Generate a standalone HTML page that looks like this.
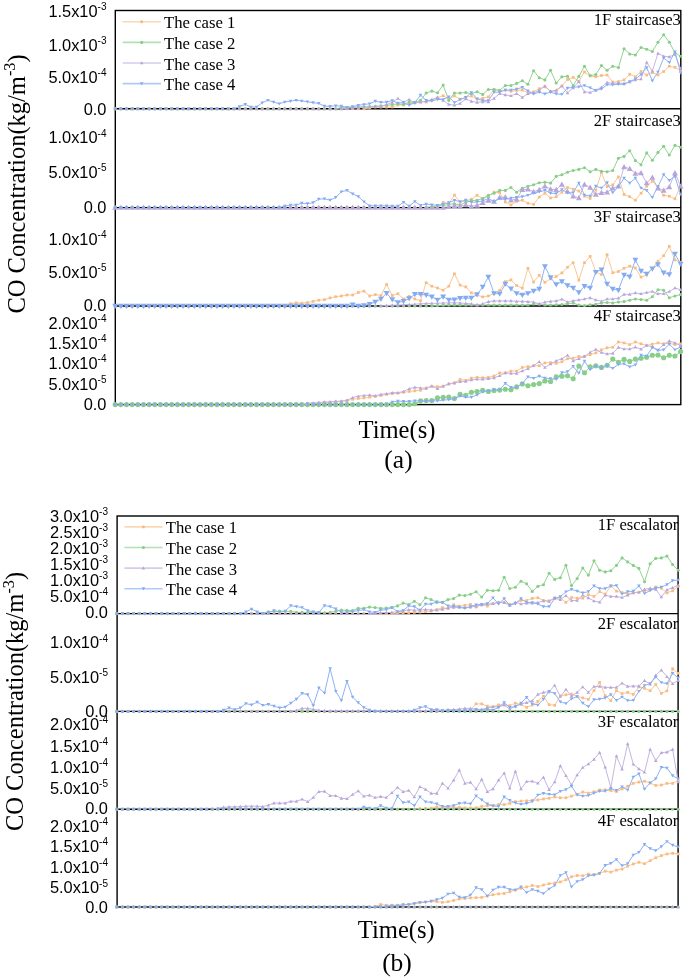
<!DOCTYPE html><html><head><meta charset="utf-8"><style>html,body{margin:0;padding:0;background:#fff;overflow:hidden}svg{display:block;filter:blur(0.3px)}</style></head><body>
<svg width="685" height="977" viewBox="0 0 685 977">
<rect width="100%" height="100%" fill="#fff"/>
<defs>
<clipPath id="clipA"><rect x="111.3" y="10.5" width="573.5" height="398.1"/></clipPath>
<clipPath id="clipB"><rect x="113.1" y="516.0" width="569.0" height="395.0"/></clipPath>
</defs>
<rect x="115.3" y="10.5" width="565.50" height="394.10" fill="none" stroke="#000" stroke-width="1.4"/>
<line x1="115.3" y1="108.8" x2="680.8" y2="108.8" stroke="#000" stroke-width="1.4"/>
<line x1="115.3" y1="207.6" x2="680.8" y2="207.6" stroke="#000" stroke-width="1.4"/>
<line x1="115.3" y1="306.0" x2="680.8" y2="306.0" stroke="#000" stroke-width="1.4"/>
<g clip-path="url(#clipA)">
<path d="M115.20,108.80M120.85,108.80M126.51,108.80M132.16,108.80M137.82,108.80M143.47,108.80M149.12,108.80M154.78,108.80M160.43,108.80M166.09,108.80M171.74,108.80M177.39,108.80M183.05,108.80M188.70,108.80M194.36,108.80M200.01,108.80M205.66,108.80M211.32,108.80M216.97,108.80M222.63,108.80M228.28,108.80M233.93,108.80M239.59,108.80M245.24,108.80M250.90,108.80M256.55,108.80M262.20,108.80M267.86,108.80M273.51,108.80M279.17,108.80M284.82,108.80M290.47,108.80M296.13,108.80M301.78,108.80M307.44,108.80M313.09,108.80M318.74,108.80M324.40,108.80M330.05,108.80M335.71,108.80M341.36,108.80M347.01,108.80M352.67,108.80M358.32,108.80M363.98,108.80L369.63,108.00L375.28,107.10L380.94,107.10L386.59,107.10L392.25,107.00L397.90,105.10L403.55,104.80L409.21,103.80L414.86,102.60L420.52,101.80L426.17,102.10L431.82,100.40L437.48,97.80L443.13,95.70L448.79,99.20L454.44,95.90L460.09,99.20L465.75,97.40L471.40,96.00L477.06,99.20L482.71,98.30L488.36,96.90L494.02,89.50L499.67,90.80L505.33,90.10L510.98,91.30L516.63,90.40L522.29,90.10L527.94,92.50L533.60,91.80L539.25,88.70L544.90,86.90L550.56,91.30L556.21,91.30L561.87,86.00L567.52,79.50L573.17,77.30L578.83,81.30L584.48,72.00L590.14,76.00L595.79,76.80L601.44,75.50L607.10,75.00L612.75,82.00L618.41,81.60L624.06,79.90L629.71,74.30L635.37,76.80L641.02,71.50L646.68,75.00L652.33,72.50L657.98,75.00L663.64,71.50L669.29,66.20L674.95,67.30L680.60,71.10" fill="none" stroke="#F9C796" stroke-width="1.0" stroke-linejoin="round"/>
<rect x="113.85" y="107.45" width="2.70" height="2.70" fill="#F8BC82"/><rect x="119.50" y="107.45" width="2.70" height="2.70" fill="#F8BC82"/><rect x="125.16" y="107.45" width="2.70" height="2.70" fill="#F8BC82"/><rect x="130.81" y="107.45" width="2.70" height="2.70" fill="#F8BC82"/><rect x="136.47" y="107.45" width="2.70" height="2.70" fill="#F8BC82"/><rect x="142.12" y="107.45" width="2.70" height="2.70" fill="#F8BC82"/><rect x="147.77" y="107.45" width="2.70" height="2.70" fill="#F8BC82"/><rect x="153.43" y="107.45" width="2.70" height="2.70" fill="#F8BC82"/><rect x="159.08" y="107.45" width="2.70" height="2.70" fill="#F8BC82"/><rect x="164.74" y="107.45" width="2.70" height="2.70" fill="#F8BC82"/><rect x="170.39" y="107.45" width="2.70" height="2.70" fill="#F8BC82"/><rect x="176.04" y="107.45" width="2.70" height="2.70" fill="#F8BC82"/><rect x="181.70" y="107.45" width="2.70" height="2.70" fill="#F8BC82"/><rect x="187.35" y="107.45" width="2.70" height="2.70" fill="#F8BC82"/><rect x="193.01" y="107.45" width="2.70" height="2.70" fill="#F8BC82"/><rect x="198.66" y="107.45" width="2.70" height="2.70" fill="#F8BC82"/><rect x="204.31" y="107.45" width="2.70" height="2.70" fill="#F8BC82"/><rect x="209.97" y="107.45" width="2.70" height="2.70" fill="#F8BC82"/><rect x="215.62" y="107.45" width="2.70" height="2.70" fill="#F8BC82"/><rect x="221.28" y="107.45" width="2.70" height="2.70" fill="#F8BC82"/><rect x="226.93" y="107.45" width="2.70" height="2.70" fill="#F8BC82"/><rect x="232.58" y="107.45" width="2.70" height="2.70" fill="#F8BC82"/><rect x="238.24" y="107.45" width="2.70" height="2.70" fill="#F8BC82"/><rect x="243.89" y="107.45" width="2.70" height="2.70" fill="#F8BC82"/><rect x="249.55" y="107.45" width="2.70" height="2.70" fill="#F8BC82"/><rect x="255.20" y="107.45" width="2.70" height="2.70" fill="#F8BC82"/><rect x="260.85" y="107.45" width="2.70" height="2.70" fill="#F8BC82"/><rect x="266.51" y="107.45" width="2.70" height="2.70" fill="#F8BC82"/><rect x="272.16" y="107.45" width="2.70" height="2.70" fill="#F8BC82"/><rect x="277.82" y="107.45" width="2.70" height="2.70" fill="#F8BC82"/><rect x="283.47" y="107.45" width="2.70" height="2.70" fill="#F8BC82"/><rect x="289.12" y="107.45" width="2.70" height="2.70" fill="#F8BC82"/><rect x="294.78" y="107.45" width="2.70" height="2.70" fill="#F8BC82"/><rect x="300.43" y="107.45" width="2.70" height="2.70" fill="#F8BC82"/><rect x="306.09" y="107.45" width="2.70" height="2.70" fill="#F8BC82"/><rect x="311.74" y="107.45" width="2.70" height="2.70" fill="#F8BC82"/><rect x="317.39" y="107.45" width="2.70" height="2.70" fill="#F8BC82"/><rect x="323.05" y="107.45" width="2.70" height="2.70" fill="#F8BC82"/><rect x="328.70" y="107.45" width="2.70" height="2.70" fill="#F8BC82"/><rect x="334.36" y="107.45" width="2.70" height="2.70" fill="#F8BC82"/><rect x="340.01" y="107.45" width="2.70" height="2.70" fill="#F8BC82"/><rect x="345.66" y="107.45" width="2.70" height="2.70" fill="#F8BC82"/><rect x="351.32" y="107.45" width="2.70" height="2.70" fill="#F8BC82"/><rect x="356.97" y="107.45" width="2.70" height="2.70" fill="#F8BC82"/><rect x="362.63" y="107.45" width="2.70" height="2.70" fill="#F8BC82"/><rect x="368.28" y="106.65" width="2.70" height="2.70" fill="#F8BC82"/><rect x="373.93" y="105.75" width="2.70" height="2.70" fill="#F8BC82"/><rect x="379.59" y="105.75" width="2.70" height="2.70" fill="#F8BC82"/><rect x="385.24" y="105.75" width="2.70" height="2.70" fill="#F8BC82"/><rect x="390.90" y="105.65" width="2.70" height="2.70" fill="#F8BC82"/><rect x="396.55" y="103.75" width="2.70" height="2.70" fill="#F8BC82"/><rect x="402.20" y="103.45" width="2.70" height="2.70" fill="#F8BC82"/><rect x="407.86" y="102.45" width="2.70" height="2.70" fill="#F8BC82"/><rect x="413.51" y="101.25" width="2.70" height="2.70" fill="#F8BC82"/><rect x="419.17" y="100.45" width="2.70" height="2.70" fill="#F8BC82"/><rect x="424.82" y="100.75" width="2.70" height="2.70" fill="#F8BC82"/><rect x="430.47" y="99.05" width="2.70" height="2.70" fill="#F8BC82"/><rect x="436.13" y="96.45" width="2.70" height="2.70" fill="#F8BC82"/><rect x="441.78" y="94.35" width="2.70" height="2.70" fill="#F8BC82"/><rect x="447.44" y="97.85" width="2.70" height="2.70" fill="#F8BC82"/><rect x="453.09" y="94.55" width="2.70" height="2.70" fill="#F8BC82"/><rect x="458.74" y="97.85" width="2.70" height="2.70" fill="#F8BC82"/><rect x="464.40" y="96.05" width="2.70" height="2.70" fill="#F8BC82"/><rect x="470.05" y="94.65" width="2.70" height="2.70" fill="#F8BC82"/><rect x="475.71" y="97.85" width="2.70" height="2.70" fill="#F8BC82"/><rect x="481.36" y="96.95" width="2.70" height="2.70" fill="#F8BC82"/><rect x="487.01" y="95.55" width="2.70" height="2.70" fill="#F8BC82"/><rect x="492.67" y="88.15" width="2.70" height="2.70" fill="#F8BC82"/><rect x="498.32" y="89.45" width="2.70" height="2.70" fill="#F8BC82"/><rect x="503.98" y="88.75" width="2.70" height="2.70" fill="#F8BC82"/><rect x="509.63" y="89.95" width="2.70" height="2.70" fill="#F8BC82"/><rect x="515.28" y="89.05" width="2.70" height="2.70" fill="#F8BC82"/><rect x="520.94" y="88.75" width="2.70" height="2.70" fill="#F8BC82"/><rect x="526.59" y="91.15" width="2.70" height="2.70" fill="#F8BC82"/><rect x="532.25" y="90.45" width="2.70" height="2.70" fill="#F8BC82"/><rect x="537.90" y="87.35" width="2.70" height="2.70" fill="#F8BC82"/><rect x="543.55" y="85.55" width="2.70" height="2.70" fill="#F8BC82"/><rect x="549.21" y="89.95" width="2.70" height="2.70" fill="#F8BC82"/><rect x="554.86" y="89.95" width="2.70" height="2.70" fill="#F8BC82"/><rect x="560.52" y="84.65" width="2.70" height="2.70" fill="#F8BC82"/><rect x="566.17" y="78.15" width="2.70" height="2.70" fill="#F8BC82"/><rect x="571.82" y="75.95" width="2.70" height="2.70" fill="#F8BC82"/><rect x="577.48" y="79.95" width="2.70" height="2.70" fill="#F8BC82"/><rect x="583.13" y="70.65" width="2.70" height="2.70" fill="#F8BC82"/><rect x="588.79" y="74.65" width="2.70" height="2.70" fill="#F8BC82"/><rect x="594.44" y="75.45" width="2.70" height="2.70" fill="#F8BC82"/><rect x="600.09" y="74.15" width="2.70" height="2.70" fill="#F8BC82"/><rect x="605.75" y="73.65" width="2.70" height="2.70" fill="#F8BC82"/><rect x="611.40" y="80.65" width="2.70" height="2.70" fill="#F8BC82"/><rect x="617.06" y="80.25" width="2.70" height="2.70" fill="#F8BC82"/><rect x="622.71" y="78.55" width="2.70" height="2.70" fill="#F8BC82"/><rect x="628.36" y="72.95" width="2.70" height="2.70" fill="#F8BC82"/><rect x="634.02" y="75.45" width="2.70" height="2.70" fill="#F8BC82"/><rect x="639.67" y="70.15" width="2.70" height="2.70" fill="#F8BC82"/><rect x="645.33" y="73.65" width="2.70" height="2.70" fill="#F8BC82"/><rect x="650.98" y="71.15" width="2.70" height="2.70" fill="#F8BC82"/><rect x="656.63" y="73.65" width="2.70" height="2.70" fill="#F8BC82"/><rect x="662.29" y="70.15" width="2.70" height="2.70" fill="#F8BC82"/><rect x="667.94" y="64.85" width="2.70" height="2.70" fill="#F8BC82"/><rect x="673.60" y="65.95" width="2.70" height="2.70" fill="#F8BC82"/><rect x="679.25" y="69.75" width="2.70" height="2.70" fill="#F8BC82"/>
<path d="M115.20,108.80M120.85,108.80M126.51,108.80M132.16,108.80M137.82,108.80M143.47,108.80M149.12,108.80M154.78,108.80M160.43,108.80M166.09,108.80M171.74,108.80M177.39,108.80M183.05,108.80M188.70,108.80M194.36,108.80M200.01,108.80M205.66,108.80M211.32,108.80M216.97,108.80M222.63,108.80M228.28,108.80M233.93,108.80M239.59,108.80M245.24,108.80M250.90,108.80M256.55,108.80M262.20,108.80M267.86,108.80M273.51,108.80M279.17,108.80M284.82,108.80M290.47,108.80M296.13,108.80M301.78,108.80M307.44,108.80M313.09,108.80M318.74,108.80M324.40,108.80M330.05,108.80M335.71,108.80L341.36,107.80L347.01,107.60L352.67,107.30L358.32,107.00L363.98,106.80L369.63,106.50L375.28,106.30L380.94,105.90L386.59,105.30L392.25,104.60L397.90,103.80L403.55,104.60L409.21,102.00L414.86,102.40L420.52,100.40L426.17,93.00L431.82,91.10L437.48,92.80L443.13,85.10L448.79,100.40L454.44,93.00L460.09,93.00L465.75,92.50L471.40,93.60L477.06,91.80L482.71,94.40L488.36,89.50L494.02,89.50L499.67,90.40L505.33,85.50L510.98,85.50L516.63,83.40L522.29,80.80L527.94,84.30L533.60,70.80L539.25,77.80L544.90,79.90L550.56,70.30L556.21,83.00L561.87,76.80L567.52,76.20L573.17,85.50L578.83,76.40L584.48,66.20L590.14,75.50L595.79,74.60L601.44,65.50L607.10,70.30L612.75,66.20L618.41,67.60L624.06,48.70L629.71,54.00L635.37,55.00L641.02,47.50L646.68,49.20L652.33,51.50L657.98,42.20L663.64,34.70L669.29,42.20L674.95,52.70L680.60,56.20" fill="none" stroke="#92D392" stroke-width="1.0" stroke-linejoin="round"/>
<circle cx="115.20" cy="108.80" r="1.55" fill="#88CE89"/><circle cx="120.85" cy="108.80" r="1.55" fill="#88CE89"/><circle cx="126.51" cy="108.80" r="1.55" fill="#88CE89"/><circle cx="132.16" cy="108.80" r="1.55" fill="#88CE89"/><circle cx="137.82" cy="108.80" r="1.55" fill="#88CE89"/><circle cx="143.47" cy="108.80" r="1.55" fill="#88CE89"/><circle cx="149.12" cy="108.80" r="1.55" fill="#88CE89"/><circle cx="154.78" cy="108.80" r="1.55" fill="#88CE89"/><circle cx="160.43" cy="108.80" r="1.55" fill="#88CE89"/><circle cx="166.09" cy="108.80" r="1.55" fill="#88CE89"/><circle cx="171.74" cy="108.80" r="1.55" fill="#88CE89"/><circle cx="177.39" cy="108.80" r="1.55" fill="#88CE89"/><circle cx="183.05" cy="108.80" r="1.55" fill="#88CE89"/><circle cx="188.70" cy="108.80" r="1.55" fill="#88CE89"/><circle cx="194.36" cy="108.80" r="1.55" fill="#88CE89"/><circle cx="200.01" cy="108.80" r="1.55" fill="#88CE89"/><circle cx="205.66" cy="108.80" r="1.55" fill="#88CE89"/><circle cx="211.32" cy="108.80" r="1.55" fill="#88CE89"/><circle cx="216.97" cy="108.80" r="1.55" fill="#88CE89"/><circle cx="222.63" cy="108.80" r="1.55" fill="#88CE89"/><circle cx="228.28" cy="108.80" r="1.55" fill="#88CE89"/><circle cx="233.93" cy="108.80" r="1.55" fill="#88CE89"/><circle cx="239.59" cy="108.80" r="1.55" fill="#88CE89"/><circle cx="245.24" cy="108.80" r="1.55" fill="#88CE89"/><circle cx="250.90" cy="108.80" r="1.55" fill="#88CE89"/><circle cx="256.55" cy="108.80" r="1.55" fill="#88CE89"/><circle cx="262.20" cy="108.80" r="1.55" fill="#88CE89"/><circle cx="267.86" cy="108.80" r="1.55" fill="#88CE89"/><circle cx="273.51" cy="108.80" r="1.55" fill="#88CE89"/><circle cx="279.17" cy="108.80" r="1.55" fill="#88CE89"/><circle cx="284.82" cy="108.80" r="1.55" fill="#88CE89"/><circle cx="290.47" cy="108.80" r="1.55" fill="#88CE89"/><circle cx="296.13" cy="108.80" r="1.55" fill="#88CE89"/><circle cx="301.78" cy="108.80" r="1.55" fill="#88CE89"/><circle cx="307.44" cy="108.80" r="1.55" fill="#88CE89"/><circle cx="313.09" cy="108.80" r="1.55" fill="#88CE89"/><circle cx="318.74" cy="108.80" r="1.55" fill="#88CE89"/><circle cx="324.40" cy="108.80" r="1.55" fill="#88CE89"/><circle cx="330.05" cy="108.80" r="1.55" fill="#88CE89"/><circle cx="335.71" cy="108.80" r="1.55" fill="#88CE89"/><circle cx="341.36" cy="107.80" r="1.55" fill="#88CE89"/><circle cx="347.01" cy="107.60" r="1.55" fill="#88CE89"/><circle cx="352.67" cy="107.30" r="1.55" fill="#88CE89"/><circle cx="358.32" cy="107.00" r="1.55" fill="#88CE89"/><circle cx="363.98" cy="106.80" r="1.55" fill="#88CE89"/><circle cx="369.63" cy="106.50" r="1.55" fill="#88CE89"/><circle cx="375.28" cy="106.30" r="1.55" fill="#88CE89"/><circle cx="380.94" cy="105.90" r="1.55" fill="#88CE89"/><circle cx="386.59" cy="105.30" r="1.55" fill="#88CE89"/><circle cx="392.25" cy="104.60" r="1.55" fill="#88CE89"/><circle cx="397.90" cy="103.80" r="1.55" fill="#88CE89"/><circle cx="403.55" cy="104.60" r="1.55" fill="#88CE89"/><circle cx="409.21" cy="102.00" r="1.55" fill="#88CE89"/><circle cx="414.86" cy="102.40" r="1.55" fill="#88CE89"/><circle cx="420.52" cy="100.40" r="1.55" fill="#88CE89"/><circle cx="426.17" cy="93.00" r="1.55" fill="#88CE89"/><circle cx="431.82" cy="91.10" r="1.55" fill="#88CE89"/><circle cx="437.48" cy="92.80" r="1.55" fill="#88CE89"/><circle cx="443.13" cy="85.10" r="1.55" fill="#88CE89"/><circle cx="448.79" cy="100.40" r="1.55" fill="#88CE89"/><circle cx="454.44" cy="93.00" r="1.55" fill="#88CE89"/><circle cx="460.09" cy="93.00" r="1.55" fill="#88CE89"/><circle cx="465.75" cy="92.50" r="1.55" fill="#88CE89"/><circle cx="471.40" cy="93.60" r="1.55" fill="#88CE89"/><circle cx="477.06" cy="91.80" r="1.55" fill="#88CE89"/><circle cx="482.71" cy="94.40" r="1.55" fill="#88CE89"/><circle cx="488.36" cy="89.50" r="1.55" fill="#88CE89"/><circle cx="494.02" cy="89.50" r="1.55" fill="#88CE89"/><circle cx="499.67" cy="90.40" r="1.55" fill="#88CE89"/><circle cx="505.33" cy="85.50" r="1.55" fill="#88CE89"/><circle cx="510.98" cy="85.50" r="1.55" fill="#88CE89"/><circle cx="516.63" cy="83.40" r="1.55" fill="#88CE89"/><circle cx="522.29" cy="80.80" r="1.55" fill="#88CE89"/><circle cx="527.94" cy="84.30" r="1.55" fill="#88CE89"/><circle cx="533.60" cy="70.80" r="1.55" fill="#88CE89"/><circle cx="539.25" cy="77.80" r="1.55" fill="#88CE89"/><circle cx="544.90" cy="79.90" r="1.55" fill="#88CE89"/><circle cx="550.56" cy="70.30" r="1.55" fill="#88CE89"/><circle cx="556.21" cy="83.00" r="1.55" fill="#88CE89"/><circle cx="561.87" cy="76.80" r="1.55" fill="#88CE89"/><circle cx="567.52" cy="76.20" r="1.55" fill="#88CE89"/><circle cx="573.17" cy="85.50" r="1.55" fill="#88CE89"/><circle cx="578.83" cy="76.40" r="1.55" fill="#88CE89"/><circle cx="584.48" cy="66.20" r="1.55" fill="#88CE89"/><circle cx="590.14" cy="75.50" r="1.55" fill="#88CE89"/><circle cx="595.79" cy="74.60" r="1.55" fill="#88CE89"/><circle cx="601.44" cy="65.50" r="1.55" fill="#88CE89"/><circle cx="607.10" cy="70.30" r="1.55" fill="#88CE89"/><circle cx="612.75" cy="66.20" r="1.55" fill="#88CE89"/><circle cx="618.41" cy="67.60" r="1.55" fill="#88CE89"/><circle cx="624.06" cy="48.70" r="1.55" fill="#88CE89"/><circle cx="629.71" cy="54.00" r="1.55" fill="#88CE89"/><circle cx="635.37" cy="55.00" r="1.55" fill="#88CE89"/><circle cx="641.02" cy="47.50" r="1.55" fill="#88CE89"/><circle cx="646.68" cy="49.20" r="1.55" fill="#88CE89"/><circle cx="652.33" cy="51.50" r="1.55" fill="#88CE89"/><circle cx="657.98" cy="42.20" r="1.55" fill="#88CE89"/><circle cx="663.64" cy="34.70" r="1.55" fill="#88CE89"/><circle cx="669.29" cy="42.20" r="1.55" fill="#88CE89"/><circle cx="674.95" cy="52.70" r="1.55" fill="#88CE89"/><circle cx="680.60" cy="56.20" r="1.55" fill="#88CE89"/>
<path d="M115.20,108.80M120.85,108.80M126.51,108.80M132.16,108.80M137.82,108.80M143.47,108.80M149.12,108.80M154.78,108.80M160.43,108.80M166.09,108.80M171.74,108.80M177.39,108.80M183.05,108.80M188.70,108.80M194.36,108.80M200.01,108.80M205.66,108.80M211.32,108.80M216.97,108.80M222.63,108.80M228.28,108.80M233.93,108.80M239.59,108.80M245.24,108.80M250.90,108.80M256.55,108.80M262.20,108.80M267.86,108.80M273.51,108.80M279.17,108.80M284.82,108.80M290.47,108.80M296.13,108.80M301.78,108.80M307.44,108.80M313.09,108.80M318.74,108.80M324.40,108.80M330.05,108.80M335.71,108.80M341.36,108.80L347.01,108.30L352.67,108.00L358.32,107.80L363.98,107.50L369.63,107.20L375.28,106.30L380.94,106.40L386.59,104.50L392.25,102.30L397.90,98.50L403.55,102.10L409.21,99.50L414.86,102.90L420.52,102.10L426.17,101.20L431.82,99.50L437.48,97.40L443.13,100.40L448.79,104.40L454.44,105.20L460.09,103.50L465.75,98.80L471.40,101.30L477.06,102.30L482.71,101.80L488.36,101.80L494.02,98.30L499.67,93.60L505.33,94.80L510.98,95.70L516.63,93.60L522.29,97.40L527.94,93.60L533.60,93.00L539.25,90.40L544.90,86.00L550.56,91.30L556.21,90.10L561.87,86.00L567.52,92.80L573.17,87.80L578.83,81.60L584.48,91.80L590.14,92.50L595.79,90.10L601.44,87.30L607.10,82.50L612.75,83.40L618.41,83.00L624.06,83.40L629.71,82.00L635.37,79.90L641.02,79.00L646.68,62.40L652.33,71.10L657.98,53.30L663.64,56.20L669.29,56.80L674.95,54.50L680.60,68.50" fill="none" stroke="#C5B6E0" stroke-width="1.0" stroke-linejoin="round"/>
<path d="M115.20,107.00L117.00,110.15L113.40,110.15Z" fill="#B8A6DA"/><path d="M120.85,107.00L122.65,110.15L119.05,110.15Z" fill="#B8A6DA"/><path d="M126.51,107.00L128.31,110.15L124.71,110.15Z" fill="#B8A6DA"/><path d="M132.16,107.00L133.96,110.15L130.36,110.15Z" fill="#B8A6DA"/><path d="M137.82,107.00L139.62,110.15L136.02,110.15Z" fill="#B8A6DA"/><path d="M143.47,107.00L145.27,110.15L141.67,110.15Z" fill="#B8A6DA"/><path d="M149.12,107.00L150.92,110.15L147.32,110.15Z" fill="#B8A6DA"/><path d="M154.78,107.00L156.58,110.15L152.98,110.15Z" fill="#B8A6DA"/><path d="M160.43,107.00L162.23,110.15L158.63,110.15Z" fill="#B8A6DA"/><path d="M166.09,107.00L167.89,110.15L164.29,110.15Z" fill="#B8A6DA"/><path d="M171.74,107.00L173.54,110.15L169.94,110.15Z" fill="#B8A6DA"/><path d="M177.39,107.00L179.19,110.15L175.59,110.15Z" fill="#B8A6DA"/><path d="M183.05,107.00L184.85,110.15L181.25,110.15Z" fill="#B8A6DA"/><path d="M188.70,107.00L190.50,110.15L186.90,110.15Z" fill="#B8A6DA"/><path d="M194.36,107.00L196.16,110.15L192.56,110.15Z" fill="#B8A6DA"/><path d="M200.01,107.00L201.81,110.15L198.21,110.15Z" fill="#B8A6DA"/><path d="M205.66,107.00L207.46,110.15L203.86,110.15Z" fill="#B8A6DA"/><path d="M211.32,107.00L213.12,110.15L209.52,110.15Z" fill="#B8A6DA"/><path d="M216.97,107.00L218.77,110.15L215.17,110.15Z" fill="#B8A6DA"/><path d="M222.63,107.00L224.43,110.15L220.83,110.15Z" fill="#B8A6DA"/><path d="M228.28,107.00L230.08,110.15L226.48,110.15Z" fill="#B8A6DA"/><path d="M233.93,107.00L235.73,110.15L232.13,110.15Z" fill="#B8A6DA"/><path d="M239.59,107.00L241.39,110.15L237.79,110.15Z" fill="#B8A6DA"/><path d="M245.24,107.00L247.04,110.15L243.44,110.15Z" fill="#B8A6DA"/><path d="M250.90,107.00L252.70,110.15L249.10,110.15Z" fill="#B8A6DA"/><path d="M256.55,107.00L258.35,110.15L254.75,110.15Z" fill="#B8A6DA"/><path d="M262.20,107.00L264.00,110.15L260.40,110.15Z" fill="#B8A6DA"/><path d="M267.86,107.00L269.66,110.15L266.06,110.15Z" fill="#B8A6DA"/><path d="M273.51,107.00L275.31,110.15L271.71,110.15Z" fill="#B8A6DA"/><path d="M279.17,107.00L280.97,110.15L277.37,110.15Z" fill="#B8A6DA"/><path d="M284.82,107.00L286.62,110.15L283.02,110.15Z" fill="#B8A6DA"/><path d="M290.47,107.00L292.27,110.15L288.67,110.15Z" fill="#B8A6DA"/><path d="M296.13,107.00L297.93,110.15L294.33,110.15Z" fill="#B8A6DA"/><path d="M301.78,107.00L303.58,110.15L299.98,110.15Z" fill="#B8A6DA"/><path d="M307.44,107.00L309.24,110.15L305.64,110.15Z" fill="#B8A6DA"/><path d="M313.09,107.00L314.89,110.15L311.29,110.15Z" fill="#B8A6DA"/><path d="M318.74,107.00L320.54,110.15L316.94,110.15Z" fill="#B8A6DA"/><path d="M324.40,107.00L326.20,110.15L322.60,110.15Z" fill="#B8A6DA"/><path d="M330.05,107.00L331.85,110.15L328.25,110.15Z" fill="#B8A6DA"/><path d="M335.71,107.00L337.51,110.15L333.91,110.15Z" fill="#B8A6DA"/><path d="M341.36,107.00L343.16,110.15L339.56,110.15Z" fill="#B8A6DA"/><path d="M347.01,106.50L348.81,109.65L345.21,109.65Z" fill="#B8A6DA"/><path d="M352.67,106.20L354.47,109.35L350.87,109.35Z" fill="#B8A6DA"/><path d="M358.32,106.00L360.12,109.15L356.52,109.15Z" fill="#B8A6DA"/><path d="M363.98,105.70L365.78,108.85L362.18,108.85Z" fill="#B8A6DA"/><path d="M369.63,105.40L371.43,108.55L367.83,108.55Z" fill="#B8A6DA"/><path d="M375.28,104.50L377.08,107.65L373.48,107.65Z" fill="#B8A6DA"/><path d="M380.94,104.60L382.74,107.75L379.14,107.75Z" fill="#B8A6DA"/><path d="M386.59,102.70L388.39,105.85L384.79,105.85Z" fill="#B8A6DA"/><path d="M392.25,100.50L394.05,103.65L390.45,103.65Z" fill="#B8A6DA"/><path d="M397.90,96.70L399.70,99.85L396.10,99.85Z" fill="#B8A6DA"/><path d="M403.55,100.30L405.35,103.45L401.75,103.45Z" fill="#B8A6DA"/><path d="M409.21,97.70L411.01,100.85L407.41,100.85Z" fill="#B8A6DA"/><path d="M414.86,101.10L416.66,104.25L413.06,104.25Z" fill="#B8A6DA"/><path d="M420.52,100.30L422.32,103.45L418.72,103.45Z" fill="#B8A6DA"/><path d="M426.17,99.40L427.97,102.55L424.37,102.55Z" fill="#B8A6DA"/><path d="M431.82,97.70L433.62,100.85L430.02,100.85Z" fill="#B8A6DA"/><path d="M437.48,95.60L439.28,98.75L435.68,98.75Z" fill="#B8A6DA"/><path d="M443.13,98.60L444.93,101.75L441.33,101.75Z" fill="#B8A6DA"/><path d="M448.79,102.60L450.59,105.75L446.99,105.75Z" fill="#B8A6DA"/><path d="M454.44,103.40L456.24,106.55L452.64,106.55Z" fill="#B8A6DA"/><path d="M460.09,101.70L461.89,104.85L458.29,104.85Z" fill="#B8A6DA"/><path d="M465.75,97.00L467.55,100.15L463.95,100.15Z" fill="#B8A6DA"/><path d="M471.40,99.50L473.20,102.65L469.60,102.65Z" fill="#B8A6DA"/><path d="M477.06,100.50L478.86,103.65L475.26,103.65Z" fill="#B8A6DA"/><path d="M482.71,100.00L484.51,103.15L480.91,103.15Z" fill="#B8A6DA"/><path d="M488.36,100.00L490.16,103.15L486.56,103.15Z" fill="#B8A6DA"/><path d="M494.02,96.50L495.82,99.65L492.22,99.65Z" fill="#B8A6DA"/><path d="M499.67,91.80L501.47,94.95L497.87,94.95Z" fill="#B8A6DA"/><path d="M505.33,93.00L507.13,96.15L503.53,96.15Z" fill="#B8A6DA"/><path d="M510.98,93.90L512.78,97.05L509.18,97.05Z" fill="#B8A6DA"/><path d="M516.63,91.80L518.43,94.95L514.83,94.95Z" fill="#B8A6DA"/><path d="M522.29,95.60L524.09,98.75L520.49,98.75Z" fill="#B8A6DA"/><path d="M527.94,91.80L529.74,94.95L526.14,94.95Z" fill="#B8A6DA"/><path d="M533.60,91.20L535.40,94.35L531.80,94.35Z" fill="#B8A6DA"/><path d="M539.25,88.60L541.05,91.75L537.45,91.75Z" fill="#B8A6DA"/><path d="M544.90,84.20L546.70,87.35L543.10,87.35Z" fill="#B8A6DA"/><path d="M550.56,89.50L552.36,92.65L548.76,92.65Z" fill="#B8A6DA"/><path d="M556.21,88.30L558.01,91.45L554.41,91.45Z" fill="#B8A6DA"/><path d="M561.87,84.20L563.67,87.35L560.07,87.35Z" fill="#B8A6DA"/><path d="M567.52,91.00L569.32,94.15L565.72,94.15Z" fill="#B8A6DA"/><path d="M573.17,86.00L574.97,89.15L571.37,89.15Z" fill="#B8A6DA"/><path d="M578.83,79.80L580.63,82.95L577.03,82.95Z" fill="#B8A6DA"/><path d="M584.48,90.00L586.28,93.15L582.68,93.15Z" fill="#B8A6DA"/><path d="M590.14,90.70L591.94,93.85L588.34,93.85Z" fill="#B8A6DA"/><path d="M595.79,88.30L597.59,91.45L593.99,91.45Z" fill="#B8A6DA"/><path d="M601.44,85.50L603.24,88.65L599.64,88.65Z" fill="#B8A6DA"/><path d="M607.10,80.70L608.90,83.85L605.30,83.85Z" fill="#B8A6DA"/><path d="M612.75,81.60L614.55,84.75L610.95,84.75Z" fill="#B8A6DA"/><path d="M618.41,81.20L620.21,84.35L616.61,84.35Z" fill="#B8A6DA"/><path d="M624.06,81.60L625.86,84.75L622.26,84.75Z" fill="#B8A6DA"/><path d="M629.71,80.20L631.51,83.35L627.91,83.35Z" fill="#B8A6DA"/><path d="M635.37,78.10L637.17,81.25L633.57,81.25Z" fill="#B8A6DA"/><path d="M641.02,77.20L642.82,80.35L639.22,80.35Z" fill="#B8A6DA"/><path d="M646.68,60.60L648.48,63.75L644.88,63.75Z" fill="#B8A6DA"/><path d="M652.33,69.30L654.13,72.45L650.53,72.45Z" fill="#B8A6DA"/><path d="M657.98,51.50L659.78,54.65L656.18,54.65Z" fill="#B8A6DA"/><path d="M663.64,54.40L665.44,57.55L661.84,57.55Z" fill="#B8A6DA"/><path d="M669.29,55.00L671.09,58.15L667.49,58.15Z" fill="#B8A6DA"/><path d="M674.95,52.70L676.75,55.85L673.15,55.85Z" fill="#B8A6DA"/><path d="M680.60,66.70L682.40,69.85L678.80,69.85Z" fill="#B8A6DA"/>
<path d="M115.20,108.80M120.85,108.80M126.51,108.80M132.16,108.80M137.82,108.80M143.47,108.80M149.12,108.80M154.78,108.80M160.43,108.80M166.09,108.80M171.74,108.80M177.39,108.80M183.05,108.80M188.70,108.80M194.36,108.80M200.01,108.80M205.66,108.80M211.32,108.80M216.97,108.80M222.63,108.80M228.28,108.80M233.93,108.80L239.59,106.50L245.24,104.40L250.90,107.00L256.55,107.00L262.20,102.80L267.86,100.30L273.51,102.00L279.17,103.80L284.82,102.00L290.47,101.10L296.13,100.30L301.78,101.00L307.44,101.80L313.09,102.70L318.74,103.40L324.40,106.20L330.05,106.40L335.71,105.80L341.36,106.20L347.01,107.30L352.67,106.70L358.32,105.30L363.98,104.50L369.63,103.80L375.28,101.20L380.94,102.40L386.59,102.10L392.25,100.60L397.90,103.20L403.55,102.40L409.21,105.10L414.86,102.60L420.52,95.10L426.17,100.40L431.82,100.90L437.48,99.50L443.13,99.50L448.79,96.90L454.44,102.60L460.09,99.50L465.75,97.40L471.40,92.50L477.06,98.80L482.71,100.60L488.36,100.60L494.02,92.20L499.67,92.20L505.33,90.10L510.98,90.10L516.63,89.00L522.29,87.40L527.94,90.90L533.60,93.90L539.25,92.20L544.90,93.90L550.56,92.20L556.21,93.90L561.87,94.30L567.52,88.10L573.17,87.30L578.83,86.90L584.48,85.50L590.14,87.80L595.79,90.40L601.44,89.00L607.10,84.80L612.75,84.80L618.41,84.30L624.06,84.30L629.71,81.60L635.37,79.00L641.02,74.60L646.68,67.60L652.33,80.80L657.98,72.00L663.64,58.00L669.29,62.40L674.95,51.90L680.60,72.90" fill="none" stroke="#8FB3F3" stroke-width="1.0" stroke-linejoin="round"/>
<path d="M115.20,110.60L117.00,107.45L113.40,107.45Z" fill="#84ABF2"/><path d="M120.85,110.60L122.65,107.45L119.05,107.45Z" fill="#84ABF2"/><path d="M126.51,110.60L128.31,107.45L124.71,107.45Z" fill="#84ABF2"/><path d="M132.16,110.60L133.96,107.45L130.36,107.45Z" fill="#84ABF2"/><path d="M137.82,110.60L139.62,107.45L136.02,107.45Z" fill="#84ABF2"/><path d="M143.47,110.60L145.27,107.45L141.67,107.45Z" fill="#84ABF2"/><path d="M149.12,110.60L150.92,107.45L147.32,107.45Z" fill="#84ABF2"/><path d="M154.78,110.60L156.58,107.45L152.98,107.45Z" fill="#84ABF2"/><path d="M160.43,110.60L162.23,107.45L158.63,107.45Z" fill="#84ABF2"/><path d="M166.09,110.60L167.89,107.45L164.29,107.45Z" fill="#84ABF2"/><path d="M171.74,110.60L173.54,107.45L169.94,107.45Z" fill="#84ABF2"/><path d="M177.39,110.60L179.19,107.45L175.59,107.45Z" fill="#84ABF2"/><path d="M183.05,110.60L184.85,107.45L181.25,107.45Z" fill="#84ABF2"/><path d="M188.70,110.60L190.50,107.45L186.90,107.45Z" fill="#84ABF2"/><path d="M194.36,110.60L196.16,107.45L192.56,107.45Z" fill="#84ABF2"/><path d="M200.01,110.60L201.81,107.45L198.21,107.45Z" fill="#84ABF2"/><path d="M205.66,110.60L207.46,107.45L203.86,107.45Z" fill="#84ABF2"/><path d="M211.32,110.60L213.12,107.45L209.52,107.45Z" fill="#84ABF2"/><path d="M216.97,110.60L218.77,107.45L215.17,107.45Z" fill="#84ABF2"/><path d="M222.63,110.60L224.43,107.45L220.83,107.45Z" fill="#84ABF2"/><path d="M228.28,110.60L230.08,107.45L226.48,107.45Z" fill="#84ABF2"/><path d="M233.93,110.60L235.73,107.45L232.13,107.45Z" fill="#84ABF2"/><path d="M239.59,108.30L241.39,105.15L237.79,105.15Z" fill="#84ABF2"/><path d="M245.24,106.20L247.04,103.05L243.44,103.05Z" fill="#84ABF2"/><path d="M250.90,108.80L252.70,105.65L249.10,105.65Z" fill="#84ABF2"/><path d="M256.55,108.80L258.35,105.65L254.75,105.65Z" fill="#84ABF2"/><path d="M262.20,104.60L264.00,101.45L260.40,101.45Z" fill="#84ABF2"/><path d="M267.86,102.10L269.66,98.95L266.06,98.95Z" fill="#84ABF2"/><path d="M273.51,103.80L275.31,100.65L271.71,100.65Z" fill="#84ABF2"/><path d="M279.17,105.60L280.97,102.45L277.37,102.45Z" fill="#84ABF2"/><path d="M284.82,103.80L286.62,100.65L283.02,100.65Z" fill="#84ABF2"/><path d="M290.47,102.90L292.27,99.75L288.67,99.75Z" fill="#84ABF2"/><path d="M296.13,102.10L297.93,98.95L294.33,98.95Z" fill="#84ABF2"/><path d="M301.78,102.80L303.58,99.65L299.98,99.65Z" fill="#84ABF2"/><path d="M307.44,103.60L309.24,100.45L305.64,100.45Z" fill="#84ABF2"/><path d="M313.09,104.50L314.89,101.35L311.29,101.35Z" fill="#84ABF2"/><path d="M318.74,105.20L320.54,102.05L316.94,102.05Z" fill="#84ABF2"/><path d="M324.40,108.00L326.20,104.85L322.60,104.85Z" fill="#84ABF2"/><path d="M330.05,108.20L331.85,105.05L328.25,105.05Z" fill="#84ABF2"/><path d="M335.71,107.60L337.51,104.45L333.91,104.45Z" fill="#84ABF2"/><path d="M341.36,108.00L343.16,104.85L339.56,104.85Z" fill="#84ABF2"/><path d="M347.01,109.10L348.81,105.95L345.21,105.95Z" fill="#84ABF2"/><path d="M352.67,108.50L354.47,105.35L350.87,105.35Z" fill="#84ABF2"/><path d="M358.32,107.10L360.12,103.95L356.52,103.95Z" fill="#84ABF2"/><path d="M363.98,106.30L365.78,103.15L362.18,103.15Z" fill="#84ABF2"/><path d="M369.63,105.60L371.43,102.45L367.83,102.45Z" fill="#84ABF2"/><path d="M375.28,103.00L377.08,99.85L373.48,99.85Z" fill="#84ABF2"/><path d="M380.94,104.20L382.74,101.05L379.14,101.05Z" fill="#84ABF2"/><path d="M386.59,103.90L388.39,100.75L384.79,100.75Z" fill="#84ABF2"/><path d="M392.25,102.40L394.05,99.25L390.45,99.25Z" fill="#84ABF2"/><path d="M397.90,105.00L399.70,101.85L396.10,101.85Z" fill="#84ABF2"/><path d="M403.55,104.20L405.35,101.05L401.75,101.05Z" fill="#84ABF2"/><path d="M409.21,106.90L411.01,103.75L407.41,103.75Z" fill="#84ABF2"/><path d="M414.86,104.40L416.66,101.25L413.06,101.25Z" fill="#84ABF2"/><path d="M420.52,96.90L422.32,93.75L418.72,93.75Z" fill="#84ABF2"/><path d="M426.17,102.20L427.97,99.05L424.37,99.05Z" fill="#84ABF2"/><path d="M431.82,102.70L433.62,99.55L430.02,99.55Z" fill="#84ABF2"/><path d="M437.48,101.30L439.28,98.15L435.68,98.15Z" fill="#84ABF2"/><path d="M443.13,101.30L444.93,98.15L441.33,98.15Z" fill="#84ABF2"/><path d="M448.79,98.70L450.59,95.55L446.99,95.55Z" fill="#84ABF2"/><path d="M454.44,104.40L456.24,101.25L452.64,101.25Z" fill="#84ABF2"/><path d="M460.09,101.30L461.89,98.15L458.29,98.15Z" fill="#84ABF2"/><path d="M465.75,99.20L467.55,96.05L463.95,96.05Z" fill="#84ABF2"/><path d="M471.40,94.30L473.20,91.15L469.60,91.15Z" fill="#84ABF2"/><path d="M477.06,100.60L478.86,97.45L475.26,97.45Z" fill="#84ABF2"/><path d="M482.71,102.40L484.51,99.25L480.91,99.25Z" fill="#84ABF2"/><path d="M488.36,102.40L490.16,99.25L486.56,99.25Z" fill="#84ABF2"/><path d="M494.02,94.00L495.82,90.85L492.22,90.85Z" fill="#84ABF2"/><path d="M499.67,94.00L501.47,90.85L497.87,90.85Z" fill="#84ABF2"/><path d="M505.33,91.90L507.13,88.75L503.53,88.75Z" fill="#84ABF2"/><path d="M510.98,91.90L512.78,88.75L509.18,88.75Z" fill="#84ABF2"/><path d="M516.63,90.80L518.43,87.65L514.83,87.65Z" fill="#84ABF2"/><path d="M522.29,89.20L524.09,86.05L520.49,86.05Z" fill="#84ABF2"/><path d="M527.94,92.70L529.74,89.55L526.14,89.55Z" fill="#84ABF2"/><path d="M533.60,95.70L535.40,92.55L531.80,92.55Z" fill="#84ABF2"/><path d="M539.25,94.00L541.05,90.85L537.45,90.85Z" fill="#84ABF2"/><path d="M544.90,95.70L546.70,92.55L543.10,92.55Z" fill="#84ABF2"/><path d="M550.56,94.00L552.36,90.85L548.76,90.85Z" fill="#84ABF2"/><path d="M556.21,95.70L558.01,92.55L554.41,92.55Z" fill="#84ABF2"/><path d="M561.87,96.10L563.67,92.95L560.07,92.95Z" fill="#84ABF2"/><path d="M567.52,89.90L569.32,86.75L565.72,86.75Z" fill="#84ABF2"/><path d="M573.17,89.10L574.97,85.95L571.37,85.95Z" fill="#84ABF2"/><path d="M578.83,88.70L580.63,85.55L577.03,85.55Z" fill="#84ABF2"/><path d="M584.48,87.30L586.28,84.15L582.68,84.15Z" fill="#84ABF2"/><path d="M590.14,89.60L591.94,86.45L588.34,86.45Z" fill="#84ABF2"/><path d="M595.79,92.20L597.59,89.05L593.99,89.05Z" fill="#84ABF2"/><path d="M601.44,90.80L603.24,87.65L599.64,87.65Z" fill="#84ABF2"/><path d="M607.10,86.60L608.90,83.45L605.30,83.45Z" fill="#84ABF2"/><path d="M612.75,86.60L614.55,83.45L610.95,83.45Z" fill="#84ABF2"/><path d="M618.41,86.10L620.21,82.95L616.61,82.95Z" fill="#84ABF2"/><path d="M624.06,86.10L625.86,82.95L622.26,82.95Z" fill="#84ABF2"/><path d="M629.71,83.40L631.51,80.25L627.91,80.25Z" fill="#84ABF2"/><path d="M635.37,80.80L637.17,77.65L633.57,77.65Z" fill="#84ABF2"/><path d="M641.02,76.40L642.82,73.25L639.22,73.25Z" fill="#84ABF2"/><path d="M646.68,69.40L648.48,66.25L644.88,66.25Z" fill="#84ABF2"/><path d="M652.33,82.60L654.13,79.45L650.53,79.45Z" fill="#84ABF2"/><path d="M657.98,73.80L659.78,70.65L656.18,70.65Z" fill="#84ABF2"/><path d="M663.64,59.80L665.44,56.65L661.84,56.65Z" fill="#84ABF2"/><path d="M669.29,64.20L671.09,61.05L667.49,61.05Z" fill="#84ABF2"/><path d="M674.95,53.70L676.75,50.55L673.15,50.55Z" fill="#84ABF2"/><path d="M680.60,74.70L682.40,71.55L678.80,71.55Z" fill="#84ABF2"/>
<path d="M115.20,207.60M120.85,207.60M126.51,207.60M132.16,207.60M137.82,207.60M143.47,207.60M149.12,207.60M154.78,207.60M160.43,207.60M166.09,207.60M171.74,207.60M177.39,207.60M183.05,207.60M188.70,207.60M194.36,207.60M200.01,207.60M205.66,207.60M211.32,207.60M216.97,207.60M222.63,207.60M228.28,207.60M233.93,207.60M239.59,207.60M245.24,207.60M250.90,207.60M256.55,207.60M262.20,207.60M267.86,207.60M273.51,207.60M279.17,207.60M284.82,207.60M290.47,207.60M296.13,207.60M301.78,207.60M307.44,207.60M313.09,207.60M318.74,207.60M324.40,207.60M330.05,207.60M335.71,207.60M341.36,207.60M347.01,207.60M352.67,207.60M358.32,207.60M363.98,207.60M369.63,207.60M375.28,207.60M380.94,207.60M386.59,207.60M392.25,207.60M397.90,207.60M403.55,207.60M409.21,207.60M414.86,207.60M420.52,207.60M426.17,207.60M431.82,207.60L437.48,206.60L443.13,202.30L448.79,203.60L454.44,195.10L460.09,202.30L465.75,200.60L471.40,199.20L477.06,195.30L482.71,198.50L488.36,196.20L494.02,192.20L499.67,192.70L505.33,202.00L510.98,205.00L516.63,201.50L522.29,200.20L527.94,203.20L533.60,204.40L539.25,197.10L544.90,193.20L550.56,198.00L556.21,196.70L561.87,192.20L567.52,187.50L573.17,189.20L578.83,191.00L584.48,196.20L590.14,198.50L595.79,190.10L601.44,172.60L607.10,186.60L612.75,184.80L618.41,176.90L624.06,194.50L629.71,196.70L635.37,200.20L641.02,193.20L646.68,186.20L652.33,181.30L657.98,187.50L663.64,195.30L669.29,196.20L674.95,198.80L680.60,186.20" fill="none" stroke="#F9C796" stroke-width="1.0" stroke-linejoin="round"/>
<rect x="113.85" y="206.25" width="2.70" height="2.70" fill="#F8BC82"/><rect x="119.50" y="206.25" width="2.70" height="2.70" fill="#F8BC82"/><rect x="125.16" y="206.25" width="2.70" height="2.70" fill="#F8BC82"/><rect x="130.81" y="206.25" width="2.70" height="2.70" fill="#F8BC82"/><rect x="136.47" y="206.25" width="2.70" height="2.70" fill="#F8BC82"/><rect x="142.12" y="206.25" width="2.70" height="2.70" fill="#F8BC82"/><rect x="147.77" y="206.25" width="2.70" height="2.70" fill="#F8BC82"/><rect x="153.43" y="206.25" width="2.70" height="2.70" fill="#F8BC82"/><rect x="159.08" y="206.25" width="2.70" height="2.70" fill="#F8BC82"/><rect x="164.74" y="206.25" width="2.70" height="2.70" fill="#F8BC82"/><rect x="170.39" y="206.25" width="2.70" height="2.70" fill="#F8BC82"/><rect x="176.04" y="206.25" width="2.70" height="2.70" fill="#F8BC82"/><rect x="181.70" y="206.25" width="2.70" height="2.70" fill="#F8BC82"/><rect x="187.35" y="206.25" width="2.70" height="2.70" fill="#F8BC82"/><rect x="193.01" y="206.25" width="2.70" height="2.70" fill="#F8BC82"/><rect x="198.66" y="206.25" width="2.70" height="2.70" fill="#F8BC82"/><rect x="204.31" y="206.25" width="2.70" height="2.70" fill="#F8BC82"/><rect x="209.97" y="206.25" width="2.70" height="2.70" fill="#F8BC82"/><rect x="215.62" y="206.25" width="2.70" height="2.70" fill="#F8BC82"/><rect x="221.28" y="206.25" width="2.70" height="2.70" fill="#F8BC82"/><rect x="226.93" y="206.25" width="2.70" height="2.70" fill="#F8BC82"/><rect x="232.58" y="206.25" width="2.70" height="2.70" fill="#F8BC82"/><rect x="238.24" y="206.25" width="2.70" height="2.70" fill="#F8BC82"/><rect x="243.89" y="206.25" width="2.70" height="2.70" fill="#F8BC82"/><rect x="249.55" y="206.25" width="2.70" height="2.70" fill="#F8BC82"/><rect x="255.20" y="206.25" width="2.70" height="2.70" fill="#F8BC82"/><rect x="260.85" y="206.25" width="2.70" height="2.70" fill="#F8BC82"/><rect x="266.51" y="206.25" width="2.70" height="2.70" fill="#F8BC82"/><rect x="272.16" y="206.25" width="2.70" height="2.70" fill="#F8BC82"/><rect x="277.82" y="206.25" width="2.70" height="2.70" fill="#F8BC82"/><rect x="283.47" y="206.25" width="2.70" height="2.70" fill="#F8BC82"/><rect x="289.12" y="206.25" width="2.70" height="2.70" fill="#F8BC82"/><rect x="294.78" y="206.25" width="2.70" height="2.70" fill="#F8BC82"/><rect x="300.43" y="206.25" width="2.70" height="2.70" fill="#F8BC82"/><rect x="306.09" y="206.25" width="2.70" height="2.70" fill="#F8BC82"/><rect x="311.74" y="206.25" width="2.70" height="2.70" fill="#F8BC82"/><rect x="317.39" y="206.25" width="2.70" height="2.70" fill="#F8BC82"/><rect x="323.05" y="206.25" width="2.70" height="2.70" fill="#F8BC82"/><rect x="328.70" y="206.25" width="2.70" height="2.70" fill="#F8BC82"/><rect x="334.36" y="206.25" width="2.70" height="2.70" fill="#F8BC82"/><rect x="340.01" y="206.25" width="2.70" height="2.70" fill="#F8BC82"/><rect x="345.66" y="206.25" width="2.70" height="2.70" fill="#F8BC82"/><rect x="351.32" y="206.25" width="2.70" height="2.70" fill="#F8BC82"/><rect x="356.97" y="206.25" width="2.70" height="2.70" fill="#F8BC82"/><rect x="362.63" y="206.25" width="2.70" height="2.70" fill="#F8BC82"/><rect x="368.28" y="206.25" width="2.70" height="2.70" fill="#F8BC82"/><rect x="373.93" y="206.25" width="2.70" height="2.70" fill="#F8BC82"/><rect x="379.59" y="206.25" width="2.70" height="2.70" fill="#F8BC82"/><rect x="385.24" y="206.25" width="2.70" height="2.70" fill="#F8BC82"/><rect x="390.90" y="206.25" width="2.70" height="2.70" fill="#F8BC82"/><rect x="396.55" y="206.25" width="2.70" height="2.70" fill="#F8BC82"/><rect x="402.20" y="206.25" width="2.70" height="2.70" fill="#F8BC82"/><rect x="407.86" y="206.25" width="2.70" height="2.70" fill="#F8BC82"/><rect x="413.51" y="206.25" width="2.70" height="2.70" fill="#F8BC82"/><rect x="419.17" y="206.25" width="2.70" height="2.70" fill="#F8BC82"/><rect x="424.82" y="206.25" width="2.70" height="2.70" fill="#F8BC82"/><rect x="430.47" y="206.25" width="2.70" height="2.70" fill="#F8BC82"/><rect x="436.13" y="205.25" width="2.70" height="2.70" fill="#F8BC82"/><rect x="441.78" y="200.95" width="2.70" height="2.70" fill="#F8BC82"/><rect x="447.44" y="202.25" width="2.70" height="2.70" fill="#F8BC82"/><rect x="453.09" y="193.75" width="2.70" height="2.70" fill="#F8BC82"/><rect x="458.74" y="200.95" width="2.70" height="2.70" fill="#F8BC82"/><rect x="464.40" y="199.25" width="2.70" height="2.70" fill="#F8BC82"/><rect x="470.05" y="197.85" width="2.70" height="2.70" fill="#F8BC82"/><rect x="475.71" y="193.95" width="2.70" height="2.70" fill="#F8BC82"/><rect x="481.36" y="197.15" width="2.70" height="2.70" fill="#F8BC82"/><rect x="487.01" y="194.85" width="2.70" height="2.70" fill="#F8BC82"/><rect x="492.67" y="190.85" width="2.70" height="2.70" fill="#F8BC82"/><rect x="498.32" y="191.35" width="2.70" height="2.70" fill="#F8BC82"/><rect x="503.98" y="200.65" width="2.70" height="2.70" fill="#F8BC82"/><rect x="509.63" y="203.65" width="2.70" height="2.70" fill="#F8BC82"/><rect x="515.28" y="200.15" width="2.70" height="2.70" fill="#F8BC82"/><rect x="520.94" y="198.85" width="2.70" height="2.70" fill="#F8BC82"/><rect x="526.59" y="201.85" width="2.70" height="2.70" fill="#F8BC82"/><rect x="532.25" y="203.05" width="2.70" height="2.70" fill="#F8BC82"/><rect x="537.90" y="195.75" width="2.70" height="2.70" fill="#F8BC82"/><rect x="543.55" y="191.85" width="2.70" height="2.70" fill="#F8BC82"/><rect x="549.21" y="196.65" width="2.70" height="2.70" fill="#F8BC82"/><rect x="554.86" y="195.35" width="2.70" height="2.70" fill="#F8BC82"/><rect x="560.52" y="190.85" width="2.70" height="2.70" fill="#F8BC82"/><rect x="566.17" y="186.15" width="2.70" height="2.70" fill="#F8BC82"/><rect x="571.82" y="187.85" width="2.70" height="2.70" fill="#F8BC82"/><rect x="577.48" y="189.65" width="2.70" height="2.70" fill="#F8BC82"/><rect x="583.13" y="194.85" width="2.70" height="2.70" fill="#F8BC82"/><rect x="588.79" y="197.15" width="2.70" height="2.70" fill="#F8BC82"/><rect x="594.44" y="188.75" width="2.70" height="2.70" fill="#F8BC82"/><rect x="600.09" y="171.25" width="2.70" height="2.70" fill="#F8BC82"/><rect x="605.75" y="185.25" width="2.70" height="2.70" fill="#F8BC82"/><rect x="611.40" y="183.45" width="2.70" height="2.70" fill="#F8BC82"/><rect x="617.06" y="175.55" width="2.70" height="2.70" fill="#F8BC82"/><rect x="622.71" y="193.15" width="2.70" height="2.70" fill="#F8BC82"/><rect x="628.36" y="195.35" width="2.70" height="2.70" fill="#F8BC82"/><rect x="634.02" y="198.85" width="2.70" height="2.70" fill="#F8BC82"/><rect x="639.67" y="191.85" width="2.70" height="2.70" fill="#F8BC82"/><rect x="645.33" y="184.85" width="2.70" height="2.70" fill="#F8BC82"/><rect x="650.98" y="179.95" width="2.70" height="2.70" fill="#F8BC82"/><rect x="656.63" y="186.15" width="2.70" height="2.70" fill="#F8BC82"/><rect x="662.29" y="193.95" width="2.70" height="2.70" fill="#F8BC82"/><rect x="667.94" y="194.85" width="2.70" height="2.70" fill="#F8BC82"/><rect x="673.60" y="197.45" width="2.70" height="2.70" fill="#F8BC82"/><rect x="679.25" y="184.85" width="2.70" height="2.70" fill="#F8BC82"/>
<path d="M115.20,207.60M120.85,207.60M126.51,207.60M132.16,207.60M137.82,207.60M143.47,207.60M149.12,207.60M154.78,207.60M160.43,207.60M166.09,207.60M171.74,207.60M177.39,207.60M183.05,207.60M188.70,207.60M194.36,207.60M200.01,207.60M205.66,207.60M211.32,207.60M216.97,207.60M222.63,207.60M228.28,207.60M233.93,207.60M239.59,207.60M245.24,207.60M250.90,207.60M256.55,207.60M262.20,207.60M267.86,207.60M273.51,207.60M279.17,207.60M284.82,207.60M290.47,207.60M296.13,207.60M301.78,207.60M307.44,207.60M313.09,207.60M318.74,207.60M324.40,207.60M330.05,207.60M335.71,207.60M341.36,207.60M347.01,207.60M352.67,207.60M358.32,207.60M363.98,207.60M369.63,207.60M375.28,207.60M380.94,207.60M386.59,207.60M392.25,207.60M397.90,207.60M403.55,207.60M409.21,207.60M414.86,207.60M420.52,207.60M426.17,207.60L431.82,206.60L437.48,206.10L443.13,205.60L448.79,204.40L454.44,203.70L460.09,205.00L465.75,202.30L471.40,200.60L477.06,200.20L482.71,198.50L488.36,195.30L494.02,193.20L499.67,190.40L505.33,190.40L510.98,187.50L516.63,192.20L522.29,188.30L527.94,186.20L533.60,184.80L539.25,182.70L544.90,182.20L550.56,183.10L556.21,176.40L561.87,174.70L567.52,172.20L573.17,170.50L578.83,169.40L584.48,167.70L590.14,171.70L595.79,169.40L601.44,171.20L607.10,171.70L612.75,170.50L618.41,158.20L624.06,156.40L629.71,150.70L635.37,160.60L641.02,164.70L646.68,152.90L652.33,160.30L657.98,152.40L663.64,146.30L669.29,155.00L674.95,145.40L680.60,147.20" fill="none" stroke="#92D392" stroke-width="1.0" stroke-linejoin="round"/>
<circle cx="115.20" cy="207.60" r="1.55" fill="#88CE89"/><circle cx="120.85" cy="207.60" r="1.55" fill="#88CE89"/><circle cx="126.51" cy="207.60" r="1.55" fill="#88CE89"/><circle cx="132.16" cy="207.60" r="1.55" fill="#88CE89"/><circle cx="137.82" cy="207.60" r="1.55" fill="#88CE89"/><circle cx="143.47" cy="207.60" r="1.55" fill="#88CE89"/><circle cx="149.12" cy="207.60" r="1.55" fill="#88CE89"/><circle cx="154.78" cy="207.60" r="1.55" fill="#88CE89"/><circle cx="160.43" cy="207.60" r="1.55" fill="#88CE89"/><circle cx="166.09" cy="207.60" r="1.55" fill="#88CE89"/><circle cx="171.74" cy="207.60" r="1.55" fill="#88CE89"/><circle cx="177.39" cy="207.60" r="1.55" fill="#88CE89"/><circle cx="183.05" cy="207.60" r="1.55" fill="#88CE89"/><circle cx="188.70" cy="207.60" r="1.55" fill="#88CE89"/><circle cx="194.36" cy="207.60" r="1.55" fill="#88CE89"/><circle cx="200.01" cy="207.60" r="1.55" fill="#88CE89"/><circle cx="205.66" cy="207.60" r="1.55" fill="#88CE89"/><circle cx="211.32" cy="207.60" r="1.55" fill="#88CE89"/><circle cx="216.97" cy="207.60" r="1.55" fill="#88CE89"/><circle cx="222.63" cy="207.60" r="1.55" fill="#88CE89"/><circle cx="228.28" cy="207.60" r="1.55" fill="#88CE89"/><circle cx="233.93" cy="207.60" r="1.55" fill="#88CE89"/><circle cx="239.59" cy="207.60" r="1.55" fill="#88CE89"/><circle cx="245.24" cy="207.60" r="1.55" fill="#88CE89"/><circle cx="250.90" cy="207.60" r="1.55" fill="#88CE89"/><circle cx="256.55" cy="207.60" r="1.55" fill="#88CE89"/><circle cx="262.20" cy="207.60" r="1.55" fill="#88CE89"/><circle cx="267.86" cy="207.60" r="1.55" fill="#88CE89"/><circle cx="273.51" cy="207.60" r="1.55" fill="#88CE89"/><circle cx="279.17" cy="207.60" r="1.55" fill="#88CE89"/><circle cx="284.82" cy="207.60" r="1.55" fill="#88CE89"/><circle cx="290.47" cy="207.60" r="1.55" fill="#88CE89"/><circle cx="296.13" cy="207.60" r="1.55" fill="#88CE89"/><circle cx="301.78" cy="207.60" r="1.55" fill="#88CE89"/><circle cx="307.44" cy="207.60" r="1.55" fill="#88CE89"/><circle cx="313.09" cy="207.60" r="1.55" fill="#88CE89"/><circle cx="318.74" cy="207.60" r="1.55" fill="#88CE89"/><circle cx="324.40" cy="207.60" r="1.55" fill="#88CE89"/><circle cx="330.05" cy="207.60" r="1.55" fill="#88CE89"/><circle cx="335.71" cy="207.60" r="1.55" fill="#88CE89"/><circle cx="341.36" cy="207.60" r="1.55" fill="#88CE89"/><circle cx="347.01" cy="207.60" r="1.55" fill="#88CE89"/><circle cx="352.67" cy="207.60" r="1.55" fill="#88CE89"/><circle cx="358.32" cy="207.60" r="1.55" fill="#88CE89"/><circle cx="363.98" cy="207.60" r="1.55" fill="#88CE89"/><circle cx="369.63" cy="207.60" r="1.55" fill="#88CE89"/><circle cx="375.28" cy="207.60" r="1.55" fill="#88CE89"/><circle cx="380.94" cy="207.60" r="1.55" fill="#88CE89"/><circle cx="386.59" cy="207.60" r="1.55" fill="#88CE89"/><circle cx="392.25" cy="207.60" r="1.55" fill="#88CE89"/><circle cx="397.90" cy="207.60" r="1.55" fill="#88CE89"/><circle cx="403.55" cy="207.60" r="1.55" fill="#88CE89"/><circle cx="409.21" cy="207.60" r="1.55" fill="#88CE89"/><circle cx="414.86" cy="207.60" r="1.55" fill="#88CE89"/><circle cx="420.52" cy="207.60" r="1.55" fill="#88CE89"/><circle cx="426.17" cy="207.60" r="1.55" fill="#88CE89"/><circle cx="431.82" cy="206.60" r="1.55" fill="#88CE89"/><circle cx="437.48" cy="206.10" r="1.55" fill="#88CE89"/><circle cx="443.13" cy="205.60" r="1.55" fill="#88CE89"/><circle cx="448.79" cy="204.40" r="1.55" fill="#88CE89"/><circle cx="454.44" cy="203.70" r="1.55" fill="#88CE89"/><circle cx="460.09" cy="205.00" r="1.55" fill="#88CE89"/><circle cx="465.75" cy="202.30" r="1.55" fill="#88CE89"/><circle cx="471.40" cy="200.60" r="1.55" fill="#88CE89"/><circle cx="477.06" cy="200.20" r="1.55" fill="#88CE89"/><circle cx="482.71" cy="198.50" r="1.55" fill="#88CE89"/><circle cx="488.36" cy="195.30" r="1.55" fill="#88CE89"/><circle cx="494.02" cy="193.20" r="1.55" fill="#88CE89"/><circle cx="499.67" cy="190.40" r="1.55" fill="#88CE89"/><circle cx="505.33" cy="190.40" r="1.55" fill="#88CE89"/><circle cx="510.98" cy="187.50" r="1.55" fill="#88CE89"/><circle cx="516.63" cy="192.20" r="1.55" fill="#88CE89"/><circle cx="522.29" cy="188.30" r="1.55" fill="#88CE89"/><circle cx="527.94" cy="186.20" r="1.55" fill="#88CE89"/><circle cx="533.60" cy="184.80" r="1.55" fill="#88CE89"/><circle cx="539.25" cy="182.70" r="1.55" fill="#88CE89"/><circle cx="544.90" cy="182.20" r="1.55" fill="#88CE89"/><circle cx="550.56" cy="183.10" r="1.55" fill="#88CE89"/><circle cx="556.21" cy="176.40" r="1.55" fill="#88CE89"/><circle cx="561.87" cy="174.70" r="1.55" fill="#88CE89"/><circle cx="567.52" cy="172.20" r="1.55" fill="#88CE89"/><circle cx="573.17" cy="170.50" r="1.55" fill="#88CE89"/><circle cx="578.83" cy="169.40" r="1.55" fill="#88CE89"/><circle cx="584.48" cy="167.70" r="1.55" fill="#88CE89"/><circle cx="590.14" cy="171.70" r="1.55" fill="#88CE89"/><circle cx="595.79" cy="169.40" r="1.55" fill="#88CE89"/><circle cx="601.44" cy="171.20" r="1.55" fill="#88CE89"/><circle cx="607.10" cy="171.70" r="1.55" fill="#88CE89"/><circle cx="612.75" cy="170.50" r="1.55" fill="#88CE89"/><circle cx="618.41" cy="158.20" r="1.55" fill="#88CE89"/><circle cx="624.06" cy="156.40" r="1.55" fill="#88CE89"/><circle cx="629.71" cy="150.70" r="1.55" fill="#88CE89"/><circle cx="635.37" cy="160.60" r="1.55" fill="#88CE89"/><circle cx="641.02" cy="164.70" r="1.55" fill="#88CE89"/><circle cx="646.68" cy="152.90" r="1.55" fill="#88CE89"/><circle cx="652.33" cy="160.30" r="1.55" fill="#88CE89"/><circle cx="657.98" cy="152.40" r="1.55" fill="#88CE89"/><circle cx="663.64" cy="146.30" r="1.55" fill="#88CE89"/><circle cx="669.29" cy="155.00" r="1.55" fill="#88CE89"/><circle cx="674.95" cy="145.40" r="1.55" fill="#88CE89"/><circle cx="680.60" cy="147.20" r="1.55" fill="#88CE89"/>
<path d="M115.20,207.60M120.85,207.60M126.51,207.60M132.16,207.60M137.82,207.60M143.47,207.60M149.12,207.60M154.78,207.60M160.43,207.60M166.09,207.60M171.74,207.60M177.39,207.60M183.05,207.60M188.70,207.60M194.36,207.60M200.01,207.60M205.66,207.60M211.32,207.60M216.97,207.60M222.63,207.60M228.28,207.60M233.93,207.60M239.59,207.60M245.24,207.60M250.90,207.60M256.55,207.60M262.20,207.60M267.86,207.60M273.51,207.60M279.17,207.60M284.82,207.60M290.47,207.60M296.13,207.60M301.78,207.60M307.44,207.60M313.09,207.60M318.74,207.60M324.40,207.60M330.05,207.60M335.71,207.60M341.36,207.60M347.01,207.60M352.67,207.60M358.32,207.60M363.98,207.60M369.63,207.60M375.28,207.60M380.94,207.60M386.59,207.60M392.25,207.60M397.90,207.60M403.55,207.60M409.21,207.60M414.86,207.60M420.52,207.60M426.17,207.60M431.82,207.60M437.48,207.60M443.13,207.60L448.79,206.60L454.44,205.80L460.09,206.20L465.75,205.00L471.40,206.20L477.06,205.50L482.71,202.70L488.36,200.60L494.02,201.50L499.67,197.40L505.33,197.10L510.98,200.20L516.63,199.20L522.29,189.70L527.94,189.20L533.60,191.80L539.25,189.70L544.90,186.20L550.56,189.20L556.21,189.70L561.87,184.50L567.52,191.60L573.17,196.20L578.83,198.00L584.48,184.50L590.14,187.50L595.79,194.50L601.44,192.70L607.10,192.20L612.75,188.30L618.41,186.20L624.06,167.00L629.71,168.70L635.37,173.40L641.02,172.90L646.68,183.10L652.33,177.50L657.98,188.30L663.64,190.40L669.29,186.90L674.95,172.90L680.60,186.20" fill="none" stroke="#C5B6E0" stroke-width="1.0" stroke-linejoin="round"/>
<path d="M115.20,204.63L118.17,209.83L112.23,209.83Z" fill="#B8A6DA"/><path d="M120.85,204.63L123.82,209.83L117.88,209.83Z" fill="#B8A6DA"/><path d="M126.51,204.63L129.48,209.83L123.54,209.83Z" fill="#B8A6DA"/><path d="M132.16,204.63L135.13,209.83L129.19,209.83Z" fill="#B8A6DA"/><path d="M137.82,204.63L140.79,209.83L134.85,209.83Z" fill="#B8A6DA"/><path d="M143.47,204.63L146.44,209.83L140.50,209.83Z" fill="#B8A6DA"/><path d="M149.12,204.63L152.09,209.83L146.15,209.83Z" fill="#B8A6DA"/><path d="M154.78,204.63L157.75,209.83L151.81,209.83Z" fill="#B8A6DA"/><path d="M160.43,204.63L163.40,209.83L157.46,209.83Z" fill="#B8A6DA"/><path d="M166.09,204.63L169.06,209.83L163.12,209.83Z" fill="#B8A6DA"/><path d="M171.74,204.63L174.71,209.83L168.77,209.83Z" fill="#B8A6DA"/><path d="M177.39,204.63L180.36,209.83L174.42,209.83Z" fill="#B8A6DA"/><path d="M183.05,204.63L186.02,209.83L180.08,209.83Z" fill="#B8A6DA"/><path d="M188.70,204.63L191.67,209.83L185.73,209.83Z" fill="#B8A6DA"/><path d="M194.36,204.63L197.33,209.83L191.39,209.83Z" fill="#B8A6DA"/><path d="M200.01,204.63L202.98,209.83L197.04,209.83Z" fill="#B8A6DA"/><path d="M205.66,204.63L208.63,209.83L202.69,209.83Z" fill="#B8A6DA"/><path d="M211.32,204.63L214.29,209.83L208.35,209.83Z" fill="#B8A6DA"/><path d="M216.97,204.63L219.94,209.83L214.00,209.83Z" fill="#B8A6DA"/><path d="M222.63,204.63L225.60,209.83L219.66,209.83Z" fill="#B8A6DA"/><path d="M228.28,204.63L231.25,209.83L225.31,209.83Z" fill="#B8A6DA"/><path d="M233.93,204.63L236.90,209.83L230.96,209.83Z" fill="#B8A6DA"/><path d="M239.59,204.63L242.56,209.83L236.62,209.83Z" fill="#B8A6DA"/><path d="M245.24,204.63L248.21,209.83L242.27,209.83Z" fill="#B8A6DA"/><path d="M250.90,204.63L253.87,209.83L247.93,209.83Z" fill="#B8A6DA"/><path d="M256.55,204.63L259.52,209.83L253.58,209.83Z" fill="#B8A6DA"/><path d="M262.20,204.63L265.17,209.83L259.23,209.83Z" fill="#B8A6DA"/><path d="M267.86,204.63L270.83,209.83L264.89,209.83Z" fill="#B8A6DA"/><path d="M273.51,204.63L276.48,209.83L270.54,209.83Z" fill="#B8A6DA"/><path d="M279.17,204.63L282.14,209.83L276.20,209.83Z" fill="#B8A6DA"/><path d="M284.82,204.63L287.79,209.83L281.85,209.83Z" fill="#B8A6DA"/><path d="M290.47,204.63L293.44,209.83L287.50,209.83Z" fill="#B8A6DA"/><path d="M296.13,204.63L299.10,209.83L293.16,209.83Z" fill="#B8A6DA"/><path d="M301.78,204.63L304.75,209.83L298.81,209.83Z" fill="#B8A6DA"/><path d="M307.44,204.63L310.41,209.83L304.47,209.83Z" fill="#B8A6DA"/><path d="M313.09,204.63L316.06,209.83L310.12,209.83Z" fill="#B8A6DA"/><path d="M318.74,204.63L321.71,209.83L315.77,209.83Z" fill="#B8A6DA"/><path d="M324.40,204.63L327.37,209.83L321.43,209.83Z" fill="#B8A6DA"/><path d="M330.05,204.63L333.02,209.83L327.08,209.83Z" fill="#B8A6DA"/><path d="M335.71,204.63L338.68,209.83L332.74,209.83Z" fill="#B8A6DA"/><path d="M341.36,204.63L344.33,209.83L338.39,209.83Z" fill="#B8A6DA"/><path d="M347.01,204.63L349.98,209.83L344.04,209.83Z" fill="#B8A6DA"/><path d="M352.67,204.63L355.64,209.83L349.70,209.83Z" fill="#B8A6DA"/><path d="M358.32,204.63L361.29,209.83L355.35,209.83Z" fill="#B8A6DA"/><path d="M363.98,204.63L366.95,209.83L361.01,209.83Z" fill="#B8A6DA"/><path d="M369.63,204.63L372.60,209.83L366.66,209.83Z" fill="#B8A6DA"/><path d="M375.28,204.63L378.25,209.83L372.31,209.83Z" fill="#B8A6DA"/><path d="M380.94,204.63L383.91,209.83L377.97,209.83Z" fill="#B8A6DA"/><path d="M386.59,204.63L389.56,209.83L383.62,209.83Z" fill="#B8A6DA"/><path d="M392.25,204.63L395.22,209.83L389.28,209.83Z" fill="#B8A6DA"/><path d="M397.90,204.63L400.87,209.83L394.93,209.83Z" fill="#B8A6DA"/><path d="M403.55,204.63L406.52,209.83L400.58,209.83Z" fill="#B8A6DA"/><path d="M409.21,204.63L412.18,209.83L406.24,209.83Z" fill="#B8A6DA"/><path d="M414.86,204.63L417.83,209.83L411.89,209.83Z" fill="#B8A6DA"/><path d="M420.52,204.63L423.49,209.83L417.55,209.83Z" fill="#B8A6DA"/><path d="M426.17,204.63L429.14,209.83L423.20,209.83Z" fill="#B8A6DA"/><path d="M431.82,204.63L434.79,209.83L428.85,209.83Z" fill="#B8A6DA"/><path d="M437.48,204.63L440.45,209.83L434.51,209.83Z" fill="#B8A6DA"/><path d="M443.13,204.63L446.10,209.83L440.16,209.83Z" fill="#B8A6DA"/><path d="M448.79,203.63L451.76,208.83L445.82,208.83Z" fill="#B8A6DA"/><path d="M454.44,202.83L457.41,208.03L451.47,208.03Z" fill="#B8A6DA"/><path d="M460.09,203.23L463.06,208.43L457.12,208.43Z" fill="#B8A6DA"/><path d="M465.75,202.03L468.72,207.23L462.78,207.23Z" fill="#B8A6DA"/><path d="M471.40,203.23L474.37,208.43L468.43,208.43Z" fill="#B8A6DA"/><path d="M477.06,202.53L480.03,207.73L474.09,207.73Z" fill="#B8A6DA"/><path d="M482.71,199.73L485.68,204.93L479.74,204.93Z" fill="#B8A6DA"/><path d="M488.36,197.63L491.33,202.83L485.39,202.83Z" fill="#B8A6DA"/><path d="M494.02,198.53L496.99,203.73L491.05,203.73Z" fill="#B8A6DA"/><path d="M499.67,194.43L502.64,199.63L496.70,199.63Z" fill="#B8A6DA"/><path d="M505.33,194.13L508.30,199.33L502.36,199.33Z" fill="#B8A6DA"/><path d="M510.98,197.23L513.95,202.43L508.01,202.43Z" fill="#B8A6DA"/><path d="M516.63,196.23L519.60,201.43L513.66,201.43Z" fill="#B8A6DA"/><path d="M522.29,186.73L525.26,191.93L519.32,191.93Z" fill="#B8A6DA"/><path d="M527.94,186.23L530.91,191.43L524.97,191.43Z" fill="#B8A6DA"/><path d="M533.60,188.83L536.57,194.03L530.63,194.03Z" fill="#B8A6DA"/><path d="M539.25,186.73L542.22,191.93L536.28,191.93Z" fill="#B8A6DA"/><path d="M544.90,183.23L547.87,188.43L541.93,188.43Z" fill="#B8A6DA"/><path d="M550.56,186.23L553.53,191.43L547.59,191.43Z" fill="#B8A6DA"/><path d="M556.21,186.73L559.18,191.93L553.24,191.93Z" fill="#B8A6DA"/><path d="M561.87,181.53L564.84,186.73L558.90,186.73Z" fill="#B8A6DA"/><path d="M567.52,188.63L570.49,193.83L564.55,193.83Z" fill="#B8A6DA"/><path d="M573.17,193.23L576.14,198.43L570.20,198.43Z" fill="#B8A6DA"/><path d="M578.83,195.03L581.80,200.23L575.86,200.23Z" fill="#B8A6DA"/><path d="M584.48,181.53L587.45,186.73L581.51,186.73Z" fill="#B8A6DA"/><path d="M590.14,184.53L593.11,189.73L587.17,189.73Z" fill="#B8A6DA"/><path d="M595.79,191.53L598.76,196.73L592.82,196.73Z" fill="#B8A6DA"/><path d="M601.44,189.73L604.41,194.93L598.47,194.93Z" fill="#B8A6DA"/><path d="M607.10,189.23L610.07,194.43L604.13,194.43Z" fill="#B8A6DA"/><path d="M612.75,185.33L615.72,190.53L609.78,190.53Z" fill="#B8A6DA"/><path d="M618.41,183.23L621.38,188.43L615.44,188.43Z" fill="#B8A6DA"/><path d="M624.06,164.03L627.03,169.23L621.09,169.23Z" fill="#B8A6DA"/><path d="M629.71,165.73L632.68,170.93L626.74,170.93Z" fill="#B8A6DA"/><path d="M635.37,170.43L638.34,175.63L632.40,175.63Z" fill="#B8A6DA"/><path d="M641.02,169.93L643.99,175.13L638.05,175.13Z" fill="#B8A6DA"/><path d="M646.68,180.13L649.65,185.33L643.71,185.33Z" fill="#B8A6DA"/><path d="M652.33,174.53L655.30,179.73L649.36,179.73Z" fill="#B8A6DA"/><path d="M657.98,185.33L660.95,190.53L655.01,190.53Z" fill="#B8A6DA"/><path d="M663.64,187.43L666.61,192.63L660.67,192.63Z" fill="#B8A6DA"/><path d="M669.29,183.93L672.26,189.13L666.32,189.13Z" fill="#B8A6DA"/><path d="M674.95,169.93L677.92,175.13L671.98,175.13Z" fill="#B8A6DA"/><path d="M680.60,183.23L683.57,188.43L677.63,188.43Z" fill="#B8A6DA"/>
<path d="M115.20,207.60M120.85,207.60M126.51,207.60M132.16,207.60M137.82,207.60M143.47,207.60M149.12,207.60M154.78,207.60M160.43,207.60M166.09,207.60M171.74,207.60M177.39,207.60M183.05,207.60M188.70,207.60M194.36,207.60M200.01,207.60M205.66,207.60M211.32,207.60M216.97,207.60M222.63,207.60M228.28,207.60M233.93,207.60M239.59,207.60M245.24,207.60M250.90,207.60M256.55,207.60M262.20,207.60M267.86,207.60M273.51,207.60M279.17,207.60L284.82,206.20L290.47,205.00L296.13,205.00L301.78,203.20L307.44,203.70L313.09,202.70L318.74,199.20L324.40,198.80L330.05,200.20L335.71,197.40L341.36,191.80L347.01,190.40L352.67,193.90L358.32,196.60L363.98,201.80L369.63,205.80L375.28,205.80L380.94,205.80L386.59,205.80L392.25,206.20L397.90,206.20L403.55,202.30L409.21,206.20L414.86,201.50L420.52,205.30L426.17,204.10L431.82,204.80L437.48,205.30L443.13,204.40L448.79,202.70L454.44,200.40L460.09,201.50L465.75,200.20L471.40,202.30L477.06,202.00L482.71,200.90L488.36,198.50L494.02,201.50L499.67,198.80L505.33,199.20L510.98,198.00L516.63,197.40L522.29,196.70L527.94,195.30L533.60,193.20L539.25,191.80L544.90,190.40L550.56,193.20L556.21,193.60L561.87,189.70L567.52,192.70L573.17,192.70L578.83,183.10L584.48,195.00L590.14,196.20L595.79,186.20L601.44,188.00L607.10,182.70L612.75,192.70L618.41,186.60L624.06,178.20L629.71,183.10L635.37,178.20L641.02,188.00L646.68,190.40L652.33,197.40L657.98,186.60L663.64,174.70L669.29,180.40L674.95,176.40L680.60,194.50" fill="none" stroke="#8FB3F3" stroke-width="1.0" stroke-linejoin="round"/>
<path d="M115.20,209.40L117.00,206.25L113.40,206.25Z" fill="#84ABF2"/><path d="M120.85,209.40L122.65,206.25L119.05,206.25Z" fill="#84ABF2"/><path d="M126.51,209.40L128.31,206.25L124.71,206.25Z" fill="#84ABF2"/><path d="M132.16,209.40L133.96,206.25L130.36,206.25Z" fill="#84ABF2"/><path d="M137.82,209.40L139.62,206.25L136.02,206.25Z" fill="#84ABF2"/><path d="M143.47,209.40L145.27,206.25L141.67,206.25Z" fill="#84ABF2"/><path d="M149.12,209.40L150.92,206.25L147.32,206.25Z" fill="#84ABF2"/><path d="M154.78,209.40L156.58,206.25L152.98,206.25Z" fill="#84ABF2"/><path d="M160.43,209.40L162.23,206.25L158.63,206.25Z" fill="#84ABF2"/><path d="M166.09,209.40L167.89,206.25L164.29,206.25Z" fill="#84ABF2"/><path d="M171.74,209.40L173.54,206.25L169.94,206.25Z" fill="#84ABF2"/><path d="M177.39,209.40L179.19,206.25L175.59,206.25Z" fill="#84ABF2"/><path d="M183.05,209.40L184.85,206.25L181.25,206.25Z" fill="#84ABF2"/><path d="M188.70,209.40L190.50,206.25L186.90,206.25Z" fill="#84ABF2"/><path d="M194.36,209.40L196.16,206.25L192.56,206.25Z" fill="#84ABF2"/><path d="M200.01,209.40L201.81,206.25L198.21,206.25Z" fill="#84ABF2"/><path d="M205.66,209.40L207.46,206.25L203.86,206.25Z" fill="#84ABF2"/><path d="M211.32,209.40L213.12,206.25L209.52,206.25Z" fill="#84ABF2"/><path d="M216.97,209.40L218.77,206.25L215.17,206.25Z" fill="#84ABF2"/><path d="M222.63,209.40L224.43,206.25L220.83,206.25Z" fill="#84ABF2"/><path d="M228.28,209.40L230.08,206.25L226.48,206.25Z" fill="#84ABF2"/><path d="M233.93,209.40L235.73,206.25L232.13,206.25Z" fill="#84ABF2"/><path d="M239.59,209.40L241.39,206.25L237.79,206.25Z" fill="#84ABF2"/><path d="M245.24,209.40L247.04,206.25L243.44,206.25Z" fill="#84ABF2"/><path d="M250.90,209.40L252.70,206.25L249.10,206.25Z" fill="#84ABF2"/><path d="M256.55,209.40L258.35,206.25L254.75,206.25Z" fill="#84ABF2"/><path d="M262.20,209.40L264.00,206.25L260.40,206.25Z" fill="#84ABF2"/><path d="M267.86,209.40L269.66,206.25L266.06,206.25Z" fill="#84ABF2"/><path d="M273.51,209.40L275.31,206.25L271.71,206.25Z" fill="#84ABF2"/><path d="M279.17,209.40L280.97,206.25L277.37,206.25Z" fill="#84ABF2"/><path d="M284.82,208.00L286.62,204.85L283.02,204.85Z" fill="#84ABF2"/><path d="M290.47,206.80L292.27,203.65L288.67,203.65Z" fill="#84ABF2"/><path d="M296.13,206.80L297.93,203.65L294.33,203.65Z" fill="#84ABF2"/><path d="M301.78,205.00L303.58,201.85L299.98,201.85Z" fill="#84ABF2"/><path d="M307.44,205.50L309.24,202.35L305.64,202.35Z" fill="#84ABF2"/><path d="M313.09,204.50L314.89,201.35L311.29,201.35Z" fill="#84ABF2"/><path d="M318.74,201.00L320.54,197.85L316.94,197.85Z" fill="#84ABF2"/><path d="M324.40,200.60L326.20,197.45L322.60,197.45Z" fill="#84ABF2"/><path d="M330.05,202.00L331.85,198.85L328.25,198.85Z" fill="#84ABF2"/><path d="M335.71,199.20L337.51,196.05L333.91,196.05Z" fill="#84ABF2"/><path d="M341.36,193.60L343.16,190.45L339.56,190.45Z" fill="#84ABF2"/><path d="M347.01,192.20L348.81,189.05L345.21,189.05Z" fill="#84ABF2"/><path d="M352.67,195.70L354.47,192.55L350.87,192.55Z" fill="#84ABF2"/><path d="M358.32,198.40L360.12,195.25L356.52,195.25Z" fill="#84ABF2"/><path d="M363.98,203.60L365.78,200.45L362.18,200.45Z" fill="#84ABF2"/><path d="M369.63,207.60L371.43,204.45L367.83,204.45Z" fill="#84ABF2"/><path d="M375.28,207.60L377.08,204.45L373.48,204.45Z" fill="#84ABF2"/><path d="M380.94,207.60L382.74,204.45L379.14,204.45Z" fill="#84ABF2"/><path d="M386.59,207.60L388.39,204.45L384.79,204.45Z" fill="#84ABF2"/><path d="M392.25,208.00L394.05,204.85L390.45,204.85Z" fill="#84ABF2"/><path d="M397.90,208.00L399.70,204.85L396.10,204.85Z" fill="#84ABF2"/><path d="M403.55,204.10L405.35,200.95L401.75,200.95Z" fill="#84ABF2"/><path d="M409.21,208.00L411.01,204.85L407.41,204.85Z" fill="#84ABF2"/><path d="M414.86,203.30L416.66,200.15L413.06,200.15Z" fill="#84ABF2"/><path d="M420.52,207.10L422.32,203.95L418.72,203.95Z" fill="#84ABF2"/><path d="M426.17,205.90L427.97,202.75L424.37,202.75Z" fill="#84ABF2"/><path d="M431.82,206.60L433.62,203.45L430.02,203.45Z" fill="#84ABF2"/><path d="M437.48,207.10L439.28,203.95L435.68,203.95Z" fill="#84ABF2"/><path d="M443.13,206.20L444.93,203.05L441.33,203.05Z" fill="#84ABF2"/><path d="M448.79,204.50L450.59,201.35L446.99,201.35Z" fill="#84ABF2"/><path d="M454.44,202.20L456.24,199.05L452.64,199.05Z" fill="#84ABF2"/><path d="M460.09,203.30L461.89,200.15L458.29,200.15Z" fill="#84ABF2"/><path d="M465.75,202.00L467.55,198.85L463.95,198.85Z" fill="#84ABF2"/><path d="M471.40,204.10L473.20,200.95L469.60,200.95Z" fill="#84ABF2"/><path d="M477.06,203.80L478.86,200.65L475.26,200.65Z" fill="#84ABF2"/><path d="M482.71,202.70L484.51,199.55L480.91,199.55Z" fill="#84ABF2"/><path d="M488.36,200.30L490.16,197.15L486.56,197.15Z" fill="#84ABF2"/><path d="M494.02,203.30L495.82,200.15L492.22,200.15Z" fill="#84ABF2"/><path d="M499.67,200.60L501.47,197.45L497.87,197.45Z" fill="#84ABF2"/><path d="M505.33,201.00L507.13,197.85L503.53,197.85Z" fill="#84ABF2"/><path d="M510.98,199.80L512.78,196.65L509.18,196.65Z" fill="#84ABF2"/><path d="M516.63,199.20L518.43,196.05L514.83,196.05Z" fill="#84ABF2"/><path d="M522.29,198.50L524.09,195.35L520.49,195.35Z" fill="#84ABF2"/><path d="M527.94,197.10L529.74,193.95L526.14,193.95Z" fill="#84ABF2"/><path d="M533.60,195.00L535.40,191.85L531.80,191.85Z" fill="#84ABF2"/><path d="M539.25,193.60L541.05,190.45L537.45,190.45Z" fill="#84ABF2"/><path d="M544.90,192.20L546.70,189.05L543.10,189.05Z" fill="#84ABF2"/><path d="M550.56,195.00L552.36,191.85L548.76,191.85Z" fill="#84ABF2"/><path d="M556.21,195.40L558.01,192.25L554.41,192.25Z" fill="#84ABF2"/><path d="M561.87,191.50L563.67,188.35L560.07,188.35Z" fill="#84ABF2"/><path d="M567.52,194.50L569.32,191.35L565.72,191.35Z" fill="#84ABF2"/><path d="M573.17,194.50L574.97,191.35L571.37,191.35Z" fill="#84ABF2"/><path d="M578.83,184.90L580.63,181.75L577.03,181.75Z" fill="#84ABF2"/><path d="M584.48,196.80L586.28,193.65L582.68,193.65Z" fill="#84ABF2"/><path d="M590.14,198.00L591.94,194.85L588.34,194.85Z" fill="#84ABF2"/><path d="M595.79,188.00L597.59,184.85L593.99,184.85Z" fill="#84ABF2"/><path d="M601.44,189.80L603.24,186.65L599.64,186.65Z" fill="#84ABF2"/><path d="M607.10,184.50L608.90,181.35L605.30,181.35Z" fill="#84ABF2"/><path d="M612.75,194.50L614.55,191.35L610.95,191.35Z" fill="#84ABF2"/><path d="M618.41,188.40L620.21,185.25L616.61,185.25Z" fill="#84ABF2"/><path d="M624.06,180.00L625.86,176.85L622.26,176.85Z" fill="#84ABF2"/><path d="M629.71,184.90L631.51,181.75L627.91,181.75Z" fill="#84ABF2"/><path d="M635.37,180.00L637.17,176.85L633.57,176.85Z" fill="#84ABF2"/><path d="M641.02,189.80L642.82,186.65L639.22,186.65Z" fill="#84ABF2"/><path d="M646.68,192.20L648.48,189.05L644.88,189.05Z" fill="#84ABF2"/><path d="M652.33,199.20L654.13,196.05L650.53,196.05Z" fill="#84ABF2"/><path d="M657.98,188.40L659.78,185.25L656.18,185.25Z" fill="#84ABF2"/><path d="M663.64,176.50L665.44,173.35L661.84,173.35Z" fill="#84ABF2"/><path d="M669.29,182.20L671.09,179.05L667.49,179.05Z" fill="#84ABF2"/><path d="M674.95,178.20L676.75,175.05L673.15,175.05Z" fill="#84ABF2"/><path d="M680.60,196.30L682.40,193.15L678.80,193.15Z" fill="#84ABF2"/>
<path d="M115.20,306.00M120.85,306.00M126.51,306.00M132.16,306.00M137.82,306.00M143.47,306.00M149.12,306.00M154.78,306.00M160.43,306.00M166.09,306.00M171.74,306.00M177.39,306.00M183.05,306.00M188.70,306.00M194.36,306.00M200.01,306.00M205.66,306.00M211.32,306.00M216.97,306.00M222.63,306.00M228.28,306.00M233.93,306.00M239.59,306.00M245.24,306.00M250.90,306.00M256.55,306.00M262.20,306.00M267.86,306.00M273.51,306.00M279.17,306.00M284.82,306.00L290.47,303.70L296.13,302.80L301.78,303.20L307.44,302.50L313.09,301.40L318.74,300.20L324.40,299.70L330.05,297.90L335.71,296.70L341.36,296.00L347.01,295.00L352.67,295.00L358.32,292.50L363.98,291.10L369.63,296.00L375.28,294.60L380.94,295.50L386.59,284.50L392.25,295.50L397.90,293.70L403.55,299.00L409.21,296.40L414.86,299.00L420.52,300.70L426.17,282.70L431.82,286.20L437.48,288.00L443.13,290.20L448.79,286.20L454.44,273.80L460.09,285.10L465.75,286.90L471.40,292.90L477.06,295.10L482.71,296.90L488.36,296.00L494.02,293.40L499.67,290.40L505.33,281.60L510.98,279.90L516.63,285.50L522.29,288.10L527.94,268.30L533.60,282.00L539.25,275.30L544.90,282.30L550.56,278.80L556.21,276.40L561.87,272.90L567.52,267.30L573.17,262.70L578.83,280.20L584.48,262.70L590.14,256.40L595.79,271.80L601.44,274.50L607.10,254.70L612.75,272.70L618.41,271.50L624.06,268.30L629.71,266.20L635.37,268.00L641.02,277.10L646.68,275.00L652.33,268.30L657.98,261.30L663.64,255.70L669.29,246.40L674.95,259.90L680.60,262.20" fill="none" stroke="#F9C796" stroke-width="1.0" stroke-linejoin="round"/>
<rect x="113.85" y="304.65" width="2.70" height="2.70" fill="#F8BC82"/><rect x="119.50" y="304.65" width="2.70" height="2.70" fill="#F8BC82"/><rect x="125.16" y="304.65" width="2.70" height="2.70" fill="#F8BC82"/><rect x="130.81" y="304.65" width="2.70" height="2.70" fill="#F8BC82"/><rect x="136.47" y="304.65" width="2.70" height="2.70" fill="#F8BC82"/><rect x="142.12" y="304.65" width="2.70" height="2.70" fill="#F8BC82"/><rect x="147.77" y="304.65" width="2.70" height="2.70" fill="#F8BC82"/><rect x="153.43" y="304.65" width="2.70" height="2.70" fill="#F8BC82"/><rect x="159.08" y="304.65" width="2.70" height="2.70" fill="#F8BC82"/><rect x="164.74" y="304.65" width="2.70" height="2.70" fill="#F8BC82"/><rect x="170.39" y="304.65" width="2.70" height="2.70" fill="#F8BC82"/><rect x="176.04" y="304.65" width="2.70" height="2.70" fill="#F8BC82"/><rect x="181.70" y="304.65" width="2.70" height="2.70" fill="#F8BC82"/><rect x="187.35" y="304.65" width="2.70" height="2.70" fill="#F8BC82"/><rect x="193.01" y="304.65" width="2.70" height="2.70" fill="#F8BC82"/><rect x="198.66" y="304.65" width="2.70" height="2.70" fill="#F8BC82"/><rect x="204.31" y="304.65" width="2.70" height="2.70" fill="#F8BC82"/><rect x="209.97" y="304.65" width="2.70" height="2.70" fill="#F8BC82"/><rect x="215.62" y="304.65" width="2.70" height="2.70" fill="#F8BC82"/><rect x="221.28" y="304.65" width="2.70" height="2.70" fill="#F8BC82"/><rect x="226.93" y="304.65" width="2.70" height="2.70" fill="#F8BC82"/><rect x="232.58" y="304.65" width="2.70" height="2.70" fill="#F8BC82"/><rect x="238.24" y="304.65" width="2.70" height="2.70" fill="#F8BC82"/><rect x="243.89" y="304.65" width="2.70" height="2.70" fill="#F8BC82"/><rect x="249.55" y="304.65" width="2.70" height="2.70" fill="#F8BC82"/><rect x="255.20" y="304.65" width="2.70" height="2.70" fill="#F8BC82"/><rect x="260.85" y="304.65" width="2.70" height="2.70" fill="#F8BC82"/><rect x="266.51" y="304.65" width="2.70" height="2.70" fill="#F8BC82"/><rect x="272.16" y="304.65" width="2.70" height="2.70" fill="#F8BC82"/><rect x="277.82" y="304.65" width="2.70" height="2.70" fill="#F8BC82"/><rect x="283.47" y="304.65" width="2.70" height="2.70" fill="#F8BC82"/><rect x="289.12" y="302.35" width="2.70" height="2.70" fill="#F8BC82"/><rect x="294.78" y="301.45" width="2.70" height="2.70" fill="#F8BC82"/><rect x="300.43" y="301.85" width="2.70" height="2.70" fill="#F8BC82"/><rect x="306.09" y="301.15" width="2.70" height="2.70" fill="#F8BC82"/><rect x="311.74" y="300.05" width="2.70" height="2.70" fill="#F8BC82"/><rect x="317.39" y="298.85" width="2.70" height="2.70" fill="#F8BC82"/><rect x="323.05" y="298.35" width="2.70" height="2.70" fill="#F8BC82"/><rect x="328.70" y="296.55" width="2.70" height="2.70" fill="#F8BC82"/><rect x="334.36" y="295.35" width="2.70" height="2.70" fill="#F8BC82"/><rect x="340.01" y="294.65" width="2.70" height="2.70" fill="#F8BC82"/><rect x="345.66" y="293.65" width="2.70" height="2.70" fill="#F8BC82"/><rect x="351.32" y="293.65" width="2.70" height="2.70" fill="#F8BC82"/><rect x="356.97" y="291.15" width="2.70" height="2.70" fill="#F8BC82"/><rect x="362.63" y="289.75" width="2.70" height="2.70" fill="#F8BC82"/><rect x="368.28" y="294.65" width="2.70" height="2.70" fill="#F8BC82"/><rect x="373.93" y="293.25" width="2.70" height="2.70" fill="#F8BC82"/><rect x="379.59" y="294.15" width="2.70" height="2.70" fill="#F8BC82"/><rect x="385.24" y="283.15" width="2.70" height="2.70" fill="#F8BC82"/><rect x="390.90" y="294.15" width="2.70" height="2.70" fill="#F8BC82"/><rect x="396.55" y="292.35" width="2.70" height="2.70" fill="#F8BC82"/><rect x="402.20" y="297.65" width="2.70" height="2.70" fill="#F8BC82"/><rect x="407.86" y="295.05" width="2.70" height="2.70" fill="#F8BC82"/><rect x="413.51" y="297.65" width="2.70" height="2.70" fill="#F8BC82"/><rect x="419.17" y="299.35" width="2.70" height="2.70" fill="#F8BC82"/><rect x="424.82" y="281.35" width="2.70" height="2.70" fill="#F8BC82"/><rect x="430.47" y="284.85" width="2.70" height="2.70" fill="#F8BC82"/><rect x="436.13" y="286.65" width="2.70" height="2.70" fill="#F8BC82"/><rect x="441.78" y="288.85" width="2.70" height="2.70" fill="#F8BC82"/><rect x="447.44" y="284.85" width="2.70" height="2.70" fill="#F8BC82"/><rect x="453.09" y="272.45" width="2.70" height="2.70" fill="#F8BC82"/><rect x="458.74" y="283.75" width="2.70" height="2.70" fill="#F8BC82"/><rect x="464.40" y="285.55" width="2.70" height="2.70" fill="#F8BC82"/><rect x="470.05" y="291.55" width="2.70" height="2.70" fill="#F8BC82"/><rect x="475.71" y="293.75" width="2.70" height="2.70" fill="#F8BC82"/><rect x="481.36" y="295.55" width="2.70" height="2.70" fill="#F8BC82"/><rect x="487.01" y="294.65" width="2.70" height="2.70" fill="#F8BC82"/><rect x="492.67" y="292.05" width="2.70" height="2.70" fill="#F8BC82"/><rect x="498.32" y="289.05" width="2.70" height="2.70" fill="#F8BC82"/><rect x="503.98" y="280.25" width="2.70" height="2.70" fill="#F8BC82"/><rect x="509.63" y="278.55" width="2.70" height="2.70" fill="#F8BC82"/><rect x="515.28" y="284.15" width="2.70" height="2.70" fill="#F8BC82"/><rect x="520.94" y="286.75" width="2.70" height="2.70" fill="#F8BC82"/><rect x="526.59" y="266.95" width="2.70" height="2.70" fill="#F8BC82"/><rect x="532.25" y="280.65" width="2.70" height="2.70" fill="#F8BC82"/><rect x="537.90" y="273.95" width="2.70" height="2.70" fill="#F8BC82"/><rect x="543.55" y="280.95" width="2.70" height="2.70" fill="#F8BC82"/><rect x="549.21" y="277.45" width="2.70" height="2.70" fill="#F8BC82"/><rect x="554.86" y="275.05" width="2.70" height="2.70" fill="#F8BC82"/><rect x="560.52" y="271.55" width="2.70" height="2.70" fill="#F8BC82"/><rect x="566.17" y="265.95" width="2.70" height="2.70" fill="#F8BC82"/><rect x="571.82" y="261.35" width="2.70" height="2.70" fill="#F8BC82"/><rect x="577.48" y="278.85" width="2.70" height="2.70" fill="#F8BC82"/><rect x="583.13" y="261.35" width="2.70" height="2.70" fill="#F8BC82"/><rect x="588.79" y="255.05" width="2.70" height="2.70" fill="#F8BC82"/><rect x="594.44" y="270.45" width="2.70" height="2.70" fill="#F8BC82"/><rect x="600.09" y="273.15" width="2.70" height="2.70" fill="#F8BC82"/><rect x="605.75" y="253.35" width="2.70" height="2.70" fill="#F8BC82"/><rect x="611.40" y="271.35" width="2.70" height="2.70" fill="#F8BC82"/><rect x="617.06" y="270.15" width="2.70" height="2.70" fill="#F8BC82"/><rect x="622.71" y="266.95" width="2.70" height="2.70" fill="#F8BC82"/><rect x="628.36" y="264.85" width="2.70" height="2.70" fill="#F8BC82"/><rect x="634.02" y="266.65" width="2.70" height="2.70" fill="#F8BC82"/><rect x="639.67" y="275.75" width="2.70" height="2.70" fill="#F8BC82"/><rect x="645.33" y="273.65" width="2.70" height="2.70" fill="#F8BC82"/><rect x="650.98" y="266.95" width="2.70" height="2.70" fill="#F8BC82"/><rect x="656.63" y="259.95" width="2.70" height="2.70" fill="#F8BC82"/><rect x="662.29" y="254.35" width="2.70" height="2.70" fill="#F8BC82"/><rect x="667.94" y="245.05" width="2.70" height="2.70" fill="#F8BC82"/><rect x="673.60" y="258.55" width="2.70" height="2.70" fill="#F8BC82"/><rect x="679.25" y="260.85" width="2.70" height="2.70" fill="#F8BC82"/>
<path d="M115.20,306.00M120.85,306.00M126.51,306.00M132.16,306.00M137.82,306.00M143.47,306.00M149.12,306.00M154.78,306.00M160.43,306.00M166.09,306.00M171.74,306.00M177.39,306.00M183.05,306.00M188.70,306.00M194.36,306.00M200.01,306.00M205.66,306.00M211.32,306.00M216.97,306.00M222.63,306.00M228.28,306.00M233.93,306.00M239.59,306.00M245.24,306.00M250.90,306.00M256.55,306.00M262.20,306.00M267.86,306.00M273.51,306.00M279.17,306.00M284.82,306.00M290.47,306.00M296.13,306.00M301.78,306.00M307.44,306.00M313.09,306.00M318.74,306.00M324.40,306.00M330.05,306.00M335.71,306.00M341.36,306.00M347.01,306.00M352.67,306.00M358.32,306.00M363.98,306.00M369.63,306.00M375.28,306.00M380.94,306.00M386.59,306.00M392.25,306.00M397.90,306.00M403.55,306.00M409.21,306.00M414.86,306.00M420.52,306.00M426.17,306.00M431.82,306.00L437.48,305.50L443.13,305.20L448.79,305.10L454.44,305.00L460.09,305.00L465.75,305.00L471.40,305.00L477.06,305.00L482.71,305.00L488.36,305.00L494.02,305.00L499.67,305.00L505.33,305.00L510.98,305.00L516.63,305.00L522.29,305.00L527.94,305.00L533.60,304.00L539.25,304.00L544.90,305.00L550.56,305.00L556.21,304.80L561.87,304.50L567.52,303.70L573.17,303.00L578.83,305.10L584.48,305.50L590.14,304.80L595.79,304.20L601.44,303.00L607.10,302.50L612.75,303.00L618.41,302.00L624.06,301.60L629.71,300.20L635.37,299.00L641.02,299.50L646.68,300.20L652.33,296.70L657.98,289.70L663.64,290.20L669.29,297.80L674.95,296.00L680.60,294.60" fill="none" stroke="#92D392" stroke-width="1.0" stroke-linejoin="round"/>
<circle cx="115.20" cy="306.00" r="1.55" fill="#88CE89"/><circle cx="120.85" cy="306.00" r="1.55" fill="#88CE89"/><circle cx="126.51" cy="306.00" r="1.55" fill="#88CE89"/><circle cx="132.16" cy="306.00" r="1.55" fill="#88CE89"/><circle cx="137.82" cy="306.00" r="1.55" fill="#88CE89"/><circle cx="143.47" cy="306.00" r="1.55" fill="#88CE89"/><circle cx="149.12" cy="306.00" r="1.55" fill="#88CE89"/><circle cx="154.78" cy="306.00" r="1.55" fill="#88CE89"/><circle cx="160.43" cy="306.00" r="1.55" fill="#88CE89"/><circle cx="166.09" cy="306.00" r="1.55" fill="#88CE89"/><circle cx="171.74" cy="306.00" r="1.55" fill="#88CE89"/><circle cx="177.39" cy="306.00" r="1.55" fill="#88CE89"/><circle cx="183.05" cy="306.00" r="1.55" fill="#88CE89"/><circle cx="188.70" cy="306.00" r="1.55" fill="#88CE89"/><circle cx="194.36" cy="306.00" r="1.55" fill="#88CE89"/><circle cx="200.01" cy="306.00" r="1.55" fill="#88CE89"/><circle cx="205.66" cy="306.00" r="1.55" fill="#88CE89"/><circle cx="211.32" cy="306.00" r="1.55" fill="#88CE89"/><circle cx="216.97" cy="306.00" r="1.55" fill="#88CE89"/><circle cx="222.63" cy="306.00" r="1.55" fill="#88CE89"/><circle cx="228.28" cy="306.00" r="1.55" fill="#88CE89"/><circle cx="233.93" cy="306.00" r="1.55" fill="#88CE89"/><circle cx="239.59" cy="306.00" r="1.55" fill="#88CE89"/><circle cx="245.24" cy="306.00" r="1.55" fill="#88CE89"/><circle cx="250.90" cy="306.00" r="1.55" fill="#88CE89"/><circle cx="256.55" cy="306.00" r="1.55" fill="#88CE89"/><circle cx="262.20" cy="306.00" r="1.55" fill="#88CE89"/><circle cx="267.86" cy="306.00" r="1.55" fill="#88CE89"/><circle cx="273.51" cy="306.00" r="1.55" fill="#88CE89"/><circle cx="279.17" cy="306.00" r="1.55" fill="#88CE89"/><circle cx="284.82" cy="306.00" r="1.55" fill="#88CE89"/><circle cx="290.47" cy="306.00" r="1.55" fill="#88CE89"/><circle cx="296.13" cy="306.00" r="1.55" fill="#88CE89"/><circle cx="301.78" cy="306.00" r="1.55" fill="#88CE89"/><circle cx="307.44" cy="306.00" r="1.55" fill="#88CE89"/><circle cx="313.09" cy="306.00" r="1.55" fill="#88CE89"/><circle cx="318.74" cy="306.00" r="1.55" fill="#88CE89"/><circle cx="324.40" cy="306.00" r="1.55" fill="#88CE89"/><circle cx="330.05" cy="306.00" r="1.55" fill="#88CE89"/><circle cx="335.71" cy="306.00" r="1.55" fill="#88CE89"/><circle cx="341.36" cy="306.00" r="1.55" fill="#88CE89"/><circle cx="347.01" cy="306.00" r="1.55" fill="#88CE89"/><circle cx="352.67" cy="306.00" r="1.55" fill="#88CE89"/><circle cx="358.32" cy="306.00" r="1.55" fill="#88CE89"/><circle cx="363.98" cy="306.00" r="1.55" fill="#88CE89"/><circle cx="369.63" cy="306.00" r="1.55" fill="#88CE89"/><circle cx="375.28" cy="306.00" r="1.55" fill="#88CE89"/><circle cx="380.94" cy="306.00" r="1.55" fill="#88CE89"/><circle cx="386.59" cy="306.00" r="1.55" fill="#88CE89"/><circle cx="392.25" cy="306.00" r="1.55" fill="#88CE89"/><circle cx="397.90" cy="306.00" r="1.55" fill="#88CE89"/><circle cx="403.55" cy="306.00" r="1.55" fill="#88CE89"/><circle cx="409.21" cy="306.00" r="1.55" fill="#88CE89"/><circle cx="414.86" cy="306.00" r="1.55" fill="#88CE89"/><circle cx="420.52" cy="306.00" r="1.55" fill="#88CE89"/><circle cx="426.17" cy="306.00" r="1.55" fill="#88CE89"/><circle cx="431.82" cy="306.00" r="1.55" fill="#88CE89"/><circle cx="437.48" cy="305.50" r="1.55" fill="#88CE89"/><circle cx="443.13" cy="305.20" r="1.55" fill="#88CE89"/><circle cx="448.79" cy="305.10" r="1.55" fill="#88CE89"/><circle cx="454.44" cy="305.00" r="1.55" fill="#88CE89"/><circle cx="460.09" cy="305.00" r="1.55" fill="#88CE89"/><circle cx="465.75" cy="305.00" r="1.55" fill="#88CE89"/><circle cx="471.40" cy="305.00" r="1.55" fill="#88CE89"/><circle cx="477.06" cy="305.00" r="1.55" fill="#88CE89"/><circle cx="482.71" cy="305.00" r="1.55" fill="#88CE89"/><circle cx="488.36" cy="305.00" r="1.55" fill="#88CE89"/><circle cx="494.02" cy="305.00" r="1.55" fill="#88CE89"/><circle cx="499.67" cy="305.00" r="1.55" fill="#88CE89"/><circle cx="505.33" cy="305.00" r="1.55" fill="#88CE89"/><circle cx="510.98" cy="305.00" r="1.55" fill="#88CE89"/><circle cx="516.63" cy="305.00" r="1.55" fill="#88CE89"/><circle cx="522.29" cy="305.00" r="1.55" fill="#88CE89"/><circle cx="527.94" cy="305.00" r="1.55" fill="#88CE89"/><circle cx="533.60" cy="304.00" r="1.55" fill="#88CE89"/><circle cx="539.25" cy="304.00" r="1.55" fill="#88CE89"/><circle cx="544.90" cy="305.00" r="1.55" fill="#88CE89"/><circle cx="550.56" cy="305.00" r="1.55" fill="#88CE89"/><circle cx="556.21" cy="304.80" r="1.55" fill="#88CE89"/><circle cx="561.87" cy="304.50" r="1.55" fill="#88CE89"/><circle cx="567.52" cy="303.70" r="1.55" fill="#88CE89"/><circle cx="573.17" cy="303.00" r="1.55" fill="#88CE89"/><circle cx="578.83" cy="305.10" r="1.55" fill="#88CE89"/><circle cx="584.48" cy="305.50" r="1.55" fill="#88CE89"/><circle cx="590.14" cy="304.80" r="1.55" fill="#88CE89"/><circle cx="595.79" cy="304.20" r="1.55" fill="#88CE89"/><circle cx="601.44" cy="303.00" r="1.55" fill="#88CE89"/><circle cx="607.10" cy="302.50" r="1.55" fill="#88CE89"/><circle cx="612.75" cy="303.00" r="1.55" fill="#88CE89"/><circle cx="618.41" cy="302.00" r="1.55" fill="#88CE89"/><circle cx="624.06" cy="301.60" r="1.55" fill="#88CE89"/><circle cx="629.71" cy="300.20" r="1.55" fill="#88CE89"/><circle cx="635.37" cy="299.00" r="1.55" fill="#88CE89"/><circle cx="641.02" cy="299.50" r="1.55" fill="#88CE89"/><circle cx="646.68" cy="300.20" r="1.55" fill="#88CE89"/><circle cx="652.33" cy="296.70" r="1.55" fill="#88CE89"/><circle cx="657.98" cy="289.70" r="1.55" fill="#88CE89"/><circle cx="663.64" cy="290.20" r="1.55" fill="#88CE89"/><circle cx="669.29" cy="297.80" r="1.55" fill="#88CE89"/><circle cx="674.95" cy="296.00" r="1.55" fill="#88CE89"/><circle cx="680.60" cy="294.60" r="1.55" fill="#88CE89"/>
<path d="M115.20,306.00M120.85,306.00M126.51,306.00M132.16,306.00M137.82,306.00M143.47,306.00M149.12,306.00M154.78,306.00M160.43,306.00M166.09,306.00M171.74,306.00M177.39,306.00M183.05,306.00M188.70,306.00M194.36,306.00M200.01,306.00M205.66,306.00M211.32,306.00M216.97,306.00M222.63,306.00M228.28,306.00M233.93,306.00M239.59,306.00M245.24,306.00M250.90,306.00M256.55,306.00M262.20,306.00M267.86,306.00M273.51,306.00M279.17,306.00M284.82,306.00M290.47,306.00M296.13,306.00M301.78,306.00M307.44,306.00M313.09,306.00M318.74,306.00M324.40,306.00M330.05,306.00M335.71,306.00M341.36,306.00M347.01,306.00M352.67,306.00M358.32,306.00M363.98,306.00M369.63,306.00M375.28,306.00M380.94,306.00L386.59,305.50L392.25,305.20L397.90,305.00L403.55,304.80L409.21,304.50L414.86,304.20L420.52,303.80L426.17,303.50L431.82,303.40L437.48,303.20L443.13,303.00L448.79,302.80L454.44,302.70L460.09,303.00L465.75,303.40L471.40,303.90L477.06,305.10L482.71,303.90L488.36,301.60L494.02,300.90L499.67,300.90L505.33,300.90L510.98,300.90L516.63,301.30L522.29,301.30L527.94,301.60L533.60,302.10L539.25,303.90L544.90,302.10L550.56,301.30L556.21,300.90L561.87,299.20L567.52,302.00L573.17,300.70L578.83,299.90L584.48,299.00L590.14,297.80L595.79,299.90L601.44,301.30L607.10,299.00L612.75,299.00L618.41,298.10L624.06,294.30L629.71,294.30L635.37,292.90L641.02,293.70L646.68,292.50L652.33,291.50L657.98,293.70L663.64,293.70L669.29,291.50L674.95,288.00L680.60,289.70" fill="none" stroke="#C5B6E0" stroke-width="1.0" stroke-linejoin="round"/>
<path d="M115.20,304.20L117.00,307.35L113.40,307.35Z" fill="#B8A6DA"/><path d="M120.85,304.20L122.65,307.35L119.05,307.35Z" fill="#B8A6DA"/><path d="M126.51,304.20L128.31,307.35L124.71,307.35Z" fill="#B8A6DA"/><path d="M132.16,304.20L133.96,307.35L130.36,307.35Z" fill="#B8A6DA"/><path d="M137.82,304.20L139.62,307.35L136.02,307.35Z" fill="#B8A6DA"/><path d="M143.47,304.20L145.27,307.35L141.67,307.35Z" fill="#B8A6DA"/><path d="M149.12,304.20L150.92,307.35L147.32,307.35Z" fill="#B8A6DA"/><path d="M154.78,304.20L156.58,307.35L152.98,307.35Z" fill="#B8A6DA"/><path d="M160.43,304.20L162.23,307.35L158.63,307.35Z" fill="#B8A6DA"/><path d="M166.09,304.20L167.89,307.35L164.29,307.35Z" fill="#B8A6DA"/><path d="M171.74,304.20L173.54,307.35L169.94,307.35Z" fill="#B8A6DA"/><path d="M177.39,304.20L179.19,307.35L175.59,307.35Z" fill="#B8A6DA"/><path d="M183.05,304.20L184.85,307.35L181.25,307.35Z" fill="#B8A6DA"/><path d="M188.70,304.20L190.50,307.35L186.90,307.35Z" fill="#B8A6DA"/><path d="M194.36,304.20L196.16,307.35L192.56,307.35Z" fill="#B8A6DA"/><path d="M200.01,304.20L201.81,307.35L198.21,307.35Z" fill="#B8A6DA"/><path d="M205.66,304.20L207.46,307.35L203.86,307.35Z" fill="#B8A6DA"/><path d="M211.32,304.20L213.12,307.35L209.52,307.35Z" fill="#B8A6DA"/><path d="M216.97,304.20L218.77,307.35L215.17,307.35Z" fill="#B8A6DA"/><path d="M222.63,304.20L224.43,307.35L220.83,307.35Z" fill="#B8A6DA"/><path d="M228.28,304.20L230.08,307.35L226.48,307.35Z" fill="#B8A6DA"/><path d="M233.93,304.20L235.73,307.35L232.13,307.35Z" fill="#B8A6DA"/><path d="M239.59,304.20L241.39,307.35L237.79,307.35Z" fill="#B8A6DA"/><path d="M245.24,304.20L247.04,307.35L243.44,307.35Z" fill="#B8A6DA"/><path d="M250.90,304.20L252.70,307.35L249.10,307.35Z" fill="#B8A6DA"/><path d="M256.55,304.20L258.35,307.35L254.75,307.35Z" fill="#B8A6DA"/><path d="M262.20,304.20L264.00,307.35L260.40,307.35Z" fill="#B8A6DA"/><path d="M267.86,304.20L269.66,307.35L266.06,307.35Z" fill="#B8A6DA"/><path d="M273.51,304.20L275.31,307.35L271.71,307.35Z" fill="#B8A6DA"/><path d="M279.17,304.20L280.97,307.35L277.37,307.35Z" fill="#B8A6DA"/><path d="M284.82,304.20L286.62,307.35L283.02,307.35Z" fill="#B8A6DA"/><path d="M290.47,304.20L292.27,307.35L288.67,307.35Z" fill="#B8A6DA"/><path d="M296.13,304.20L297.93,307.35L294.33,307.35Z" fill="#B8A6DA"/><path d="M301.78,304.20L303.58,307.35L299.98,307.35Z" fill="#B8A6DA"/><path d="M307.44,304.20L309.24,307.35L305.64,307.35Z" fill="#B8A6DA"/><path d="M313.09,304.20L314.89,307.35L311.29,307.35Z" fill="#B8A6DA"/><path d="M318.74,304.20L320.54,307.35L316.94,307.35Z" fill="#B8A6DA"/><path d="M324.40,304.20L326.20,307.35L322.60,307.35Z" fill="#B8A6DA"/><path d="M330.05,304.20L331.85,307.35L328.25,307.35Z" fill="#B8A6DA"/><path d="M335.71,304.20L337.51,307.35L333.91,307.35Z" fill="#B8A6DA"/><path d="M341.36,304.20L343.16,307.35L339.56,307.35Z" fill="#B8A6DA"/><path d="M347.01,304.20L348.81,307.35L345.21,307.35Z" fill="#B8A6DA"/><path d="M352.67,304.20L354.47,307.35L350.87,307.35Z" fill="#B8A6DA"/><path d="M358.32,304.20L360.12,307.35L356.52,307.35Z" fill="#B8A6DA"/><path d="M363.98,304.20L365.78,307.35L362.18,307.35Z" fill="#B8A6DA"/><path d="M369.63,304.20L371.43,307.35L367.83,307.35Z" fill="#B8A6DA"/><path d="M375.28,304.20L377.08,307.35L373.48,307.35Z" fill="#B8A6DA"/><path d="M380.94,304.20L382.74,307.35L379.14,307.35Z" fill="#B8A6DA"/><path d="M386.59,303.70L388.39,306.85L384.79,306.85Z" fill="#B8A6DA"/><path d="M392.25,303.40L394.05,306.55L390.45,306.55Z" fill="#B8A6DA"/><path d="M397.90,303.20L399.70,306.35L396.10,306.35Z" fill="#B8A6DA"/><path d="M403.55,303.00L405.35,306.15L401.75,306.15Z" fill="#B8A6DA"/><path d="M409.21,302.70L411.01,305.85L407.41,305.85Z" fill="#B8A6DA"/><path d="M414.86,302.40L416.66,305.55L413.06,305.55Z" fill="#B8A6DA"/><path d="M420.52,302.00L422.32,305.15L418.72,305.15Z" fill="#B8A6DA"/><path d="M426.17,301.70L427.97,304.85L424.37,304.85Z" fill="#B8A6DA"/><path d="M431.82,301.60L433.62,304.75L430.02,304.75Z" fill="#B8A6DA"/><path d="M437.48,301.40L439.28,304.55L435.68,304.55Z" fill="#B8A6DA"/><path d="M443.13,301.20L444.93,304.35L441.33,304.35Z" fill="#B8A6DA"/><path d="M448.79,301.00L450.59,304.15L446.99,304.15Z" fill="#B8A6DA"/><path d="M454.44,300.90L456.24,304.05L452.64,304.05Z" fill="#B8A6DA"/><path d="M460.09,301.20L461.89,304.35L458.29,304.35Z" fill="#B8A6DA"/><path d="M465.75,301.60L467.55,304.75L463.95,304.75Z" fill="#B8A6DA"/><path d="M471.40,302.10L473.20,305.25L469.60,305.25Z" fill="#B8A6DA"/><path d="M477.06,303.30L478.86,306.45L475.26,306.45Z" fill="#B8A6DA"/><path d="M482.71,302.10L484.51,305.25L480.91,305.25Z" fill="#B8A6DA"/><path d="M488.36,299.80L490.16,302.95L486.56,302.95Z" fill="#B8A6DA"/><path d="M494.02,299.10L495.82,302.25L492.22,302.25Z" fill="#B8A6DA"/><path d="M499.67,299.10L501.47,302.25L497.87,302.25Z" fill="#B8A6DA"/><path d="M505.33,299.10L507.13,302.25L503.53,302.25Z" fill="#B8A6DA"/><path d="M510.98,299.10L512.78,302.25L509.18,302.25Z" fill="#B8A6DA"/><path d="M516.63,299.50L518.43,302.65L514.83,302.65Z" fill="#B8A6DA"/><path d="M522.29,299.50L524.09,302.65L520.49,302.65Z" fill="#B8A6DA"/><path d="M527.94,299.80L529.74,302.95L526.14,302.95Z" fill="#B8A6DA"/><path d="M533.60,300.30L535.40,303.45L531.80,303.45Z" fill="#B8A6DA"/><path d="M539.25,302.10L541.05,305.25L537.45,305.25Z" fill="#B8A6DA"/><path d="M544.90,300.30L546.70,303.45L543.10,303.45Z" fill="#B8A6DA"/><path d="M550.56,299.50L552.36,302.65L548.76,302.65Z" fill="#B8A6DA"/><path d="M556.21,299.10L558.01,302.25L554.41,302.25Z" fill="#B8A6DA"/><path d="M561.87,297.40L563.67,300.55L560.07,300.55Z" fill="#B8A6DA"/><path d="M567.52,300.20L569.32,303.35L565.72,303.35Z" fill="#B8A6DA"/><path d="M573.17,298.90L574.97,302.05L571.37,302.05Z" fill="#B8A6DA"/><path d="M578.83,298.10L580.63,301.25L577.03,301.25Z" fill="#B8A6DA"/><path d="M584.48,297.20L586.28,300.35L582.68,300.35Z" fill="#B8A6DA"/><path d="M590.14,296.00L591.94,299.15L588.34,299.15Z" fill="#B8A6DA"/><path d="M595.79,298.10L597.59,301.25L593.99,301.25Z" fill="#B8A6DA"/><path d="M601.44,299.50L603.24,302.65L599.64,302.65Z" fill="#B8A6DA"/><path d="M607.10,297.20L608.90,300.35L605.30,300.35Z" fill="#B8A6DA"/><path d="M612.75,297.20L614.55,300.35L610.95,300.35Z" fill="#B8A6DA"/><path d="M618.41,296.30L620.21,299.45L616.61,299.45Z" fill="#B8A6DA"/><path d="M624.06,292.50L625.86,295.65L622.26,295.65Z" fill="#B8A6DA"/><path d="M629.71,292.50L631.51,295.65L627.91,295.65Z" fill="#B8A6DA"/><path d="M635.37,291.10L637.17,294.25L633.57,294.25Z" fill="#B8A6DA"/><path d="M641.02,291.90L642.82,295.05L639.22,295.05Z" fill="#B8A6DA"/><path d="M646.68,290.70L648.48,293.85L644.88,293.85Z" fill="#B8A6DA"/><path d="M652.33,289.70L654.13,292.85L650.53,292.85Z" fill="#B8A6DA"/><path d="M657.98,291.90L659.78,295.05L656.18,295.05Z" fill="#B8A6DA"/><path d="M663.64,291.90L665.44,295.05L661.84,295.05Z" fill="#B8A6DA"/><path d="M669.29,289.70L671.09,292.85L667.49,292.85Z" fill="#B8A6DA"/><path d="M674.95,286.20L676.75,289.35L673.15,289.35Z" fill="#B8A6DA"/><path d="M680.60,287.90L682.40,291.05L678.80,291.05Z" fill="#B8A6DA"/>
<path d="M115.20,306.00M120.85,306.00M126.51,306.00M132.16,306.00M137.82,306.00M143.47,306.00M149.12,306.00M154.78,306.00M160.43,306.00M166.09,306.00M171.74,306.00M177.39,306.00M183.05,306.00M188.70,306.00M194.36,306.00M200.01,306.00M205.66,306.00M211.32,306.00M216.97,306.00M222.63,306.00M228.28,306.00M233.93,306.00M239.59,306.00M245.24,306.00M250.90,306.00M256.55,306.00M262.20,306.00M267.86,306.00M273.51,306.00M279.17,306.00M284.82,306.00M290.47,306.00M296.13,306.00M301.78,306.00M307.44,306.00M313.09,306.00M318.74,306.00M324.40,306.00M330.05,306.00M335.71,306.00M341.36,306.00M347.01,306.00L352.67,304.80L358.32,306.00L363.98,305.50L369.63,304.20L375.28,302.00L380.94,299.00L386.59,293.20L392.25,299.50L397.90,302.50L403.55,301.30L409.21,298.50L414.86,294.30L420.52,294.30L426.17,295.00L431.82,296.70L437.48,299.90L443.13,296.70L448.79,299.90L454.44,299.70L460.09,298.20L465.75,298.10L471.40,298.10L477.06,294.60L482.71,286.90L488.36,277.10L494.02,293.40L499.67,293.90L505.33,284.10L510.98,288.70L516.63,293.40L522.29,295.10L527.94,293.40L533.60,291.10L539.25,289.00L544.90,266.60L550.56,277.60L556.21,284.60L561.87,281.60L567.52,285.50L573.17,288.00L578.83,292.50L584.48,286.20L590.14,288.00L595.79,272.20L601.44,269.70L607.10,284.10L612.75,289.00L618.41,290.20L624.06,275.00L629.71,276.70L635.37,259.90L641.02,271.00L646.68,273.90L652.33,268.70L657.98,264.50L663.64,272.70L669.29,274.50L674.95,254.00L680.60,264.00" fill="none" stroke="#8FB3F3" stroke-width="1.0" stroke-linejoin="round"/>
<path d="M115.20,308.97L118.17,303.77L112.23,303.77Z" fill="#84ABF2"/><path d="M120.85,308.97L123.82,303.77L117.88,303.77Z" fill="#84ABF2"/><path d="M126.51,308.97L129.48,303.77L123.54,303.77Z" fill="#84ABF2"/><path d="M132.16,308.97L135.13,303.77L129.19,303.77Z" fill="#84ABF2"/><path d="M137.82,308.97L140.79,303.77L134.85,303.77Z" fill="#84ABF2"/><path d="M143.47,308.97L146.44,303.77L140.50,303.77Z" fill="#84ABF2"/><path d="M149.12,308.97L152.09,303.77L146.15,303.77Z" fill="#84ABF2"/><path d="M154.78,308.97L157.75,303.77L151.81,303.77Z" fill="#84ABF2"/><path d="M160.43,308.97L163.40,303.77L157.46,303.77Z" fill="#84ABF2"/><path d="M166.09,308.97L169.06,303.77L163.12,303.77Z" fill="#84ABF2"/><path d="M171.74,308.97L174.71,303.77L168.77,303.77Z" fill="#84ABF2"/><path d="M177.39,308.97L180.36,303.77L174.42,303.77Z" fill="#84ABF2"/><path d="M183.05,308.97L186.02,303.77L180.08,303.77Z" fill="#84ABF2"/><path d="M188.70,308.97L191.67,303.77L185.73,303.77Z" fill="#84ABF2"/><path d="M194.36,308.97L197.33,303.77L191.39,303.77Z" fill="#84ABF2"/><path d="M200.01,308.97L202.98,303.77L197.04,303.77Z" fill="#84ABF2"/><path d="M205.66,308.97L208.63,303.77L202.69,303.77Z" fill="#84ABF2"/><path d="M211.32,308.97L214.29,303.77L208.35,303.77Z" fill="#84ABF2"/><path d="M216.97,308.97L219.94,303.77L214.00,303.77Z" fill="#84ABF2"/><path d="M222.63,308.97L225.60,303.77L219.66,303.77Z" fill="#84ABF2"/><path d="M228.28,308.97L231.25,303.77L225.31,303.77Z" fill="#84ABF2"/><path d="M233.93,308.97L236.90,303.77L230.96,303.77Z" fill="#84ABF2"/><path d="M239.59,308.97L242.56,303.77L236.62,303.77Z" fill="#84ABF2"/><path d="M245.24,308.97L248.21,303.77L242.27,303.77Z" fill="#84ABF2"/><path d="M250.90,308.97L253.87,303.77L247.93,303.77Z" fill="#84ABF2"/><path d="M256.55,308.97L259.52,303.77L253.58,303.77Z" fill="#84ABF2"/><path d="M262.20,308.97L265.17,303.77L259.23,303.77Z" fill="#84ABF2"/><path d="M267.86,308.97L270.83,303.77L264.89,303.77Z" fill="#84ABF2"/><path d="M273.51,308.97L276.48,303.77L270.54,303.77Z" fill="#84ABF2"/><path d="M279.17,308.97L282.14,303.77L276.20,303.77Z" fill="#84ABF2"/><path d="M284.82,308.97L287.79,303.77L281.85,303.77Z" fill="#84ABF2"/><path d="M290.47,308.97L293.44,303.77L287.50,303.77Z" fill="#84ABF2"/><path d="M296.13,308.97L299.10,303.77L293.16,303.77Z" fill="#84ABF2"/><path d="M301.78,308.97L304.75,303.77L298.81,303.77Z" fill="#84ABF2"/><path d="M307.44,308.97L310.41,303.77L304.47,303.77Z" fill="#84ABF2"/><path d="M313.09,308.97L316.06,303.77L310.12,303.77Z" fill="#84ABF2"/><path d="M318.74,308.97L321.71,303.77L315.77,303.77Z" fill="#84ABF2"/><path d="M324.40,308.97L327.37,303.77L321.43,303.77Z" fill="#84ABF2"/><path d="M330.05,308.97L333.02,303.77L327.08,303.77Z" fill="#84ABF2"/><path d="M335.71,308.97L338.68,303.77L332.74,303.77Z" fill="#84ABF2"/><path d="M341.36,308.97L344.33,303.77L338.39,303.77Z" fill="#84ABF2"/><path d="M347.01,308.97L349.98,303.77L344.04,303.77Z" fill="#84ABF2"/><path d="M352.67,307.77L355.64,302.57L349.70,302.57Z" fill="#84ABF2"/><path d="M358.32,308.97L361.29,303.77L355.35,303.77Z" fill="#84ABF2"/><path d="M363.98,308.47L366.95,303.27L361.01,303.27Z" fill="#84ABF2"/><path d="M369.63,307.17L372.60,301.97L366.66,301.97Z" fill="#84ABF2"/><path d="M375.28,304.97L378.25,299.77L372.31,299.77Z" fill="#84ABF2"/><path d="M380.94,301.97L383.91,296.77L377.97,296.77Z" fill="#84ABF2"/><path d="M386.59,296.17L389.56,290.97L383.62,290.97Z" fill="#84ABF2"/><path d="M392.25,302.47L395.22,297.27L389.28,297.27Z" fill="#84ABF2"/><path d="M397.90,305.47L400.87,300.27L394.93,300.27Z" fill="#84ABF2"/><path d="M403.55,304.27L406.52,299.07L400.58,299.07Z" fill="#84ABF2"/><path d="M409.21,301.47L412.18,296.27L406.24,296.27Z" fill="#84ABF2"/><path d="M414.86,297.27L417.83,292.07L411.89,292.07Z" fill="#84ABF2"/><path d="M420.52,297.27L423.49,292.07L417.55,292.07Z" fill="#84ABF2"/><path d="M426.17,297.97L429.14,292.77L423.20,292.77Z" fill="#84ABF2"/><path d="M431.82,299.67L434.79,294.47L428.85,294.47Z" fill="#84ABF2"/><path d="M437.48,302.87L440.45,297.67L434.51,297.67Z" fill="#84ABF2"/><path d="M443.13,299.67L446.10,294.47L440.16,294.47Z" fill="#84ABF2"/><path d="M448.79,302.87L451.76,297.67L445.82,297.67Z" fill="#84ABF2"/><path d="M454.44,302.67L457.41,297.47L451.47,297.47Z" fill="#84ABF2"/><path d="M460.09,301.17L463.06,295.97L457.12,295.97Z" fill="#84ABF2"/><path d="M465.75,301.07L468.72,295.87L462.78,295.87Z" fill="#84ABF2"/><path d="M471.40,301.07L474.37,295.87L468.43,295.87Z" fill="#84ABF2"/><path d="M477.06,297.57L480.03,292.37L474.09,292.37Z" fill="#84ABF2"/><path d="M482.71,289.87L485.68,284.67L479.74,284.67Z" fill="#84ABF2"/><path d="M488.36,280.07L491.33,274.87L485.39,274.87Z" fill="#84ABF2"/><path d="M494.02,296.37L496.99,291.17L491.05,291.17Z" fill="#84ABF2"/><path d="M499.67,296.87L502.64,291.67L496.70,291.67Z" fill="#84ABF2"/><path d="M505.33,287.07L508.30,281.87L502.36,281.87Z" fill="#84ABF2"/><path d="M510.98,291.67L513.95,286.47L508.01,286.47Z" fill="#84ABF2"/><path d="M516.63,296.37L519.60,291.17L513.66,291.17Z" fill="#84ABF2"/><path d="M522.29,298.07L525.26,292.87L519.32,292.87Z" fill="#84ABF2"/><path d="M527.94,296.37L530.91,291.17L524.97,291.17Z" fill="#84ABF2"/><path d="M533.60,294.07L536.57,288.87L530.63,288.87Z" fill="#84ABF2"/><path d="M539.25,291.97L542.22,286.77L536.28,286.77Z" fill="#84ABF2"/><path d="M544.90,269.57L547.87,264.37L541.93,264.37Z" fill="#84ABF2"/><path d="M550.56,280.57L553.53,275.37L547.59,275.37Z" fill="#84ABF2"/><path d="M556.21,287.57L559.18,282.37L553.24,282.37Z" fill="#84ABF2"/><path d="M561.87,284.57L564.84,279.37L558.90,279.37Z" fill="#84ABF2"/><path d="M567.52,288.47L570.49,283.27L564.55,283.27Z" fill="#84ABF2"/><path d="M573.17,290.97L576.14,285.77L570.20,285.77Z" fill="#84ABF2"/><path d="M578.83,295.47L581.80,290.27L575.86,290.27Z" fill="#84ABF2"/><path d="M584.48,289.17L587.45,283.97L581.51,283.97Z" fill="#84ABF2"/><path d="M590.14,290.97L593.11,285.77L587.17,285.77Z" fill="#84ABF2"/><path d="M595.79,275.17L598.76,269.97L592.82,269.97Z" fill="#84ABF2"/><path d="M601.44,272.67L604.41,267.47L598.47,267.47Z" fill="#84ABF2"/><path d="M607.10,287.07L610.07,281.87L604.13,281.87Z" fill="#84ABF2"/><path d="M612.75,291.97L615.72,286.77L609.78,286.77Z" fill="#84ABF2"/><path d="M618.41,293.17L621.38,287.97L615.44,287.97Z" fill="#84ABF2"/><path d="M624.06,277.97L627.03,272.77L621.09,272.77Z" fill="#84ABF2"/><path d="M629.71,279.67L632.68,274.47L626.74,274.47Z" fill="#84ABF2"/><path d="M635.37,262.87L638.34,257.67L632.40,257.67Z" fill="#84ABF2"/><path d="M641.02,273.97L643.99,268.77L638.05,268.77Z" fill="#84ABF2"/><path d="M646.68,276.87L649.65,271.67L643.71,271.67Z" fill="#84ABF2"/><path d="M652.33,271.67L655.30,266.47L649.36,266.47Z" fill="#84ABF2"/><path d="M657.98,267.47L660.95,262.27L655.01,262.27Z" fill="#84ABF2"/><path d="M663.64,275.67L666.61,270.47L660.67,270.47Z" fill="#84ABF2"/><path d="M669.29,277.47L672.26,272.27L666.32,272.27Z" fill="#84ABF2"/><path d="M674.95,256.97L677.92,251.77L671.98,251.77Z" fill="#84ABF2"/><path d="M680.60,266.97L683.57,261.77L677.63,261.77Z" fill="#84ABF2"/>
<path d="M115.20,404.60M120.85,404.60M126.51,404.60M132.16,404.60M137.82,404.60M143.47,404.60M149.12,404.60M154.78,404.60M160.43,404.60M166.09,404.60M171.74,404.60M177.39,404.60M183.05,404.60M188.70,404.60M194.36,404.60M200.01,404.60M205.66,404.60M211.32,404.60M216.97,404.60M222.63,404.60M228.28,404.60M233.93,404.60M239.59,404.60M245.24,404.60M250.90,404.60M256.55,404.60M262.20,404.60M267.86,404.60M273.51,404.60M279.17,404.60M284.82,404.60M290.47,404.60M296.13,404.60M301.78,404.60L307.44,403.70L313.09,403.30L318.74,402.90L324.40,402.50L330.05,402.10L335.71,401.70L341.36,401.40L347.01,400.70L352.67,399.30L358.32,398.50L363.98,397.90L369.63,397.20L375.28,396.20L380.94,395.50L386.59,394.40L392.25,393.70L397.90,393.20L403.55,392.30L409.21,391.50L414.86,390.80L420.52,390.30L426.17,388.00L431.82,386.20L437.48,386.60L443.13,386.20L448.79,383.90L454.44,382.70L460.09,379.50L465.75,380.40L471.40,378.10L477.06,377.40L482.71,377.80L488.36,377.40L494.02,376.00L499.67,372.90L505.33,372.90L510.98,371.10L516.63,371.10L522.29,367.40L527.94,366.60L533.60,365.70L539.25,365.70L544.90,362.90L550.56,362.60L556.21,363.40L561.87,361.70L567.52,358.70L573.17,358.20L578.83,356.40L584.48,356.40L590.14,354.70L595.79,352.90L601.44,349.80L607.10,347.80L612.75,347.20L618.41,342.00L624.06,342.90L629.71,344.60L635.37,342.00L641.02,343.80L646.68,345.40L652.33,344.20L657.98,342.90L663.64,343.80L669.29,343.30L674.95,344.60L680.60,343.80" fill="none" stroke="#F9C796" stroke-width="1.0" stroke-linejoin="round"/>
<rect x="113.85" y="403.25" width="2.70" height="2.70" fill="#F8BC82"/><rect x="119.50" y="403.25" width="2.70" height="2.70" fill="#F8BC82"/><rect x="125.16" y="403.25" width="2.70" height="2.70" fill="#F8BC82"/><rect x="130.81" y="403.25" width="2.70" height="2.70" fill="#F8BC82"/><rect x="136.47" y="403.25" width="2.70" height="2.70" fill="#F8BC82"/><rect x="142.12" y="403.25" width="2.70" height="2.70" fill="#F8BC82"/><rect x="147.77" y="403.25" width="2.70" height="2.70" fill="#F8BC82"/><rect x="153.43" y="403.25" width="2.70" height="2.70" fill="#F8BC82"/><rect x="159.08" y="403.25" width="2.70" height="2.70" fill="#F8BC82"/><rect x="164.74" y="403.25" width="2.70" height="2.70" fill="#F8BC82"/><rect x="170.39" y="403.25" width="2.70" height="2.70" fill="#F8BC82"/><rect x="176.04" y="403.25" width="2.70" height="2.70" fill="#F8BC82"/><rect x="181.70" y="403.25" width="2.70" height="2.70" fill="#F8BC82"/><rect x="187.35" y="403.25" width="2.70" height="2.70" fill="#F8BC82"/><rect x="193.01" y="403.25" width="2.70" height="2.70" fill="#F8BC82"/><rect x="198.66" y="403.25" width="2.70" height="2.70" fill="#F8BC82"/><rect x="204.31" y="403.25" width="2.70" height="2.70" fill="#F8BC82"/><rect x="209.97" y="403.25" width="2.70" height="2.70" fill="#F8BC82"/><rect x="215.62" y="403.25" width="2.70" height="2.70" fill="#F8BC82"/><rect x="221.28" y="403.25" width="2.70" height="2.70" fill="#F8BC82"/><rect x="226.93" y="403.25" width="2.70" height="2.70" fill="#F8BC82"/><rect x="232.58" y="403.25" width="2.70" height="2.70" fill="#F8BC82"/><rect x="238.24" y="403.25" width="2.70" height="2.70" fill="#F8BC82"/><rect x="243.89" y="403.25" width="2.70" height="2.70" fill="#F8BC82"/><rect x="249.55" y="403.25" width="2.70" height="2.70" fill="#F8BC82"/><rect x="255.20" y="403.25" width="2.70" height="2.70" fill="#F8BC82"/><rect x="260.85" y="403.25" width="2.70" height="2.70" fill="#F8BC82"/><rect x="266.51" y="403.25" width="2.70" height="2.70" fill="#F8BC82"/><rect x="272.16" y="403.25" width="2.70" height="2.70" fill="#F8BC82"/><rect x="277.82" y="403.25" width="2.70" height="2.70" fill="#F8BC82"/><rect x="283.47" y="403.25" width="2.70" height="2.70" fill="#F8BC82"/><rect x="289.12" y="403.25" width="2.70" height="2.70" fill="#F8BC82"/><rect x="294.78" y="403.25" width="2.70" height="2.70" fill="#F8BC82"/><rect x="300.43" y="403.25" width="2.70" height="2.70" fill="#F8BC82"/><rect x="306.09" y="402.35" width="2.70" height="2.70" fill="#F8BC82"/><rect x="311.74" y="401.95" width="2.70" height="2.70" fill="#F8BC82"/><rect x="317.39" y="401.55" width="2.70" height="2.70" fill="#F8BC82"/><rect x="323.05" y="401.15" width="2.70" height="2.70" fill="#F8BC82"/><rect x="328.70" y="400.75" width="2.70" height="2.70" fill="#F8BC82"/><rect x="334.36" y="400.35" width="2.70" height="2.70" fill="#F8BC82"/><rect x="340.01" y="400.05" width="2.70" height="2.70" fill="#F8BC82"/><rect x="345.66" y="399.35" width="2.70" height="2.70" fill="#F8BC82"/><rect x="351.32" y="397.95" width="2.70" height="2.70" fill="#F8BC82"/><rect x="356.97" y="397.15" width="2.70" height="2.70" fill="#F8BC82"/><rect x="362.63" y="396.55" width="2.70" height="2.70" fill="#F8BC82"/><rect x="368.28" y="395.85" width="2.70" height="2.70" fill="#F8BC82"/><rect x="373.93" y="394.85" width="2.70" height="2.70" fill="#F8BC82"/><rect x="379.59" y="394.15" width="2.70" height="2.70" fill="#F8BC82"/><rect x="385.24" y="393.05" width="2.70" height="2.70" fill="#F8BC82"/><rect x="390.90" y="392.35" width="2.70" height="2.70" fill="#F8BC82"/><rect x="396.55" y="391.85" width="2.70" height="2.70" fill="#F8BC82"/><rect x="402.20" y="390.95" width="2.70" height="2.70" fill="#F8BC82"/><rect x="407.86" y="390.15" width="2.70" height="2.70" fill="#F8BC82"/><rect x="413.51" y="389.45" width="2.70" height="2.70" fill="#F8BC82"/><rect x="419.17" y="388.95" width="2.70" height="2.70" fill="#F8BC82"/><rect x="424.82" y="386.65" width="2.70" height="2.70" fill="#F8BC82"/><rect x="430.47" y="384.85" width="2.70" height="2.70" fill="#F8BC82"/><rect x="436.13" y="385.25" width="2.70" height="2.70" fill="#F8BC82"/><rect x="441.78" y="384.85" width="2.70" height="2.70" fill="#F8BC82"/><rect x="447.44" y="382.55" width="2.70" height="2.70" fill="#F8BC82"/><rect x="453.09" y="381.35" width="2.70" height="2.70" fill="#F8BC82"/><rect x="458.74" y="378.15" width="2.70" height="2.70" fill="#F8BC82"/><rect x="464.40" y="379.05" width="2.70" height="2.70" fill="#F8BC82"/><rect x="470.05" y="376.75" width="2.70" height="2.70" fill="#F8BC82"/><rect x="475.71" y="376.05" width="2.70" height="2.70" fill="#F8BC82"/><rect x="481.36" y="376.45" width="2.70" height="2.70" fill="#F8BC82"/><rect x="487.01" y="376.05" width="2.70" height="2.70" fill="#F8BC82"/><rect x="492.67" y="374.65" width="2.70" height="2.70" fill="#F8BC82"/><rect x="498.32" y="371.55" width="2.70" height="2.70" fill="#F8BC82"/><rect x="503.98" y="371.55" width="2.70" height="2.70" fill="#F8BC82"/><rect x="509.63" y="369.75" width="2.70" height="2.70" fill="#F8BC82"/><rect x="515.28" y="369.75" width="2.70" height="2.70" fill="#F8BC82"/><rect x="520.94" y="366.05" width="2.70" height="2.70" fill="#F8BC82"/><rect x="526.59" y="365.25" width="2.70" height="2.70" fill="#F8BC82"/><rect x="532.25" y="364.35" width="2.70" height="2.70" fill="#F8BC82"/><rect x="537.90" y="364.35" width="2.70" height="2.70" fill="#F8BC82"/><rect x="543.55" y="361.55" width="2.70" height="2.70" fill="#F8BC82"/><rect x="549.21" y="361.25" width="2.70" height="2.70" fill="#F8BC82"/><rect x="554.86" y="362.05" width="2.70" height="2.70" fill="#F8BC82"/><rect x="560.52" y="360.35" width="2.70" height="2.70" fill="#F8BC82"/><rect x="566.17" y="357.35" width="2.70" height="2.70" fill="#F8BC82"/><rect x="571.82" y="356.85" width="2.70" height="2.70" fill="#F8BC82"/><rect x="577.48" y="355.05" width="2.70" height="2.70" fill="#F8BC82"/><rect x="583.13" y="355.05" width="2.70" height="2.70" fill="#F8BC82"/><rect x="588.79" y="353.35" width="2.70" height="2.70" fill="#F8BC82"/><rect x="594.44" y="351.55" width="2.70" height="2.70" fill="#F8BC82"/><rect x="600.09" y="348.45" width="2.70" height="2.70" fill="#F8BC82"/><rect x="605.75" y="346.45" width="2.70" height="2.70" fill="#F8BC82"/><rect x="611.40" y="345.85" width="2.70" height="2.70" fill="#F8BC82"/><rect x="617.06" y="340.65" width="2.70" height="2.70" fill="#F8BC82"/><rect x="622.71" y="341.55" width="2.70" height="2.70" fill="#F8BC82"/><rect x="628.36" y="343.25" width="2.70" height="2.70" fill="#F8BC82"/><rect x="634.02" y="340.65" width="2.70" height="2.70" fill="#F8BC82"/><rect x="639.67" y="342.45" width="2.70" height="2.70" fill="#F8BC82"/><rect x="645.33" y="344.05" width="2.70" height="2.70" fill="#F8BC82"/><rect x="650.98" y="342.85" width="2.70" height="2.70" fill="#F8BC82"/><rect x="656.63" y="341.55" width="2.70" height="2.70" fill="#F8BC82"/><rect x="662.29" y="342.45" width="2.70" height="2.70" fill="#F8BC82"/><rect x="667.94" y="341.95" width="2.70" height="2.70" fill="#F8BC82"/><rect x="673.60" y="343.25" width="2.70" height="2.70" fill="#F8BC82"/><rect x="679.25" y="342.45" width="2.70" height="2.70" fill="#F8BC82"/>
<path d="M115.20,404.60M120.85,404.60M126.51,404.60M132.16,404.60M137.82,404.60M143.47,404.60M149.12,404.60M154.78,404.60M160.43,404.60M166.09,404.60M171.74,404.60M177.39,404.60M183.05,404.60M188.70,404.60M194.36,404.60M200.01,404.60M205.66,404.60M211.32,404.60M216.97,404.60M222.63,404.60M228.28,404.60M233.93,404.60M239.59,404.60M245.24,404.60M250.90,404.60M256.55,404.60M262.20,404.60M267.86,404.60M273.51,404.60M279.17,404.60M284.82,404.60M290.47,404.60M296.13,404.60M301.78,404.60M307.44,404.60M313.09,404.60M318.74,404.60M324.40,404.60M330.05,404.60M335.71,404.60M341.36,404.60M347.01,404.60M352.67,404.60M358.32,404.60M363.98,404.60M369.63,404.60M375.28,404.60M380.94,404.60M386.59,404.60M392.25,404.60M397.90,404.60M403.55,404.60M409.21,404.60L414.86,403.70L420.52,400.90L426.17,400.60L431.82,400.60L437.48,397.90L443.13,397.40L448.79,397.10L454.44,398.50L460.09,394.40L465.75,395.30L471.40,392.20L477.06,391.50L482.71,390.40L488.36,391.50L494.02,390.40L499.67,390.10L505.33,389.20L510.98,389.70L516.63,386.90L522.29,383.90L527.94,385.70L533.60,384.50L539.25,383.60L544.90,380.90L550.56,381.50L556.21,376.90L561.87,376.20L567.52,375.70L573.17,378.70L578.83,366.10L584.48,372.70L590.14,366.90L595.79,365.70L601.44,367.40L607.10,365.30L612.75,359.10L618.41,362.20L624.06,359.40L629.71,361.40L635.37,359.10L641.02,358.20L646.68,357.20L652.33,355.30L657.98,355.00L663.64,357.80L669.29,355.30L674.95,356.00L680.60,351.60" fill="none" stroke="#92D392" stroke-width="1.0" stroke-linejoin="round"/>
<circle cx="115.20" cy="404.60" r="2.56" fill="#88CE89"/><circle cx="120.85" cy="404.60" r="2.56" fill="#88CE89"/><circle cx="126.51" cy="404.60" r="2.56" fill="#88CE89"/><circle cx="132.16" cy="404.60" r="2.56" fill="#88CE89"/><circle cx="137.82" cy="404.60" r="2.56" fill="#88CE89"/><circle cx="143.47" cy="404.60" r="2.56" fill="#88CE89"/><circle cx="149.12" cy="404.60" r="2.56" fill="#88CE89"/><circle cx="154.78" cy="404.60" r="2.56" fill="#88CE89"/><circle cx="160.43" cy="404.60" r="2.56" fill="#88CE89"/><circle cx="166.09" cy="404.60" r="2.56" fill="#88CE89"/><circle cx="171.74" cy="404.60" r="2.56" fill="#88CE89"/><circle cx="177.39" cy="404.60" r="2.56" fill="#88CE89"/><circle cx="183.05" cy="404.60" r="2.56" fill="#88CE89"/><circle cx="188.70" cy="404.60" r="2.56" fill="#88CE89"/><circle cx="194.36" cy="404.60" r="2.56" fill="#88CE89"/><circle cx="200.01" cy="404.60" r="2.56" fill="#88CE89"/><circle cx="205.66" cy="404.60" r="2.56" fill="#88CE89"/><circle cx="211.32" cy="404.60" r="2.56" fill="#88CE89"/><circle cx="216.97" cy="404.60" r="2.56" fill="#88CE89"/><circle cx="222.63" cy="404.60" r="2.56" fill="#88CE89"/><circle cx="228.28" cy="404.60" r="2.56" fill="#88CE89"/><circle cx="233.93" cy="404.60" r="2.56" fill="#88CE89"/><circle cx="239.59" cy="404.60" r="2.56" fill="#88CE89"/><circle cx="245.24" cy="404.60" r="2.56" fill="#88CE89"/><circle cx="250.90" cy="404.60" r="2.56" fill="#88CE89"/><circle cx="256.55" cy="404.60" r="2.56" fill="#88CE89"/><circle cx="262.20" cy="404.60" r="2.56" fill="#88CE89"/><circle cx="267.86" cy="404.60" r="2.56" fill="#88CE89"/><circle cx="273.51" cy="404.60" r="2.56" fill="#88CE89"/><circle cx="279.17" cy="404.60" r="2.56" fill="#88CE89"/><circle cx="284.82" cy="404.60" r="2.56" fill="#88CE89"/><circle cx="290.47" cy="404.60" r="2.56" fill="#88CE89"/><circle cx="296.13" cy="404.60" r="2.56" fill="#88CE89"/><circle cx="301.78" cy="404.60" r="2.56" fill="#88CE89"/><circle cx="307.44" cy="404.60" r="2.56" fill="#88CE89"/><circle cx="313.09" cy="404.60" r="2.56" fill="#88CE89"/><circle cx="318.74" cy="404.60" r="2.56" fill="#88CE89"/><circle cx="324.40" cy="404.60" r="2.56" fill="#88CE89"/><circle cx="330.05" cy="404.60" r="2.56" fill="#88CE89"/><circle cx="335.71" cy="404.60" r="2.56" fill="#88CE89"/><circle cx="341.36" cy="404.60" r="2.56" fill="#88CE89"/><circle cx="347.01" cy="404.60" r="2.56" fill="#88CE89"/><circle cx="352.67" cy="404.60" r="2.56" fill="#88CE89"/><circle cx="358.32" cy="404.60" r="2.56" fill="#88CE89"/><circle cx="363.98" cy="404.60" r="2.56" fill="#88CE89"/><circle cx="369.63" cy="404.60" r="2.56" fill="#88CE89"/><circle cx="375.28" cy="404.60" r="2.56" fill="#88CE89"/><circle cx="380.94" cy="404.60" r="2.56" fill="#88CE89"/><circle cx="386.59" cy="404.60" r="2.56" fill="#88CE89"/><circle cx="392.25" cy="404.60" r="2.56" fill="#88CE89"/><circle cx="397.90" cy="404.60" r="2.56" fill="#88CE89"/><circle cx="403.55" cy="404.60" r="2.56" fill="#88CE89"/><circle cx="409.21" cy="404.60" r="2.56" fill="#88CE89"/><circle cx="414.86" cy="403.70" r="2.56" fill="#88CE89"/><circle cx="420.52" cy="400.90" r="2.56" fill="#88CE89"/><circle cx="426.17" cy="400.60" r="2.56" fill="#88CE89"/><circle cx="431.82" cy="400.60" r="2.56" fill="#88CE89"/><circle cx="437.48" cy="397.90" r="2.56" fill="#88CE89"/><circle cx="443.13" cy="397.40" r="2.56" fill="#88CE89"/><circle cx="448.79" cy="397.10" r="2.56" fill="#88CE89"/><circle cx="454.44" cy="398.50" r="2.56" fill="#88CE89"/><circle cx="460.09" cy="394.40" r="2.56" fill="#88CE89"/><circle cx="465.75" cy="395.30" r="2.56" fill="#88CE89"/><circle cx="471.40" cy="392.20" r="2.56" fill="#88CE89"/><circle cx="477.06" cy="391.50" r="2.56" fill="#88CE89"/><circle cx="482.71" cy="390.40" r="2.56" fill="#88CE89"/><circle cx="488.36" cy="391.50" r="2.56" fill="#88CE89"/><circle cx="494.02" cy="390.40" r="2.56" fill="#88CE89"/><circle cx="499.67" cy="390.10" r="2.56" fill="#88CE89"/><circle cx="505.33" cy="389.20" r="2.56" fill="#88CE89"/><circle cx="510.98" cy="389.70" r="2.56" fill="#88CE89"/><circle cx="516.63" cy="386.90" r="2.56" fill="#88CE89"/><circle cx="522.29" cy="383.90" r="2.56" fill="#88CE89"/><circle cx="527.94" cy="385.70" r="2.56" fill="#88CE89"/><circle cx="533.60" cy="384.50" r="2.56" fill="#88CE89"/><circle cx="539.25" cy="383.60" r="2.56" fill="#88CE89"/><circle cx="544.90" cy="380.90" r="2.56" fill="#88CE89"/><circle cx="550.56" cy="381.50" r="2.56" fill="#88CE89"/><circle cx="556.21" cy="376.90" r="2.56" fill="#88CE89"/><circle cx="561.87" cy="376.20" r="2.56" fill="#88CE89"/><circle cx="567.52" cy="375.70" r="2.56" fill="#88CE89"/><circle cx="573.17" cy="378.70" r="2.56" fill="#88CE89"/><circle cx="578.83" cy="366.10" r="2.56" fill="#88CE89"/><circle cx="584.48" cy="372.70" r="2.56" fill="#88CE89"/><circle cx="590.14" cy="366.90" r="2.56" fill="#88CE89"/><circle cx="595.79" cy="365.70" r="2.56" fill="#88CE89"/><circle cx="601.44" cy="367.40" r="2.56" fill="#88CE89"/><circle cx="607.10" cy="365.30" r="2.56" fill="#88CE89"/><circle cx="612.75" cy="359.10" r="2.56" fill="#88CE89"/><circle cx="618.41" cy="362.20" r="2.56" fill="#88CE89"/><circle cx="624.06" cy="359.40" r="2.56" fill="#88CE89"/><circle cx="629.71" cy="361.40" r="2.56" fill="#88CE89"/><circle cx="635.37" cy="359.10" r="2.56" fill="#88CE89"/><circle cx="641.02" cy="358.20" r="2.56" fill="#88CE89"/><circle cx="646.68" cy="357.20" r="2.56" fill="#88CE89"/><circle cx="652.33" cy="355.30" r="2.56" fill="#88CE89"/><circle cx="657.98" cy="355.00" r="2.56" fill="#88CE89"/><circle cx="663.64" cy="357.80" r="2.56" fill="#88CE89"/><circle cx="669.29" cy="355.30" r="2.56" fill="#88CE89"/><circle cx="674.95" cy="356.00" r="2.56" fill="#88CE89"/><circle cx="680.60" cy="351.60" r="2.56" fill="#88CE89"/>
<path d="M115.20,404.60M120.85,404.60M126.51,404.60M132.16,404.60M137.82,404.60M143.47,404.60M149.12,404.60M154.78,404.60M160.43,404.60M166.09,404.60M171.74,404.60M177.39,404.60M183.05,404.60M188.70,404.60M194.36,404.60M200.01,404.60M205.66,404.60M211.32,404.60M216.97,404.60M222.63,404.60M228.28,404.60M233.93,404.60M239.59,404.60M245.24,404.60M250.90,404.60M256.55,404.60M262.20,404.60M267.86,404.60M273.51,404.60M279.17,404.60M284.82,404.60M290.47,404.60M296.13,404.60M301.78,404.60L307.44,403.20L313.09,403.20L318.74,402.50L324.40,402.00L330.05,402.00L335.71,401.40L341.36,401.10L347.01,400.20L352.67,397.60L358.32,396.20L363.98,395.50L369.63,395.00L375.28,395.80L380.94,394.40L386.59,393.70L392.25,392.70L397.90,392.70L403.55,391.50L409.21,388.80L414.86,387.30L420.52,388.00L426.17,388.30L431.82,386.20L437.48,388.70L443.13,386.20L448.79,383.90L454.44,383.10L460.09,381.60L465.75,381.30L471.40,379.90L477.06,379.20L482.71,379.20L488.36,378.70L494.02,377.80L499.67,375.70L505.33,372.90L510.98,373.40L516.63,373.40L522.29,370.90L527.94,368.70L533.60,365.70L539.25,361.70L544.90,367.50L550.56,364.00L556.21,360.80L561.87,358.70L567.52,355.20L573.17,360.80L578.83,358.70L584.48,356.40L590.14,352.40L595.79,349.40L601.44,352.50L607.10,353.90L612.75,353.30L618.41,347.30L624.06,349.00L629.71,349.00L635.37,347.10L641.02,349.10L646.68,345.40L652.33,346.70L657.98,349.80L663.64,344.60L669.29,340.80L674.95,342.90L680.60,345.40" fill="none" stroke="#C5B6E0" stroke-width="1.0" stroke-linejoin="round"/>
<path d="M115.20,402.80L117.00,405.95L113.40,405.95Z" fill="#B8A6DA"/><path d="M120.85,402.80L122.65,405.95L119.05,405.95Z" fill="#B8A6DA"/><path d="M126.51,402.80L128.31,405.95L124.71,405.95Z" fill="#B8A6DA"/><path d="M132.16,402.80L133.96,405.95L130.36,405.95Z" fill="#B8A6DA"/><path d="M137.82,402.80L139.62,405.95L136.02,405.95Z" fill="#B8A6DA"/><path d="M143.47,402.80L145.27,405.95L141.67,405.95Z" fill="#B8A6DA"/><path d="M149.12,402.80L150.92,405.95L147.32,405.95Z" fill="#B8A6DA"/><path d="M154.78,402.80L156.58,405.95L152.98,405.95Z" fill="#B8A6DA"/><path d="M160.43,402.80L162.23,405.95L158.63,405.95Z" fill="#B8A6DA"/><path d="M166.09,402.80L167.89,405.95L164.29,405.95Z" fill="#B8A6DA"/><path d="M171.74,402.80L173.54,405.95L169.94,405.95Z" fill="#B8A6DA"/><path d="M177.39,402.80L179.19,405.95L175.59,405.95Z" fill="#B8A6DA"/><path d="M183.05,402.80L184.85,405.95L181.25,405.95Z" fill="#B8A6DA"/><path d="M188.70,402.80L190.50,405.95L186.90,405.95Z" fill="#B8A6DA"/><path d="M194.36,402.80L196.16,405.95L192.56,405.95Z" fill="#B8A6DA"/><path d="M200.01,402.80L201.81,405.95L198.21,405.95Z" fill="#B8A6DA"/><path d="M205.66,402.80L207.46,405.95L203.86,405.95Z" fill="#B8A6DA"/><path d="M211.32,402.80L213.12,405.95L209.52,405.95Z" fill="#B8A6DA"/><path d="M216.97,402.80L218.77,405.95L215.17,405.95Z" fill="#B8A6DA"/><path d="M222.63,402.80L224.43,405.95L220.83,405.95Z" fill="#B8A6DA"/><path d="M228.28,402.80L230.08,405.95L226.48,405.95Z" fill="#B8A6DA"/><path d="M233.93,402.80L235.73,405.95L232.13,405.95Z" fill="#B8A6DA"/><path d="M239.59,402.80L241.39,405.95L237.79,405.95Z" fill="#B8A6DA"/><path d="M245.24,402.80L247.04,405.95L243.44,405.95Z" fill="#B8A6DA"/><path d="M250.90,402.80L252.70,405.95L249.10,405.95Z" fill="#B8A6DA"/><path d="M256.55,402.80L258.35,405.95L254.75,405.95Z" fill="#B8A6DA"/><path d="M262.20,402.80L264.00,405.95L260.40,405.95Z" fill="#B8A6DA"/><path d="M267.86,402.80L269.66,405.95L266.06,405.95Z" fill="#B8A6DA"/><path d="M273.51,402.80L275.31,405.95L271.71,405.95Z" fill="#B8A6DA"/><path d="M279.17,402.80L280.97,405.95L277.37,405.95Z" fill="#B8A6DA"/><path d="M284.82,402.80L286.62,405.95L283.02,405.95Z" fill="#B8A6DA"/><path d="M290.47,402.80L292.27,405.95L288.67,405.95Z" fill="#B8A6DA"/><path d="M296.13,402.80L297.93,405.95L294.33,405.95Z" fill="#B8A6DA"/><path d="M301.78,402.80L303.58,405.95L299.98,405.95Z" fill="#B8A6DA"/><path d="M307.44,401.40L309.24,404.55L305.64,404.55Z" fill="#B8A6DA"/><path d="M313.09,401.40L314.89,404.55L311.29,404.55Z" fill="#B8A6DA"/><path d="M318.74,400.70L320.54,403.85L316.94,403.85Z" fill="#B8A6DA"/><path d="M324.40,400.20L326.20,403.35L322.60,403.35Z" fill="#B8A6DA"/><path d="M330.05,400.20L331.85,403.35L328.25,403.35Z" fill="#B8A6DA"/><path d="M335.71,399.60L337.51,402.75L333.91,402.75Z" fill="#B8A6DA"/><path d="M341.36,399.30L343.16,402.45L339.56,402.45Z" fill="#B8A6DA"/><path d="M347.01,398.40L348.81,401.55L345.21,401.55Z" fill="#B8A6DA"/><path d="M352.67,395.80L354.47,398.95L350.87,398.95Z" fill="#B8A6DA"/><path d="M358.32,394.40L360.12,397.55L356.52,397.55Z" fill="#B8A6DA"/><path d="M363.98,393.70L365.78,396.85L362.18,396.85Z" fill="#B8A6DA"/><path d="M369.63,393.20L371.43,396.35L367.83,396.35Z" fill="#B8A6DA"/><path d="M375.28,394.00L377.08,397.15L373.48,397.15Z" fill="#B8A6DA"/><path d="M380.94,392.60L382.74,395.75L379.14,395.75Z" fill="#B8A6DA"/><path d="M386.59,391.90L388.39,395.05L384.79,395.05Z" fill="#B8A6DA"/><path d="M392.25,390.90L394.05,394.05L390.45,394.05Z" fill="#B8A6DA"/><path d="M397.90,390.90L399.70,394.05L396.10,394.05Z" fill="#B8A6DA"/><path d="M403.55,389.70L405.35,392.85L401.75,392.85Z" fill="#B8A6DA"/><path d="M409.21,387.00L411.01,390.15L407.41,390.15Z" fill="#B8A6DA"/><path d="M414.86,385.50L416.66,388.65L413.06,388.65Z" fill="#B8A6DA"/><path d="M420.52,386.20L422.32,389.35L418.72,389.35Z" fill="#B8A6DA"/><path d="M426.17,386.50L427.97,389.65L424.37,389.65Z" fill="#B8A6DA"/><path d="M431.82,384.40L433.62,387.55L430.02,387.55Z" fill="#B8A6DA"/><path d="M437.48,386.90L439.28,390.05L435.68,390.05Z" fill="#B8A6DA"/><path d="M443.13,384.40L444.93,387.55L441.33,387.55Z" fill="#B8A6DA"/><path d="M448.79,382.10L450.59,385.25L446.99,385.25Z" fill="#B8A6DA"/><path d="M454.44,381.30L456.24,384.45L452.64,384.45Z" fill="#B8A6DA"/><path d="M460.09,379.80L461.89,382.95L458.29,382.95Z" fill="#B8A6DA"/><path d="M465.75,379.50L467.55,382.65L463.95,382.65Z" fill="#B8A6DA"/><path d="M471.40,378.10L473.20,381.25L469.60,381.25Z" fill="#B8A6DA"/><path d="M477.06,377.40L478.86,380.55L475.26,380.55Z" fill="#B8A6DA"/><path d="M482.71,377.40L484.51,380.55L480.91,380.55Z" fill="#B8A6DA"/><path d="M488.36,376.90L490.16,380.05L486.56,380.05Z" fill="#B8A6DA"/><path d="M494.02,376.00L495.82,379.15L492.22,379.15Z" fill="#B8A6DA"/><path d="M499.67,373.90L501.47,377.05L497.87,377.05Z" fill="#B8A6DA"/><path d="M505.33,371.10L507.13,374.25L503.53,374.25Z" fill="#B8A6DA"/><path d="M510.98,371.60L512.78,374.75L509.18,374.75Z" fill="#B8A6DA"/><path d="M516.63,371.60L518.43,374.75L514.83,374.75Z" fill="#B8A6DA"/><path d="M522.29,369.10L524.09,372.25L520.49,372.25Z" fill="#B8A6DA"/><path d="M527.94,366.90L529.74,370.05L526.14,370.05Z" fill="#B8A6DA"/><path d="M533.60,363.90L535.40,367.05L531.80,367.05Z" fill="#B8A6DA"/><path d="M539.25,359.90L541.05,363.05L537.45,363.05Z" fill="#B8A6DA"/><path d="M544.90,365.70L546.70,368.85L543.10,368.85Z" fill="#B8A6DA"/><path d="M550.56,362.20L552.36,365.35L548.76,365.35Z" fill="#B8A6DA"/><path d="M556.21,359.00L558.01,362.15L554.41,362.15Z" fill="#B8A6DA"/><path d="M561.87,356.90L563.67,360.05L560.07,360.05Z" fill="#B8A6DA"/><path d="M567.52,353.40L569.32,356.55L565.72,356.55Z" fill="#B8A6DA"/><path d="M573.17,359.00L574.97,362.15L571.37,362.15Z" fill="#B8A6DA"/><path d="M578.83,356.90L580.63,360.05L577.03,360.05Z" fill="#B8A6DA"/><path d="M584.48,354.60L586.28,357.75L582.68,357.75Z" fill="#B8A6DA"/><path d="M590.14,350.60L591.94,353.75L588.34,353.75Z" fill="#B8A6DA"/><path d="M595.79,347.60L597.59,350.75L593.99,350.75Z" fill="#B8A6DA"/><path d="M601.44,350.70L603.24,353.85L599.64,353.85Z" fill="#B8A6DA"/><path d="M607.10,352.10L608.90,355.25L605.30,355.25Z" fill="#B8A6DA"/><path d="M612.75,351.50L614.55,354.65L610.95,354.65Z" fill="#B8A6DA"/><path d="M618.41,345.50L620.21,348.65L616.61,348.65Z" fill="#B8A6DA"/><path d="M624.06,347.20L625.86,350.35L622.26,350.35Z" fill="#B8A6DA"/><path d="M629.71,347.20L631.51,350.35L627.91,350.35Z" fill="#B8A6DA"/><path d="M635.37,345.30L637.17,348.45L633.57,348.45Z" fill="#B8A6DA"/><path d="M641.02,347.30L642.82,350.45L639.22,350.45Z" fill="#B8A6DA"/><path d="M646.68,343.60L648.48,346.75L644.88,346.75Z" fill="#B8A6DA"/><path d="M652.33,344.90L654.13,348.05L650.53,348.05Z" fill="#B8A6DA"/><path d="M657.98,348.00L659.78,351.15L656.18,351.15Z" fill="#B8A6DA"/><path d="M663.64,342.80L665.44,345.95L661.84,345.95Z" fill="#B8A6DA"/><path d="M669.29,339.00L671.09,342.15L667.49,342.15Z" fill="#B8A6DA"/><path d="M674.95,341.10L676.75,344.25L673.15,344.25Z" fill="#B8A6DA"/><path d="M680.60,343.60L682.40,346.75L678.80,346.75Z" fill="#B8A6DA"/>
<path d="M115.20,404.60M120.85,404.60M126.51,404.60M132.16,404.60M137.82,404.60M143.47,404.60M149.12,404.60M154.78,404.60M160.43,404.60M166.09,404.60M171.74,404.60M177.39,404.60M183.05,404.60M188.70,404.60M194.36,404.60M200.01,404.60M205.66,404.60M211.32,404.60M216.97,404.60M222.63,404.60M228.28,404.60M233.93,404.60M239.59,404.60M245.24,404.60M250.90,404.60M256.55,404.60M262.20,404.60M267.86,404.60M273.51,404.60M279.17,404.60M284.82,404.60M290.47,404.60M296.13,404.60M301.78,404.60M307.44,404.60M313.09,404.60M318.74,404.60M324.40,404.60M330.05,404.60M335.71,404.60M341.36,404.60M347.01,404.60M352.67,404.60M358.32,404.60M363.98,404.60M369.63,404.60M375.28,404.60M380.94,404.60M386.59,404.60L392.25,402.00L397.90,401.10L403.55,401.40L409.21,401.40L414.86,400.80L420.52,400.80L426.17,401.40L431.82,400.90L437.48,400.90L443.13,400.20L448.79,399.70L454.44,398.80L460.09,396.20L465.75,397.10L471.40,397.10L477.06,395.00L482.71,391.80L488.36,390.90L494.02,390.10L499.67,389.70L505.33,383.40L510.98,387.40L516.63,387.40L522.29,383.60L527.94,376.90L533.60,378.30L539.25,376.20L544.90,378.00L550.56,378.70L556.21,379.20L561.87,372.70L567.52,371.70L573.17,366.40L578.83,373.10L584.48,361.20L590.14,369.60L595.79,366.40L601.44,368.10L607.10,365.90L612.75,368.30L618.41,364.40L624.06,363.80L629.71,366.90L635.37,364.80L641.02,355.00L646.68,356.00L652.33,347.50L657.98,350.40L663.64,349.80L669.29,344.20L674.95,349.80L680.60,347.00" fill="none" stroke="#8FB3F3" stroke-width="1.0" stroke-linejoin="round"/>
<path d="M115.20,406.40L117.00,403.25L113.40,403.25Z" fill="#84ABF2"/><path d="M120.85,406.40L122.65,403.25L119.05,403.25Z" fill="#84ABF2"/><path d="M126.51,406.40L128.31,403.25L124.71,403.25Z" fill="#84ABF2"/><path d="M132.16,406.40L133.96,403.25L130.36,403.25Z" fill="#84ABF2"/><path d="M137.82,406.40L139.62,403.25L136.02,403.25Z" fill="#84ABF2"/><path d="M143.47,406.40L145.27,403.25L141.67,403.25Z" fill="#84ABF2"/><path d="M149.12,406.40L150.92,403.25L147.32,403.25Z" fill="#84ABF2"/><path d="M154.78,406.40L156.58,403.25L152.98,403.25Z" fill="#84ABF2"/><path d="M160.43,406.40L162.23,403.25L158.63,403.25Z" fill="#84ABF2"/><path d="M166.09,406.40L167.89,403.25L164.29,403.25Z" fill="#84ABF2"/><path d="M171.74,406.40L173.54,403.25L169.94,403.25Z" fill="#84ABF2"/><path d="M177.39,406.40L179.19,403.25L175.59,403.25Z" fill="#84ABF2"/><path d="M183.05,406.40L184.85,403.25L181.25,403.25Z" fill="#84ABF2"/><path d="M188.70,406.40L190.50,403.25L186.90,403.25Z" fill="#84ABF2"/><path d="M194.36,406.40L196.16,403.25L192.56,403.25Z" fill="#84ABF2"/><path d="M200.01,406.40L201.81,403.25L198.21,403.25Z" fill="#84ABF2"/><path d="M205.66,406.40L207.46,403.25L203.86,403.25Z" fill="#84ABF2"/><path d="M211.32,406.40L213.12,403.25L209.52,403.25Z" fill="#84ABF2"/><path d="M216.97,406.40L218.77,403.25L215.17,403.25Z" fill="#84ABF2"/><path d="M222.63,406.40L224.43,403.25L220.83,403.25Z" fill="#84ABF2"/><path d="M228.28,406.40L230.08,403.25L226.48,403.25Z" fill="#84ABF2"/><path d="M233.93,406.40L235.73,403.25L232.13,403.25Z" fill="#84ABF2"/><path d="M239.59,406.40L241.39,403.25L237.79,403.25Z" fill="#84ABF2"/><path d="M245.24,406.40L247.04,403.25L243.44,403.25Z" fill="#84ABF2"/><path d="M250.90,406.40L252.70,403.25L249.10,403.25Z" fill="#84ABF2"/><path d="M256.55,406.40L258.35,403.25L254.75,403.25Z" fill="#84ABF2"/><path d="M262.20,406.40L264.00,403.25L260.40,403.25Z" fill="#84ABF2"/><path d="M267.86,406.40L269.66,403.25L266.06,403.25Z" fill="#84ABF2"/><path d="M273.51,406.40L275.31,403.25L271.71,403.25Z" fill="#84ABF2"/><path d="M279.17,406.40L280.97,403.25L277.37,403.25Z" fill="#84ABF2"/><path d="M284.82,406.40L286.62,403.25L283.02,403.25Z" fill="#84ABF2"/><path d="M290.47,406.40L292.27,403.25L288.67,403.25Z" fill="#84ABF2"/><path d="M296.13,406.40L297.93,403.25L294.33,403.25Z" fill="#84ABF2"/><path d="M301.78,406.40L303.58,403.25L299.98,403.25Z" fill="#84ABF2"/><path d="M307.44,406.40L309.24,403.25L305.64,403.25Z" fill="#84ABF2"/><path d="M313.09,406.40L314.89,403.25L311.29,403.25Z" fill="#84ABF2"/><path d="M318.74,406.40L320.54,403.25L316.94,403.25Z" fill="#84ABF2"/><path d="M324.40,406.40L326.20,403.25L322.60,403.25Z" fill="#84ABF2"/><path d="M330.05,406.40L331.85,403.25L328.25,403.25Z" fill="#84ABF2"/><path d="M335.71,406.40L337.51,403.25L333.91,403.25Z" fill="#84ABF2"/><path d="M341.36,406.40L343.16,403.25L339.56,403.25Z" fill="#84ABF2"/><path d="M347.01,406.40L348.81,403.25L345.21,403.25Z" fill="#84ABF2"/><path d="M352.67,406.40L354.47,403.25L350.87,403.25Z" fill="#84ABF2"/><path d="M358.32,406.40L360.12,403.25L356.52,403.25Z" fill="#84ABF2"/><path d="M363.98,406.40L365.78,403.25L362.18,403.25Z" fill="#84ABF2"/><path d="M369.63,406.40L371.43,403.25L367.83,403.25Z" fill="#84ABF2"/><path d="M375.28,406.40L377.08,403.25L373.48,403.25Z" fill="#84ABF2"/><path d="M380.94,406.40L382.74,403.25L379.14,403.25Z" fill="#84ABF2"/><path d="M386.59,406.40L388.39,403.25L384.79,403.25Z" fill="#84ABF2"/><path d="M392.25,403.80L394.05,400.65L390.45,400.65Z" fill="#84ABF2"/><path d="M397.90,402.90L399.70,399.75L396.10,399.75Z" fill="#84ABF2"/><path d="M403.55,403.20L405.35,400.05L401.75,400.05Z" fill="#84ABF2"/><path d="M409.21,403.20L411.01,400.05L407.41,400.05Z" fill="#84ABF2"/><path d="M414.86,402.60L416.66,399.45L413.06,399.45Z" fill="#84ABF2"/><path d="M420.52,402.60L422.32,399.45L418.72,399.45Z" fill="#84ABF2"/><path d="M426.17,403.20L427.97,400.05L424.37,400.05Z" fill="#84ABF2"/><path d="M431.82,402.70L433.62,399.55L430.02,399.55Z" fill="#84ABF2"/><path d="M437.48,402.70L439.28,399.55L435.68,399.55Z" fill="#84ABF2"/><path d="M443.13,402.00L444.93,398.85L441.33,398.85Z" fill="#84ABF2"/><path d="M448.79,401.50L450.59,398.35L446.99,398.35Z" fill="#84ABF2"/><path d="M454.44,400.60L456.24,397.45L452.64,397.45Z" fill="#84ABF2"/><path d="M460.09,398.00L461.89,394.85L458.29,394.85Z" fill="#84ABF2"/><path d="M465.75,398.90L467.55,395.75L463.95,395.75Z" fill="#84ABF2"/><path d="M471.40,398.90L473.20,395.75L469.60,395.75Z" fill="#84ABF2"/><path d="M477.06,396.80L478.86,393.65L475.26,393.65Z" fill="#84ABF2"/><path d="M482.71,393.60L484.51,390.45L480.91,390.45Z" fill="#84ABF2"/><path d="M488.36,392.70L490.16,389.55L486.56,389.55Z" fill="#84ABF2"/><path d="M494.02,391.90L495.82,388.75L492.22,388.75Z" fill="#84ABF2"/><path d="M499.67,391.50L501.47,388.35L497.87,388.35Z" fill="#84ABF2"/><path d="M505.33,385.20L507.13,382.05L503.53,382.05Z" fill="#84ABF2"/><path d="M510.98,389.20L512.78,386.05L509.18,386.05Z" fill="#84ABF2"/><path d="M516.63,389.20L518.43,386.05L514.83,386.05Z" fill="#84ABF2"/><path d="M522.29,385.40L524.09,382.25L520.49,382.25Z" fill="#84ABF2"/><path d="M527.94,378.70L529.74,375.55L526.14,375.55Z" fill="#84ABF2"/><path d="M533.60,380.10L535.40,376.95L531.80,376.95Z" fill="#84ABF2"/><path d="M539.25,378.00L541.05,374.85L537.45,374.85Z" fill="#84ABF2"/><path d="M544.90,379.80L546.70,376.65L543.10,376.65Z" fill="#84ABF2"/><path d="M550.56,380.50L552.36,377.35L548.76,377.35Z" fill="#84ABF2"/><path d="M556.21,381.00L558.01,377.85L554.41,377.85Z" fill="#84ABF2"/><path d="M561.87,374.50L563.67,371.35L560.07,371.35Z" fill="#84ABF2"/><path d="M567.52,373.50L569.32,370.35L565.72,370.35Z" fill="#84ABF2"/><path d="M573.17,368.20L574.97,365.05L571.37,365.05Z" fill="#84ABF2"/><path d="M578.83,374.90L580.63,371.75L577.03,371.75Z" fill="#84ABF2"/><path d="M584.48,363.00L586.28,359.85L582.68,359.85Z" fill="#84ABF2"/><path d="M590.14,371.40L591.94,368.25L588.34,368.25Z" fill="#84ABF2"/><path d="M595.79,368.20L597.59,365.05L593.99,365.05Z" fill="#84ABF2"/><path d="M601.44,369.90L603.24,366.75L599.64,366.75Z" fill="#84ABF2"/><path d="M607.10,367.70L608.90,364.55L605.30,364.55Z" fill="#84ABF2"/><path d="M612.75,370.10L614.55,366.95L610.95,366.95Z" fill="#84ABF2"/><path d="M618.41,366.20L620.21,363.05L616.61,363.05Z" fill="#84ABF2"/><path d="M624.06,365.60L625.86,362.45L622.26,362.45Z" fill="#84ABF2"/><path d="M629.71,368.70L631.51,365.55L627.91,365.55Z" fill="#84ABF2"/><path d="M635.37,366.60L637.17,363.45L633.57,363.45Z" fill="#84ABF2"/><path d="M641.02,356.80L642.82,353.65L639.22,353.65Z" fill="#84ABF2"/><path d="M646.68,357.80L648.48,354.65L644.88,354.65Z" fill="#84ABF2"/><path d="M652.33,349.30L654.13,346.15L650.53,346.15Z" fill="#84ABF2"/><path d="M657.98,352.20L659.78,349.05L656.18,349.05Z" fill="#84ABF2"/><path d="M663.64,351.60L665.44,348.45L661.84,348.45Z" fill="#84ABF2"/><path d="M669.29,346.00L671.09,342.85L667.49,342.85Z" fill="#84ABF2"/><path d="M674.95,351.60L676.75,348.45L673.15,348.45Z" fill="#84ABF2"/><path d="M680.60,348.80L682.40,345.65L678.80,345.65Z" fill="#84ABF2"/>
</g>
<text x="106.5" y="17.07" text-anchor="end" font-family="'Liberation Sans', sans-serif" font-size="16.4">1.5x10<tspan dy="-6.9" font-size="10">-3</tspan></text>
<text x="106.5" y="50.57" text-anchor="end" font-family="'Liberation Sans', sans-serif" font-size="16.4">1.0x10<tspan dy="-6.9" font-size="10">-3</tspan></text>
<text x="106.5" y="83.27" text-anchor="end" font-family="'Liberation Sans', sans-serif" font-size="16.4">5.0x10<tspan dy="-6.9" font-size="10">-4</tspan></text>
<text x="106.5" y="114.57" text-anchor="end" font-family="'Liberation Sans', sans-serif" font-size="16.4">0.0</text>
<text x="106.5" y="143.47" text-anchor="end" font-family="'Liberation Sans', sans-serif" font-size="16.4">1.0x10<tspan dy="-6.9" font-size="10">-4</tspan></text>
<text x="106.5" y="178.27" text-anchor="end" font-family="'Liberation Sans', sans-serif" font-size="16.4">5.0x10<tspan dy="-6.9" font-size="10">-5</tspan></text>
<text x="106.5" y="213.27" text-anchor="end" font-family="'Liberation Sans', sans-serif" font-size="16.4">0.0</text>
<text x="106.5" y="245.27" text-anchor="end" font-family="'Liberation Sans', sans-serif" font-size="16.4">1.0x10<tspan dy="-6.9" font-size="10">-4</tspan></text>
<text x="106.5" y="278.27" text-anchor="end" font-family="'Liberation Sans', sans-serif" font-size="16.4">5.0x10<tspan dy="-6.9" font-size="10">-5</tspan></text>
<text x="106.5" y="311.37" text-anchor="end" font-family="'Liberation Sans', sans-serif" font-size="16.4">0.0</text>
<text x="106.5" y="328.87" text-anchor="end" font-family="'Liberation Sans', sans-serif" font-size="16.4">2.0x10<tspan dy="-6.9" font-size="10">-4</tspan></text>
<text x="106.5" y="349.07" text-anchor="end" font-family="'Liberation Sans', sans-serif" font-size="16.4">1.5x10<tspan dy="-6.9" font-size="10">-4</tspan></text>
<text x="106.5" y="369.27" text-anchor="end" font-family="'Liberation Sans', sans-serif" font-size="16.4">1.0x10<tspan dy="-6.9" font-size="10">-4</tspan></text>
<text x="106.5" y="389.87" text-anchor="end" font-family="'Liberation Sans', sans-serif" font-size="16.4">5.0x10<tspan dy="-6.9" font-size="10">-5</tspan></text>
<text x="106.5" y="410.27" text-anchor="end" font-family="'Liberation Sans', sans-serif" font-size="16.4">0.0</text>
<text x="680.90" y="25.4" text-anchor="end" font-family="'Liberation Serif', serif" font-size="16.6">1F staircase3</text>
<text x="680.90" y="125.6" text-anchor="end" font-family="'Liberation Serif', serif" font-size="16.6">2F staircase3</text>
<text x="680.90" y="222.4" text-anchor="end" font-family="'Liberation Serif', serif" font-size="16.6">3F staircase3</text>
<text x="680.90" y="321.4" text-anchor="end" font-family="'Liberation Serif', serif" font-size="16.6">4F staircase3</text>
<line x1="122.7" y1="21.80" x2="160.90" y2="21.80" stroke="#F9C796" stroke-width="1.6" stroke-opacity="0.7"/>
<rect x="140.35" y="20.45" width="2.70" height="2.70" fill="#F8BC82"/>
<text x="164.00" y="28.30" font-family="'Liberation Serif', serif" font-size="16.7">The case 1</text>
<line x1="122.7" y1="42.40" x2="160.90" y2="42.40" stroke="#92D392" stroke-width="1.6" stroke-opacity="0.7"/>
<circle cx="141.70" cy="42.40" r="1.55" fill="#88CE89"/>
<text x="164.00" y="48.90" font-family="'Liberation Serif', serif" font-size="16.7">The case 2</text>
<line x1="122.7" y1="63.00" x2="160.90" y2="63.00" stroke="#C5B6E0" stroke-width="1.6" stroke-opacity="0.7"/>
<path d="M141.70,61.20L143.50,64.35L139.90,64.35Z" fill="#B8A6DA"/>
<text x="164.00" y="69.50" font-family="'Liberation Serif', serif" font-size="16.7">The case 3</text>
<line x1="122.7" y1="83.60" x2="160.90" y2="83.60" stroke="#8FB3F3" stroke-width="1.6" stroke-opacity="0.7"/>
<path d="M141.70,85.40L143.50,82.25L139.90,82.25Z" fill="#84ABF2"/>
<text x="164.00" y="90.10" font-family="'Liberation Serif', serif" font-size="16.7">The case 4</text>
<text x="397.0" y="438.0" text-anchor="middle" font-family="'Liberation Serif', serif" font-size="24.6">Time(s)</text>
<text x="398.5" y="468.0" text-anchor="middle" font-family="'Liberation Serif', serif" font-size="25.5">(a)</text>
<text transform="translate(24.5,184.0) rotate(-90)" text-anchor="middle" font-family="'Liberation Serif', serif" font-size="24.5">CO Concentration(kg/m<tspan dy="-9.6" font-size="16.2">-3</tspan><tspan dy="9.6">)</tspan></text>
<rect x="117.1" y="516.0" width="561.00" height="391.00" fill="none" stroke="#000" stroke-width="1.4"/>
<line x1="117.1" y1="613.6" x2="678.1" y2="613.6" stroke="#000" stroke-width="1.4"/>
<line x1="117.1" y1="711.4" x2="678.1" y2="711.4" stroke="#000" stroke-width="1.4"/>
<line x1="117.1" y1="809.2" x2="678.1" y2="809.2" stroke="#000" stroke-width="1.4"/>
<g clip-path="url(#clipB)">
<path d="M116.80,613.60M122.41,613.60M128.03,613.60M133.64,613.60M139.26,613.60M144.87,613.60M150.48,613.60M156.10,613.60M161.71,613.60M167.33,613.60M172.94,613.60M178.55,613.60M184.17,613.60M189.78,613.60M195.40,613.60M201.01,613.60M206.62,613.60M212.24,613.60M217.85,613.60M223.47,613.60M229.08,613.60M234.69,613.60M240.31,613.60M245.92,613.60M251.54,613.60M257.15,613.60M262.76,613.60M268.38,613.60M273.99,613.60M279.61,613.60M285.22,613.60M290.83,613.60M296.45,613.60M302.06,613.60M307.68,613.60M313.29,613.60M318.90,613.60M324.52,613.60M330.13,613.60M335.75,613.60M341.36,613.60M346.97,613.60M352.59,613.60M358.20,613.60M363.82,613.60M369.43,613.60M375.04,613.60M380.66,613.60M386.27,613.60M391.89,613.60L397.50,613.10L403.11,612.80L408.73,612.60L414.34,612.40L419.96,612.10L425.57,611.60L431.18,611.10L436.80,609.60L442.41,607.60L448.03,608.60L453.64,604.60L459.25,606.10L464.87,605.40L470.48,604.30L476.10,607.10L481.71,604.80L487.32,606.10L492.94,603.60L498.55,602.60L504.17,602.20L509.78,604.30L515.39,603.10L521.01,600.50L526.62,600.50L532.24,598.40L537.85,597.80L543.46,600.50L549.08,600.80L554.69,597.80L560.31,597.80L565.92,602.40L571.53,597.50L577.15,598.20L582.76,598.20L588.38,594.70L593.99,596.40L599.60,591.70L605.22,594.00L610.83,585.90L616.45,591.20L622.06,592.60L627.67,594.00L633.29,592.60L638.90,592.20L644.52,590.80L650.13,589.90L655.74,587.00L661.36,588.20L666.97,592.90L672.59,590.80L678.20,586.40" fill="none" stroke="#F9C796" stroke-width="1.0" stroke-linejoin="round"/>
<rect x="115.45" y="612.25" width="2.70" height="2.70" fill="#F8BC82"/><rect x="121.06" y="612.25" width="2.70" height="2.70" fill="#F8BC82"/><rect x="126.68" y="612.25" width="2.70" height="2.70" fill="#F8BC82"/><rect x="132.29" y="612.25" width="2.70" height="2.70" fill="#F8BC82"/><rect x="137.91" y="612.25" width="2.70" height="2.70" fill="#F8BC82"/><rect x="143.52" y="612.25" width="2.70" height="2.70" fill="#F8BC82"/><rect x="149.13" y="612.25" width="2.70" height="2.70" fill="#F8BC82"/><rect x="154.75" y="612.25" width="2.70" height="2.70" fill="#F8BC82"/><rect x="160.36" y="612.25" width="2.70" height="2.70" fill="#F8BC82"/><rect x="165.98" y="612.25" width="2.70" height="2.70" fill="#F8BC82"/><rect x="171.59" y="612.25" width="2.70" height="2.70" fill="#F8BC82"/><rect x="177.20" y="612.25" width="2.70" height="2.70" fill="#F8BC82"/><rect x="182.82" y="612.25" width="2.70" height="2.70" fill="#F8BC82"/><rect x="188.43" y="612.25" width="2.70" height="2.70" fill="#F8BC82"/><rect x="194.05" y="612.25" width="2.70" height="2.70" fill="#F8BC82"/><rect x="199.66" y="612.25" width="2.70" height="2.70" fill="#F8BC82"/><rect x="205.27" y="612.25" width="2.70" height="2.70" fill="#F8BC82"/><rect x="210.89" y="612.25" width="2.70" height="2.70" fill="#F8BC82"/><rect x="216.50" y="612.25" width="2.70" height="2.70" fill="#F8BC82"/><rect x="222.12" y="612.25" width="2.70" height="2.70" fill="#F8BC82"/><rect x="227.73" y="612.25" width="2.70" height="2.70" fill="#F8BC82"/><rect x="233.34" y="612.25" width="2.70" height="2.70" fill="#F8BC82"/><rect x="238.96" y="612.25" width="2.70" height="2.70" fill="#F8BC82"/><rect x="244.57" y="612.25" width="2.70" height="2.70" fill="#F8BC82"/><rect x="250.19" y="612.25" width="2.70" height="2.70" fill="#F8BC82"/><rect x="255.80" y="612.25" width="2.70" height="2.70" fill="#F8BC82"/><rect x="261.41" y="612.25" width="2.70" height="2.70" fill="#F8BC82"/><rect x="267.03" y="612.25" width="2.70" height="2.70" fill="#F8BC82"/><rect x="272.64" y="612.25" width="2.70" height="2.70" fill="#F8BC82"/><rect x="278.26" y="612.25" width="2.70" height="2.70" fill="#F8BC82"/><rect x="283.87" y="612.25" width="2.70" height="2.70" fill="#F8BC82"/><rect x="289.48" y="612.25" width="2.70" height="2.70" fill="#F8BC82"/><rect x="295.10" y="612.25" width="2.70" height="2.70" fill="#F8BC82"/><rect x="300.71" y="612.25" width="2.70" height="2.70" fill="#F8BC82"/><rect x="306.33" y="612.25" width="2.70" height="2.70" fill="#F8BC82"/><rect x="311.94" y="612.25" width="2.70" height="2.70" fill="#F8BC82"/><rect x="317.55" y="612.25" width="2.70" height="2.70" fill="#F8BC82"/><rect x="323.17" y="612.25" width="2.70" height="2.70" fill="#F8BC82"/><rect x="328.78" y="612.25" width="2.70" height="2.70" fill="#F8BC82"/><rect x="334.40" y="612.25" width="2.70" height="2.70" fill="#F8BC82"/><rect x="340.01" y="612.25" width="2.70" height="2.70" fill="#F8BC82"/><rect x="345.62" y="612.25" width="2.70" height="2.70" fill="#F8BC82"/><rect x="351.24" y="612.25" width="2.70" height="2.70" fill="#F8BC82"/><rect x="356.85" y="612.25" width="2.70" height="2.70" fill="#F8BC82"/><rect x="362.47" y="612.25" width="2.70" height="2.70" fill="#F8BC82"/><rect x="368.08" y="612.25" width="2.70" height="2.70" fill="#F8BC82"/><rect x="373.69" y="612.25" width="2.70" height="2.70" fill="#F8BC82"/><rect x="379.31" y="612.25" width="2.70" height="2.70" fill="#F8BC82"/><rect x="384.92" y="612.25" width="2.70" height="2.70" fill="#F8BC82"/><rect x="390.54" y="612.25" width="2.70" height="2.70" fill="#F8BC82"/><rect x="396.15" y="611.75" width="2.70" height="2.70" fill="#F8BC82"/><rect x="401.76" y="611.45" width="2.70" height="2.70" fill="#F8BC82"/><rect x="407.38" y="611.25" width="2.70" height="2.70" fill="#F8BC82"/><rect x="412.99" y="611.05" width="2.70" height="2.70" fill="#F8BC82"/><rect x="418.61" y="610.75" width="2.70" height="2.70" fill="#F8BC82"/><rect x="424.22" y="610.25" width="2.70" height="2.70" fill="#F8BC82"/><rect x="429.83" y="609.75" width="2.70" height="2.70" fill="#F8BC82"/><rect x="435.45" y="608.25" width="2.70" height="2.70" fill="#F8BC82"/><rect x="441.06" y="606.25" width="2.70" height="2.70" fill="#F8BC82"/><rect x="446.68" y="607.25" width="2.70" height="2.70" fill="#F8BC82"/><rect x="452.29" y="603.25" width="2.70" height="2.70" fill="#F8BC82"/><rect x="457.90" y="604.75" width="2.70" height="2.70" fill="#F8BC82"/><rect x="463.52" y="604.05" width="2.70" height="2.70" fill="#F8BC82"/><rect x="469.13" y="602.95" width="2.70" height="2.70" fill="#F8BC82"/><rect x="474.75" y="605.75" width="2.70" height="2.70" fill="#F8BC82"/><rect x="480.36" y="603.45" width="2.70" height="2.70" fill="#F8BC82"/><rect x="485.97" y="604.75" width="2.70" height="2.70" fill="#F8BC82"/><rect x="491.59" y="602.25" width="2.70" height="2.70" fill="#F8BC82"/><rect x="497.20" y="601.25" width="2.70" height="2.70" fill="#F8BC82"/><rect x="502.82" y="600.85" width="2.70" height="2.70" fill="#F8BC82"/><rect x="508.43" y="602.95" width="2.70" height="2.70" fill="#F8BC82"/><rect x="514.04" y="601.75" width="2.70" height="2.70" fill="#F8BC82"/><rect x="519.66" y="599.15" width="2.70" height="2.70" fill="#F8BC82"/><rect x="525.27" y="599.15" width="2.70" height="2.70" fill="#F8BC82"/><rect x="530.89" y="597.05" width="2.70" height="2.70" fill="#F8BC82"/><rect x="536.50" y="596.45" width="2.70" height="2.70" fill="#F8BC82"/><rect x="542.11" y="599.15" width="2.70" height="2.70" fill="#F8BC82"/><rect x="547.73" y="599.45" width="2.70" height="2.70" fill="#F8BC82"/><rect x="553.34" y="596.45" width="2.70" height="2.70" fill="#F8BC82"/><rect x="558.96" y="596.45" width="2.70" height="2.70" fill="#F8BC82"/><rect x="564.57" y="601.05" width="2.70" height="2.70" fill="#F8BC82"/><rect x="570.18" y="596.15" width="2.70" height="2.70" fill="#F8BC82"/><rect x="575.80" y="596.85" width="2.70" height="2.70" fill="#F8BC82"/><rect x="581.41" y="596.85" width="2.70" height="2.70" fill="#F8BC82"/><rect x="587.03" y="593.35" width="2.70" height="2.70" fill="#F8BC82"/><rect x="592.64" y="595.05" width="2.70" height="2.70" fill="#F8BC82"/><rect x="598.25" y="590.35" width="2.70" height="2.70" fill="#F8BC82"/><rect x="603.87" y="592.65" width="2.70" height="2.70" fill="#F8BC82"/><rect x="609.48" y="584.55" width="2.70" height="2.70" fill="#F8BC82"/><rect x="615.10" y="589.85" width="2.70" height="2.70" fill="#F8BC82"/><rect x="620.71" y="591.25" width="2.70" height="2.70" fill="#F8BC82"/><rect x="626.32" y="592.65" width="2.70" height="2.70" fill="#F8BC82"/><rect x="631.94" y="591.25" width="2.70" height="2.70" fill="#F8BC82"/><rect x="637.55" y="590.85" width="2.70" height="2.70" fill="#F8BC82"/><rect x="643.17" y="589.45" width="2.70" height="2.70" fill="#F8BC82"/><rect x="648.78" y="588.55" width="2.70" height="2.70" fill="#F8BC82"/><rect x="654.39" y="585.65" width="2.70" height="2.70" fill="#F8BC82"/><rect x="660.01" y="586.85" width="2.70" height="2.70" fill="#F8BC82"/><rect x="665.62" y="591.55" width="2.70" height="2.70" fill="#F8BC82"/><rect x="671.24" y="589.45" width="2.70" height="2.70" fill="#F8BC82"/><rect x="676.85" y="585.05" width="2.70" height="2.70" fill="#F8BC82"/>
<path d="M116.80,613.60M122.41,613.60M128.03,613.60M133.64,613.60M139.26,613.60M144.87,613.60M150.48,613.60M156.10,613.60M161.71,613.60M167.33,613.60M172.94,613.60M178.55,613.60M184.17,613.60M189.78,613.60M195.40,613.60M201.01,613.60M206.62,613.60M212.24,613.60M217.85,613.60M223.47,613.60M229.08,613.60M234.69,613.60M240.31,613.60M245.92,613.60M251.54,613.60M257.15,613.60M262.76,613.60L268.38,611.80L273.99,611.30L279.61,611.00L285.22,611.30L290.83,611.30L296.45,612.40L302.06,612.40L307.68,612.40L313.29,612.40L318.90,612.40L324.52,612.70L330.13,612.40L335.75,611.30L341.36,610.10L346.97,610.40L352.59,610.60L358.20,608.30L363.82,608.30L369.43,607.10L375.04,607.60L380.66,608.30L386.27,608.00L391.89,607.60L397.50,605.90L403.11,603.10L408.73,604.50L414.34,601.30L419.96,604.80L425.57,597.80L431.18,599.60L436.80,602.40L442.41,602.40L448.03,599.60L453.64,598.60L459.25,595.10L464.87,595.60L470.48,594.30L476.10,591.70L481.71,597.00L487.32,590.30L492.94,590.80L498.55,590.30L504.17,577.30L509.78,588.50L515.39,587.30L521.01,581.20L526.62,583.80L532.24,591.40L537.85,586.40L543.46,584.70L549.08,573.30L554.69,579.40L560.31,577.70L565.92,565.20L571.53,585.60L577.15,578.60L582.76,568.10L588.38,575.10L593.99,560.70L599.60,570.20L605.22,571.90L610.83,570.70L616.45,565.40L622.06,557.90L627.67,561.90L633.29,565.40L638.90,568.40L644.52,581.70L650.13,563.70L655.74,558.40L661.36,557.90L666.97,556.10L672.59,564.50L678.20,570.20" fill="none" stroke="#92D392" stroke-width="1.0" stroke-linejoin="round"/>
<circle cx="116.80" cy="613.60" r="1.55" fill="#88CE89"/><circle cx="122.41" cy="613.60" r="1.55" fill="#88CE89"/><circle cx="128.03" cy="613.60" r="1.55" fill="#88CE89"/><circle cx="133.64" cy="613.60" r="1.55" fill="#88CE89"/><circle cx="139.26" cy="613.60" r="1.55" fill="#88CE89"/><circle cx="144.87" cy="613.60" r="1.55" fill="#88CE89"/><circle cx="150.48" cy="613.60" r="1.55" fill="#88CE89"/><circle cx="156.10" cy="613.60" r="1.55" fill="#88CE89"/><circle cx="161.71" cy="613.60" r="1.55" fill="#88CE89"/><circle cx="167.33" cy="613.60" r="1.55" fill="#88CE89"/><circle cx="172.94" cy="613.60" r="1.55" fill="#88CE89"/><circle cx="178.55" cy="613.60" r="1.55" fill="#88CE89"/><circle cx="184.17" cy="613.60" r="1.55" fill="#88CE89"/><circle cx="189.78" cy="613.60" r="1.55" fill="#88CE89"/><circle cx="195.40" cy="613.60" r="1.55" fill="#88CE89"/><circle cx="201.01" cy="613.60" r="1.55" fill="#88CE89"/><circle cx="206.62" cy="613.60" r="1.55" fill="#88CE89"/><circle cx="212.24" cy="613.60" r="1.55" fill="#88CE89"/><circle cx="217.85" cy="613.60" r="1.55" fill="#88CE89"/><circle cx="223.47" cy="613.60" r="1.55" fill="#88CE89"/><circle cx="229.08" cy="613.60" r="1.55" fill="#88CE89"/><circle cx="234.69" cy="613.60" r="1.55" fill="#88CE89"/><circle cx="240.31" cy="613.60" r="1.55" fill="#88CE89"/><circle cx="245.92" cy="613.60" r="1.55" fill="#88CE89"/><circle cx="251.54" cy="613.60" r="1.55" fill="#88CE89"/><circle cx="257.15" cy="613.60" r="1.55" fill="#88CE89"/><circle cx="262.76" cy="613.60" r="1.55" fill="#88CE89"/><circle cx="268.38" cy="611.80" r="1.55" fill="#88CE89"/><circle cx="273.99" cy="611.30" r="1.55" fill="#88CE89"/><circle cx="279.61" cy="611.00" r="1.55" fill="#88CE89"/><circle cx="285.22" cy="611.30" r="1.55" fill="#88CE89"/><circle cx="290.83" cy="611.30" r="1.55" fill="#88CE89"/><circle cx="296.45" cy="612.40" r="1.55" fill="#88CE89"/><circle cx="302.06" cy="612.40" r="1.55" fill="#88CE89"/><circle cx="307.68" cy="612.40" r="1.55" fill="#88CE89"/><circle cx="313.29" cy="612.40" r="1.55" fill="#88CE89"/><circle cx="318.90" cy="612.40" r="1.55" fill="#88CE89"/><circle cx="324.52" cy="612.70" r="1.55" fill="#88CE89"/><circle cx="330.13" cy="612.40" r="1.55" fill="#88CE89"/><circle cx="335.75" cy="611.30" r="1.55" fill="#88CE89"/><circle cx="341.36" cy="610.10" r="1.55" fill="#88CE89"/><circle cx="346.97" cy="610.40" r="1.55" fill="#88CE89"/><circle cx="352.59" cy="610.60" r="1.55" fill="#88CE89"/><circle cx="358.20" cy="608.30" r="1.55" fill="#88CE89"/><circle cx="363.82" cy="608.30" r="1.55" fill="#88CE89"/><circle cx="369.43" cy="607.10" r="1.55" fill="#88CE89"/><circle cx="375.04" cy="607.60" r="1.55" fill="#88CE89"/><circle cx="380.66" cy="608.30" r="1.55" fill="#88CE89"/><circle cx="386.27" cy="608.00" r="1.55" fill="#88CE89"/><circle cx="391.89" cy="607.60" r="1.55" fill="#88CE89"/><circle cx="397.50" cy="605.90" r="1.55" fill="#88CE89"/><circle cx="403.11" cy="603.10" r="1.55" fill="#88CE89"/><circle cx="408.73" cy="604.50" r="1.55" fill="#88CE89"/><circle cx="414.34" cy="601.30" r="1.55" fill="#88CE89"/><circle cx="419.96" cy="604.80" r="1.55" fill="#88CE89"/><circle cx="425.57" cy="597.80" r="1.55" fill="#88CE89"/><circle cx="431.18" cy="599.60" r="1.55" fill="#88CE89"/><circle cx="436.80" cy="602.40" r="1.55" fill="#88CE89"/><circle cx="442.41" cy="602.40" r="1.55" fill="#88CE89"/><circle cx="448.03" cy="599.60" r="1.55" fill="#88CE89"/><circle cx="453.64" cy="598.60" r="1.55" fill="#88CE89"/><circle cx="459.25" cy="595.10" r="1.55" fill="#88CE89"/><circle cx="464.87" cy="595.60" r="1.55" fill="#88CE89"/><circle cx="470.48" cy="594.30" r="1.55" fill="#88CE89"/><circle cx="476.10" cy="591.70" r="1.55" fill="#88CE89"/><circle cx="481.71" cy="597.00" r="1.55" fill="#88CE89"/><circle cx="487.32" cy="590.30" r="1.55" fill="#88CE89"/><circle cx="492.94" cy="590.80" r="1.55" fill="#88CE89"/><circle cx="498.55" cy="590.30" r="1.55" fill="#88CE89"/><circle cx="504.17" cy="577.30" r="1.55" fill="#88CE89"/><circle cx="509.78" cy="588.50" r="1.55" fill="#88CE89"/><circle cx="515.39" cy="587.30" r="1.55" fill="#88CE89"/><circle cx="521.01" cy="581.20" r="1.55" fill="#88CE89"/><circle cx="526.62" cy="583.80" r="1.55" fill="#88CE89"/><circle cx="532.24" cy="591.40" r="1.55" fill="#88CE89"/><circle cx="537.85" cy="586.40" r="1.55" fill="#88CE89"/><circle cx="543.46" cy="584.70" r="1.55" fill="#88CE89"/><circle cx="549.08" cy="573.30" r="1.55" fill="#88CE89"/><circle cx="554.69" cy="579.40" r="1.55" fill="#88CE89"/><circle cx="560.31" cy="577.70" r="1.55" fill="#88CE89"/><circle cx="565.92" cy="565.20" r="1.55" fill="#88CE89"/><circle cx="571.53" cy="585.60" r="1.55" fill="#88CE89"/><circle cx="577.15" cy="578.60" r="1.55" fill="#88CE89"/><circle cx="582.76" cy="568.10" r="1.55" fill="#88CE89"/><circle cx="588.38" cy="575.10" r="1.55" fill="#88CE89"/><circle cx="593.99" cy="560.70" r="1.55" fill="#88CE89"/><circle cx="599.60" cy="570.20" r="1.55" fill="#88CE89"/><circle cx="605.22" cy="571.90" r="1.55" fill="#88CE89"/><circle cx="610.83" cy="570.70" r="1.55" fill="#88CE89"/><circle cx="616.45" cy="565.40" r="1.55" fill="#88CE89"/><circle cx="622.06" cy="557.90" r="1.55" fill="#88CE89"/><circle cx="627.67" cy="561.90" r="1.55" fill="#88CE89"/><circle cx="633.29" cy="565.40" r="1.55" fill="#88CE89"/><circle cx="638.90" cy="568.40" r="1.55" fill="#88CE89"/><circle cx="644.52" cy="581.70" r="1.55" fill="#88CE89"/><circle cx="650.13" cy="563.70" r="1.55" fill="#88CE89"/><circle cx="655.74" cy="558.40" r="1.55" fill="#88CE89"/><circle cx="661.36" cy="557.90" r="1.55" fill="#88CE89"/><circle cx="666.97" cy="556.10" r="1.55" fill="#88CE89"/><circle cx="672.59" cy="564.50" r="1.55" fill="#88CE89"/><circle cx="678.20" cy="570.20" r="1.55" fill="#88CE89"/>
<path d="M116.80,613.60M122.41,613.60M128.03,613.60M133.64,613.60M139.26,613.60M144.87,613.60M150.48,613.60M156.10,613.60M161.71,613.60M167.33,613.60M172.94,613.60M178.55,613.60M184.17,613.60M189.78,613.60M195.40,613.60M201.01,613.60M206.62,613.60M212.24,613.60M217.85,613.60M223.47,613.60M229.08,613.60M234.69,613.60M240.31,613.60M245.92,613.60M251.54,613.60M257.15,613.60M262.76,613.60M268.38,613.60M273.99,613.60M279.61,613.60M285.22,613.60M290.83,613.60M296.45,613.60M302.06,613.60M307.68,613.60M313.29,613.60M318.90,613.60M324.52,613.60M330.13,613.60M335.75,613.60M341.36,613.60M346.97,613.60M352.59,613.60M358.20,613.60M363.82,613.60M369.43,613.60L375.04,613.10L380.66,612.80L386.27,612.60L391.89,612.40L397.50,611.80L403.11,611.10L408.73,609.70L414.34,610.10L419.96,610.10L425.57,609.40L431.18,610.10L436.80,610.10L442.41,609.40L448.03,608.00L453.64,607.40L459.25,607.10L464.87,607.50L470.48,607.10L476.10,606.10L481.71,604.80L487.32,604.00L492.94,603.60L498.55,602.20L504.17,602.60L509.78,605.40L515.39,602.20L521.01,604.00L526.62,603.10L532.24,603.10L537.85,602.60L543.46,600.80L549.08,601.30L554.69,598.40L560.31,599.60L565.92,595.60L571.53,600.50L577.15,600.50L582.76,595.20L588.38,597.80L593.99,601.00L599.60,602.20L605.22,595.20L610.83,596.40L616.45,596.40L622.06,597.50L627.67,595.20L633.29,592.90L638.90,592.20L644.52,589.40L650.13,588.20L655.74,589.40L661.36,597.00L666.97,589.90L672.59,587.70L678.20,585.20" fill="none" stroke="#C5B6E0" stroke-width="1.0" stroke-linejoin="round"/>
<path d="M116.80,611.80L118.60,614.95L115.00,614.95Z" fill="#B8A6DA"/><path d="M122.41,611.80L124.21,614.95L120.61,614.95Z" fill="#B8A6DA"/><path d="M128.03,611.80L129.83,614.95L126.23,614.95Z" fill="#B8A6DA"/><path d="M133.64,611.80L135.44,614.95L131.84,614.95Z" fill="#B8A6DA"/><path d="M139.26,611.80L141.06,614.95L137.46,614.95Z" fill="#B8A6DA"/><path d="M144.87,611.80L146.67,614.95L143.07,614.95Z" fill="#B8A6DA"/><path d="M150.48,611.80L152.28,614.95L148.68,614.95Z" fill="#B8A6DA"/><path d="M156.10,611.80L157.90,614.95L154.30,614.95Z" fill="#B8A6DA"/><path d="M161.71,611.80L163.51,614.95L159.91,614.95Z" fill="#B8A6DA"/><path d="M167.33,611.80L169.13,614.95L165.53,614.95Z" fill="#B8A6DA"/><path d="M172.94,611.80L174.74,614.95L171.14,614.95Z" fill="#B8A6DA"/><path d="M178.55,611.80L180.35,614.95L176.75,614.95Z" fill="#B8A6DA"/><path d="M184.17,611.80L185.97,614.95L182.37,614.95Z" fill="#B8A6DA"/><path d="M189.78,611.80L191.58,614.95L187.98,614.95Z" fill="#B8A6DA"/><path d="M195.40,611.80L197.20,614.95L193.60,614.95Z" fill="#B8A6DA"/><path d="M201.01,611.80L202.81,614.95L199.21,614.95Z" fill="#B8A6DA"/><path d="M206.62,611.80L208.42,614.95L204.82,614.95Z" fill="#B8A6DA"/><path d="M212.24,611.80L214.04,614.95L210.44,614.95Z" fill="#B8A6DA"/><path d="M217.85,611.80L219.65,614.95L216.05,614.95Z" fill="#B8A6DA"/><path d="M223.47,611.80L225.27,614.95L221.67,614.95Z" fill="#B8A6DA"/><path d="M229.08,611.80L230.88,614.95L227.28,614.95Z" fill="#B8A6DA"/><path d="M234.69,611.80L236.49,614.95L232.89,614.95Z" fill="#B8A6DA"/><path d="M240.31,611.80L242.11,614.95L238.51,614.95Z" fill="#B8A6DA"/><path d="M245.92,611.80L247.72,614.95L244.12,614.95Z" fill="#B8A6DA"/><path d="M251.54,611.80L253.34,614.95L249.74,614.95Z" fill="#B8A6DA"/><path d="M257.15,611.80L258.95,614.95L255.35,614.95Z" fill="#B8A6DA"/><path d="M262.76,611.80L264.56,614.95L260.96,614.95Z" fill="#B8A6DA"/><path d="M268.38,611.80L270.18,614.95L266.58,614.95Z" fill="#B8A6DA"/><path d="M273.99,611.80L275.79,614.95L272.19,614.95Z" fill="#B8A6DA"/><path d="M279.61,611.80L281.41,614.95L277.81,614.95Z" fill="#B8A6DA"/><path d="M285.22,611.80L287.02,614.95L283.42,614.95Z" fill="#B8A6DA"/><path d="M290.83,611.80L292.63,614.95L289.03,614.95Z" fill="#B8A6DA"/><path d="M296.45,611.80L298.25,614.95L294.65,614.95Z" fill="#B8A6DA"/><path d="M302.06,611.80L303.86,614.95L300.26,614.95Z" fill="#B8A6DA"/><path d="M307.68,611.80L309.48,614.95L305.88,614.95Z" fill="#B8A6DA"/><path d="M313.29,611.80L315.09,614.95L311.49,614.95Z" fill="#B8A6DA"/><path d="M318.90,611.80L320.70,614.95L317.10,614.95Z" fill="#B8A6DA"/><path d="M324.52,611.80L326.32,614.95L322.72,614.95Z" fill="#B8A6DA"/><path d="M330.13,611.80L331.93,614.95L328.33,614.95Z" fill="#B8A6DA"/><path d="M335.75,611.80L337.55,614.95L333.95,614.95Z" fill="#B8A6DA"/><path d="M341.36,611.80L343.16,614.95L339.56,614.95Z" fill="#B8A6DA"/><path d="M346.97,611.80L348.77,614.95L345.17,614.95Z" fill="#B8A6DA"/><path d="M352.59,611.80L354.39,614.95L350.79,614.95Z" fill="#B8A6DA"/><path d="M358.20,611.80L360.00,614.95L356.40,614.95Z" fill="#B8A6DA"/><path d="M363.82,611.80L365.62,614.95L362.02,614.95Z" fill="#B8A6DA"/><path d="M369.43,611.80L371.23,614.95L367.63,614.95Z" fill="#B8A6DA"/><path d="M375.04,611.30L376.84,614.45L373.24,614.45Z" fill="#B8A6DA"/><path d="M380.66,611.00L382.46,614.15L378.86,614.15Z" fill="#B8A6DA"/><path d="M386.27,610.80L388.07,613.95L384.47,613.95Z" fill="#B8A6DA"/><path d="M391.89,610.60L393.69,613.75L390.09,613.75Z" fill="#B8A6DA"/><path d="M397.50,610.00L399.30,613.15L395.70,613.15Z" fill="#B8A6DA"/><path d="M403.11,609.30L404.91,612.45L401.31,612.45Z" fill="#B8A6DA"/><path d="M408.73,607.90L410.53,611.05L406.93,611.05Z" fill="#B8A6DA"/><path d="M414.34,608.30L416.14,611.45L412.54,611.45Z" fill="#B8A6DA"/><path d="M419.96,608.30L421.76,611.45L418.16,611.45Z" fill="#B8A6DA"/><path d="M425.57,607.60L427.37,610.75L423.77,610.75Z" fill="#B8A6DA"/><path d="M431.18,608.30L432.98,611.45L429.38,611.45Z" fill="#B8A6DA"/><path d="M436.80,608.30L438.60,611.45L435.00,611.45Z" fill="#B8A6DA"/><path d="M442.41,607.60L444.21,610.75L440.61,610.75Z" fill="#B8A6DA"/><path d="M448.03,606.20L449.83,609.35L446.23,609.35Z" fill="#B8A6DA"/><path d="M453.64,605.60L455.44,608.75L451.84,608.75Z" fill="#B8A6DA"/><path d="M459.25,605.30L461.05,608.45L457.45,608.45Z" fill="#B8A6DA"/><path d="M464.87,605.70L466.67,608.85L463.07,608.85Z" fill="#B8A6DA"/><path d="M470.48,605.30L472.28,608.45L468.68,608.45Z" fill="#B8A6DA"/><path d="M476.10,604.30L477.90,607.45L474.30,607.45Z" fill="#B8A6DA"/><path d="M481.71,603.00L483.51,606.15L479.91,606.15Z" fill="#B8A6DA"/><path d="M487.32,602.20L489.12,605.35L485.52,605.35Z" fill="#B8A6DA"/><path d="M492.94,601.80L494.74,604.95L491.14,604.95Z" fill="#B8A6DA"/><path d="M498.55,600.40L500.35,603.55L496.75,603.55Z" fill="#B8A6DA"/><path d="M504.17,600.80L505.97,603.95L502.37,603.95Z" fill="#B8A6DA"/><path d="M509.78,603.60L511.58,606.75L507.98,606.75Z" fill="#B8A6DA"/><path d="M515.39,600.40L517.19,603.55L513.59,603.55Z" fill="#B8A6DA"/><path d="M521.01,602.20L522.81,605.35L519.21,605.35Z" fill="#B8A6DA"/><path d="M526.62,601.30L528.42,604.45L524.82,604.45Z" fill="#B8A6DA"/><path d="M532.24,601.30L534.04,604.45L530.44,604.45Z" fill="#B8A6DA"/><path d="M537.85,600.80L539.65,603.95L536.05,603.95Z" fill="#B8A6DA"/><path d="M543.46,599.00L545.26,602.15L541.66,602.15Z" fill="#B8A6DA"/><path d="M549.08,599.50L550.88,602.65L547.28,602.65Z" fill="#B8A6DA"/><path d="M554.69,596.60L556.49,599.75L552.89,599.75Z" fill="#B8A6DA"/><path d="M560.31,597.80L562.11,600.95L558.51,600.95Z" fill="#B8A6DA"/><path d="M565.92,593.80L567.72,596.95L564.12,596.95Z" fill="#B8A6DA"/><path d="M571.53,598.70L573.33,601.85L569.73,601.85Z" fill="#B8A6DA"/><path d="M577.15,598.70L578.95,601.85L575.35,601.85Z" fill="#B8A6DA"/><path d="M582.76,593.40L584.56,596.55L580.96,596.55Z" fill="#B8A6DA"/><path d="M588.38,596.00L590.18,599.15L586.58,599.15Z" fill="#B8A6DA"/><path d="M593.99,599.20L595.79,602.35L592.19,602.35Z" fill="#B8A6DA"/><path d="M599.60,600.40L601.40,603.55L597.80,603.55Z" fill="#B8A6DA"/><path d="M605.22,593.40L607.02,596.55L603.42,596.55Z" fill="#B8A6DA"/><path d="M610.83,594.60L612.63,597.75L609.03,597.75Z" fill="#B8A6DA"/><path d="M616.45,594.60L618.25,597.75L614.65,597.75Z" fill="#B8A6DA"/><path d="M622.06,595.70L623.86,598.85L620.26,598.85Z" fill="#B8A6DA"/><path d="M627.67,593.40L629.47,596.55L625.87,596.55Z" fill="#B8A6DA"/><path d="M633.29,591.10L635.09,594.25L631.49,594.25Z" fill="#B8A6DA"/><path d="M638.90,590.40L640.70,593.55L637.10,593.55Z" fill="#B8A6DA"/><path d="M644.52,587.60L646.32,590.75L642.72,590.75Z" fill="#B8A6DA"/><path d="M650.13,586.40L651.93,589.55L648.33,589.55Z" fill="#B8A6DA"/><path d="M655.74,587.60L657.54,590.75L653.94,590.75Z" fill="#B8A6DA"/><path d="M661.36,595.20L663.16,598.35L659.56,598.35Z" fill="#B8A6DA"/><path d="M666.97,588.10L668.77,591.25L665.17,591.25Z" fill="#B8A6DA"/><path d="M672.59,585.90L674.39,589.05L670.79,589.05Z" fill="#B8A6DA"/><path d="M678.20,583.40L680.00,586.55L676.40,586.55Z" fill="#B8A6DA"/>
<path d="M116.80,613.60M122.41,613.60M128.03,613.60M133.64,613.60M139.26,613.60M144.87,613.60M150.48,613.60M156.10,613.60M161.71,613.60M167.33,613.60M172.94,613.60M178.55,613.60M184.17,613.60M189.78,613.60M195.40,613.60M201.01,613.60M206.62,613.60M212.24,613.60M217.85,613.60M223.47,613.60M229.08,613.60M234.69,613.60M240.31,613.60L245.92,611.80L251.54,609.20L257.15,611.80L262.76,613.30L268.38,612.70L273.99,610.60L279.61,612.40L285.22,611.00L290.83,605.70L296.45,606.60L302.06,607.50L307.68,610.60L313.29,611.80L318.90,612.40L324.52,605.70L330.13,606.60L335.75,608.90L341.36,612.10L346.97,612.10L352.59,611.50L358.20,610.60L363.82,609.70L369.43,611.80L375.04,612.40L380.66,610.10L386.27,609.70L391.89,607.60L397.50,611.50L403.11,610.60L408.73,605.90L414.34,606.60L419.96,610.10L425.57,604.10L431.18,604.10L436.80,601.90L442.41,602.40L448.03,605.90L453.64,606.40L459.25,607.40L464.87,608.30L470.48,606.60L476.10,604.80L481.71,604.30L487.32,603.60L492.94,597.80L498.55,604.00L504.17,598.70L509.78,605.40L515.39,603.60L521.01,598.70L526.62,602.60L532.24,602.60L537.85,604.00L543.46,606.60L549.08,606.60L554.69,598.40L560.31,596.60L565.92,591.80L571.53,589.40L577.15,591.20L582.76,592.90L588.38,591.70L593.99,585.90L599.60,588.70L605.22,588.70L610.83,585.90L616.45,585.60L622.06,594.00L627.67,591.70L633.29,591.20L638.90,585.90L644.52,593.50L650.13,590.50L655.74,588.20L661.36,587.00L666.97,584.70L672.59,580.70L678.20,580.00" fill="none" stroke="#8FB3F3" stroke-width="1.0" stroke-linejoin="round"/>
<path d="M116.80,615.40L118.60,612.25L115.00,612.25Z" fill="#84ABF2"/><path d="M122.41,615.40L124.21,612.25L120.61,612.25Z" fill="#84ABF2"/><path d="M128.03,615.40L129.83,612.25L126.23,612.25Z" fill="#84ABF2"/><path d="M133.64,615.40L135.44,612.25L131.84,612.25Z" fill="#84ABF2"/><path d="M139.26,615.40L141.06,612.25L137.46,612.25Z" fill="#84ABF2"/><path d="M144.87,615.40L146.67,612.25L143.07,612.25Z" fill="#84ABF2"/><path d="M150.48,615.40L152.28,612.25L148.68,612.25Z" fill="#84ABF2"/><path d="M156.10,615.40L157.90,612.25L154.30,612.25Z" fill="#84ABF2"/><path d="M161.71,615.40L163.51,612.25L159.91,612.25Z" fill="#84ABF2"/><path d="M167.33,615.40L169.13,612.25L165.53,612.25Z" fill="#84ABF2"/><path d="M172.94,615.40L174.74,612.25L171.14,612.25Z" fill="#84ABF2"/><path d="M178.55,615.40L180.35,612.25L176.75,612.25Z" fill="#84ABF2"/><path d="M184.17,615.40L185.97,612.25L182.37,612.25Z" fill="#84ABF2"/><path d="M189.78,615.40L191.58,612.25L187.98,612.25Z" fill="#84ABF2"/><path d="M195.40,615.40L197.20,612.25L193.60,612.25Z" fill="#84ABF2"/><path d="M201.01,615.40L202.81,612.25L199.21,612.25Z" fill="#84ABF2"/><path d="M206.62,615.40L208.42,612.25L204.82,612.25Z" fill="#84ABF2"/><path d="M212.24,615.40L214.04,612.25L210.44,612.25Z" fill="#84ABF2"/><path d="M217.85,615.40L219.65,612.25L216.05,612.25Z" fill="#84ABF2"/><path d="M223.47,615.40L225.27,612.25L221.67,612.25Z" fill="#84ABF2"/><path d="M229.08,615.40L230.88,612.25L227.28,612.25Z" fill="#84ABF2"/><path d="M234.69,615.40L236.49,612.25L232.89,612.25Z" fill="#84ABF2"/><path d="M240.31,615.40L242.11,612.25L238.51,612.25Z" fill="#84ABF2"/><path d="M245.92,613.60L247.72,610.45L244.12,610.45Z" fill="#84ABF2"/><path d="M251.54,611.00L253.34,607.85L249.74,607.85Z" fill="#84ABF2"/><path d="M257.15,613.60L258.95,610.45L255.35,610.45Z" fill="#84ABF2"/><path d="M262.76,615.10L264.56,611.95L260.96,611.95Z" fill="#84ABF2"/><path d="M268.38,614.50L270.18,611.35L266.58,611.35Z" fill="#84ABF2"/><path d="M273.99,612.40L275.79,609.25L272.19,609.25Z" fill="#84ABF2"/><path d="M279.61,614.20L281.41,611.05L277.81,611.05Z" fill="#84ABF2"/><path d="M285.22,612.80L287.02,609.65L283.42,609.65Z" fill="#84ABF2"/><path d="M290.83,607.50L292.63,604.35L289.03,604.35Z" fill="#84ABF2"/><path d="M296.45,608.40L298.25,605.25L294.65,605.25Z" fill="#84ABF2"/><path d="M302.06,609.30L303.86,606.15L300.26,606.15Z" fill="#84ABF2"/><path d="M307.68,612.40L309.48,609.25L305.88,609.25Z" fill="#84ABF2"/><path d="M313.29,613.60L315.09,610.45L311.49,610.45Z" fill="#84ABF2"/><path d="M318.90,614.20L320.70,611.05L317.10,611.05Z" fill="#84ABF2"/><path d="M324.52,607.50L326.32,604.35L322.72,604.35Z" fill="#84ABF2"/><path d="M330.13,608.40L331.93,605.25L328.33,605.25Z" fill="#84ABF2"/><path d="M335.75,610.70L337.55,607.55L333.95,607.55Z" fill="#84ABF2"/><path d="M341.36,613.90L343.16,610.75L339.56,610.75Z" fill="#84ABF2"/><path d="M346.97,613.90L348.77,610.75L345.17,610.75Z" fill="#84ABF2"/><path d="M352.59,613.30L354.39,610.15L350.79,610.15Z" fill="#84ABF2"/><path d="M358.20,612.40L360.00,609.25L356.40,609.25Z" fill="#84ABF2"/><path d="M363.82,611.50L365.62,608.35L362.02,608.35Z" fill="#84ABF2"/><path d="M369.43,613.60L371.23,610.45L367.63,610.45Z" fill="#84ABF2"/><path d="M375.04,614.20L376.84,611.05L373.24,611.05Z" fill="#84ABF2"/><path d="M380.66,611.90L382.46,608.75L378.86,608.75Z" fill="#84ABF2"/><path d="M386.27,611.50L388.07,608.35L384.47,608.35Z" fill="#84ABF2"/><path d="M391.89,609.40L393.69,606.25L390.09,606.25Z" fill="#84ABF2"/><path d="M397.50,613.30L399.30,610.15L395.70,610.15Z" fill="#84ABF2"/><path d="M403.11,612.40L404.91,609.25L401.31,609.25Z" fill="#84ABF2"/><path d="M408.73,607.70L410.53,604.55L406.93,604.55Z" fill="#84ABF2"/><path d="M414.34,608.40L416.14,605.25L412.54,605.25Z" fill="#84ABF2"/><path d="M419.96,611.90L421.76,608.75L418.16,608.75Z" fill="#84ABF2"/><path d="M425.57,605.90L427.37,602.75L423.77,602.75Z" fill="#84ABF2"/><path d="M431.18,605.90L432.98,602.75L429.38,602.75Z" fill="#84ABF2"/><path d="M436.80,603.70L438.60,600.55L435.00,600.55Z" fill="#84ABF2"/><path d="M442.41,604.20L444.21,601.05L440.61,601.05Z" fill="#84ABF2"/><path d="M448.03,607.70L449.83,604.55L446.23,604.55Z" fill="#84ABF2"/><path d="M453.64,608.20L455.44,605.05L451.84,605.05Z" fill="#84ABF2"/><path d="M459.25,609.20L461.05,606.05L457.45,606.05Z" fill="#84ABF2"/><path d="M464.87,610.10L466.67,606.95L463.07,606.95Z" fill="#84ABF2"/><path d="M470.48,608.40L472.28,605.25L468.68,605.25Z" fill="#84ABF2"/><path d="M476.10,606.60L477.90,603.45L474.30,603.45Z" fill="#84ABF2"/><path d="M481.71,606.10L483.51,602.95L479.91,602.95Z" fill="#84ABF2"/><path d="M487.32,605.40L489.12,602.25L485.52,602.25Z" fill="#84ABF2"/><path d="M492.94,599.60L494.74,596.45L491.14,596.45Z" fill="#84ABF2"/><path d="M498.55,605.80L500.35,602.65L496.75,602.65Z" fill="#84ABF2"/><path d="M504.17,600.50L505.97,597.35L502.37,597.35Z" fill="#84ABF2"/><path d="M509.78,607.20L511.58,604.05L507.98,604.05Z" fill="#84ABF2"/><path d="M515.39,605.40L517.19,602.25L513.59,602.25Z" fill="#84ABF2"/><path d="M521.01,600.50L522.81,597.35L519.21,597.35Z" fill="#84ABF2"/><path d="M526.62,604.40L528.42,601.25L524.82,601.25Z" fill="#84ABF2"/><path d="M532.24,604.40L534.04,601.25L530.44,601.25Z" fill="#84ABF2"/><path d="M537.85,605.80L539.65,602.65L536.05,602.65Z" fill="#84ABF2"/><path d="M543.46,608.40L545.26,605.25L541.66,605.25Z" fill="#84ABF2"/><path d="M549.08,608.40L550.88,605.25L547.28,605.25Z" fill="#84ABF2"/><path d="M554.69,600.20L556.49,597.05L552.89,597.05Z" fill="#84ABF2"/><path d="M560.31,598.40L562.11,595.25L558.51,595.25Z" fill="#84ABF2"/><path d="M565.92,593.60L567.72,590.45L564.12,590.45Z" fill="#84ABF2"/><path d="M571.53,591.20L573.33,588.05L569.73,588.05Z" fill="#84ABF2"/><path d="M577.15,593.00L578.95,589.85L575.35,589.85Z" fill="#84ABF2"/><path d="M582.76,594.70L584.56,591.55L580.96,591.55Z" fill="#84ABF2"/><path d="M588.38,593.50L590.18,590.35L586.58,590.35Z" fill="#84ABF2"/><path d="M593.99,587.70L595.79,584.55L592.19,584.55Z" fill="#84ABF2"/><path d="M599.60,590.50L601.40,587.35L597.80,587.35Z" fill="#84ABF2"/><path d="M605.22,590.50L607.02,587.35L603.42,587.35Z" fill="#84ABF2"/><path d="M610.83,587.70L612.63,584.55L609.03,584.55Z" fill="#84ABF2"/><path d="M616.45,587.40L618.25,584.25L614.65,584.25Z" fill="#84ABF2"/><path d="M622.06,595.80L623.86,592.65L620.26,592.65Z" fill="#84ABF2"/><path d="M627.67,593.50L629.47,590.35L625.87,590.35Z" fill="#84ABF2"/><path d="M633.29,593.00L635.09,589.85L631.49,589.85Z" fill="#84ABF2"/><path d="M638.90,587.70L640.70,584.55L637.10,584.55Z" fill="#84ABF2"/><path d="M644.52,595.30L646.32,592.15L642.72,592.15Z" fill="#84ABF2"/><path d="M650.13,592.30L651.93,589.15L648.33,589.15Z" fill="#84ABF2"/><path d="M655.74,590.00L657.54,586.85L653.94,586.85Z" fill="#84ABF2"/><path d="M661.36,588.80L663.16,585.65L659.56,585.65Z" fill="#84ABF2"/><path d="M666.97,586.50L668.77,583.35L665.17,583.35Z" fill="#84ABF2"/><path d="M672.59,582.50L674.39,579.35L670.79,579.35Z" fill="#84ABF2"/><path d="M678.20,581.80L680.00,578.65L676.40,578.65Z" fill="#84ABF2"/>
<path d="M116.80,711.40M122.41,711.40M128.03,711.40M133.64,711.40M139.26,711.40M144.87,711.40M150.48,711.40M156.10,711.40M161.71,711.40M167.33,711.40M172.94,711.40M178.55,711.40M184.17,711.40M189.78,711.40M195.40,711.40M201.01,711.40M206.62,711.40M212.24,711.40M217.85,711.40M223.47,711.40M229.08,711.40M234.69,711.40M240.31,711.40M245.92,711.40M251.54,711.40M257.15,711.40M262.76,711.40M268.38,711.40M273.99,711.40M279.61,711.40M285.22,711.40M290.83,711.40M296.45,711.40M302.06,711.40M307.68,711.40M313.29,711.40M318.90,711.40M324.52,711.40M330.13,711.40M335.75,711.40M341.36,711.40M346.97,711.40M352.59,711.40M358.20,711.40M363.82,711.40M369.43,711.40M375.04,711.40M380.66,711.40M386.27,711.40M391.89,711.40M397.50,711.40M403.11,711.40M408.73,711.40M414.34,711.40M419.96,711.40M425.57,711.40M431.18,711.40M436.80,711.40L442.41,710.50L448.03,710.50L453.64,710.50L459.25,710.40L464.87,710.20L470.48,709.60L476.10,703.90L481.71,703.90L487.32,706.10L492.94,706.70L498.55,704.90L504.17,704.90L509.78,705.60L515.39,703.20L521.01,704.40L526.62,707.40L532.24,705.10L537.85,701.40L543.46,696.20L549.08,704.60L554.69,705.30L560.31,695.80L565.92,694.80L571.53,694.10L577.15,696.50L582.76,697.90L588.38,699.30L593.99,690.60L599.60,682.40L605.22,695.70L610.83,700.60L616.45,690.60L622.06,693.60L627.67,692.40L633.29,694.40L638.90,686.90L644.52,688.30L650.13,690.70L655.74,684.50L661.36,693.40L666.97,690.90L672.59,668.80L678.20,673.30" fill="none" stroke="#F9C796" stroke-width="1.0" stroke-linejoin="round"/>
<rect x="115.45" y="710.05" width="2.70" height="2.70" fill="#F8BC82"/><rect x="121.06" y="710.05" width="2.70" height="2.70" fill="#F8BC82"/><rect x="126.68" y="710.05" width="2.70" height="2.70" fill="#F8BC82"/><rect x="132.29" y="710.05" width="2.70" height="2.70" fill="#F8BC82"/><rect x="137.91" y="710.05" width="2.70" height="2.70" fill="#F8BC82"/><rect x="143.52" y="710.05" width="2.70" height="2.70" fill="#F8BC82"/><rect x="149.13" y="710.05" width="2.70" height="2.70" fill="#F8BC82"/><rect x="154.75" y="710.05" width="2.70" height="2.70" fill="#F8BC82"/><rect x="160.36" y="710.05" width="2.70" height="2.70" fill="#F8BC82"/><rect x="165.98" y="710.05" width="2.70" height="2.70" fill="#F8BC82"/><rect x="171.59" y="710.05" width="2.70" height="2.70" fill="#F8BC82"/><rect x="177.20" y="710.05" width="2.70" height="2.70" fill="#F8BC82"/><rect x="182.82" y="710.05" width="2.70" height="2.70" fill="#F8BC82"/><rect x="188.43" y="710.05" width="2.70" height="2.70" fill="#F8BC82"/><rect x="194.05" y="710.05" width="2.70" height="2.70" fill="#F8BC82"/><rect x="199.66" y="710.05" width="2.70" height="2.70" fill="#F8BC82"/><rect x="205.27" y="710.05" width="2.70" height="2.70" fill="#F8BC82"/><rect x="210.89" y="710.05" width="2.70" height="2.70" fill="#F8BC82"/><rect x="216.50" y="710.05" width="2.70" height="2.70" fill="#F8BC82"/><rect x="222.12" y="710.05" width="2.70" height="2.70" fill="#F8BC82"/><rect x="227.73" y="710.05" width="2.70" height="2.70" fill="#F8BC82"/><rect x="233.34" y="710.05" width="2.70" height="2.70" fill="#F8BC82"/><rect x="238.96" y="710.05" width="2.70" height="2.70" fill="#F8BC82"/><rect x="244.57" y="710.05" width="2.70" height="2.70" fill="#F8BC82"/><rect x="250.19" y="710.05" width="2.70" height="2.70" fill="#F8BC82"/><rect x="255.80" y="710.05" width="2.70" height="2.70" fill="#F8BC82"/><rect x="261.41" y="710.05" width="2.70" height="2.70" fill="#F8BC82"/><rect x="267.03" y="710.05" width="2.70" height="2.70" fill="#F8BC82"/><rect x="272.64" y="710.05" width="2.70" height="2.70" fill="#F8BC82"/><rect x="278.26" y="710.05" width="2.70" height="2.70" fill="#F8BC82"/><rect x="283.87" y="710.05" width="2.70" height="2.70" fill="#F8BC82"/><rect x="289.48" y="710.05" width="2.70" height="2.70" fill="#F8BC82"/><rect x="295.10" y="710.05" width="2.70" height="2.70" fill="#F8BC82"/><rect x="300.71" y="710.05" width="2.70" height="2.70" fill="#F8BC82"/><rect x="306.33" y="710.05" width="2.70" height="2.70" fill="#F8BC82"/><rect x="311.94" y="710.05" width="2.70" height="2.70" fill="#F8BC82"/><rect x="317.55" y="710.05" width="2.70" height="2.70" fill="#F8BC82"/><rect x="323.17" y="710.05" width="2.70" height="2.70" fill="#F8BC82"/><rect x="328.78" y="710.05" width="2.70" height="2.70" fill="#F8BC82"/><rect x="334.40" y="710.05" width="2.70" height="2.70" fill="#F8BC82"/><rect x="340.01" y="710.05" width="2.70" height="2.70" fill="#F8BC82"/><rect x="345.62" y="710.05" width="2.70" height="2.70" fill="#F8BC82"/><rect x="351.24" y="710.05" width="2.70" height="2.70" fill="#F8BC82"/><rect x="356.85" y="710.05" width="2.70" height="2.70" fill="#F8BC82"/><rect x="362.47" y="710.05" width="2.70" height="2.70" fill="#F8BC82"/><rect x="368.08" y="710.05" width="2.70" height="2.70" fill="#F8BC82"/><rect x="373.69" y="710.05" width="2.70" height="2.70" fill="#F8BC82"/><rect x="379.31" y="710.05" width="2.70" height="2.70" fill="#F8BC82"/><rect x="384.92" y="710.05" width="2.70" height="2.70" fill="#F8BC82"/><rect x="390.54" y="710.05" width="2.70" height="2.70" fill="#F8BC82"/><rect x="396.15" y="710.05" width="2.70" height="2.70" fill="#F8BC82"/><rect x="401.76" y="710.05" width="2.70" height="2.70" fill="#F8BC82"/><rect x="407.38" y="710.05" width="2.70" height="2.70" fill="#F8BC82"/><rect x="412.99" y="710.05" width="2.70" height="2.70" fill="#F8BC82"/><rect x="418.61" y="710.05" width="2.70" height="2.70" fill="#F8BC82"/><rect x="424.22" y="710.05" width="2.70" height="2.70" fill="#F8BC82"/><rect x="429.83" y="710.05" width="2.70" height="2.70" fill="#F8BC82"/><rect x="435.45" y="710.05" width="2.70" height="2.70" fill="#F8BC82"/><rect x="441.06" y="709.15" width="2.70" height="2.70" fill="#F8BC82"/><rect x="446.68" y="709.15" width="2.70" height="2.70" fill="#F8BC82"/><rect x="452.29" y="709.15" width="2.70" height="2.70" fill="#F8BC82"/><rect x="457.90" y="709.05" width="2.70" height="2.70" fill="#F8BC82"/><rect x="463.52" y="708.85" width="2.70" height="2.70" fill="#F8BC82"/><rect x="469.13" y="708.25" width="2.70" height="2.70" fill="#F8BC82"/><rect x="474.75" y="702.55" width="2.70" height="2.70" fill="#F8BC82"/><rect x="480.36" y="702.55" width="2.70" height="2.70" fill="#F8BC82"/><rect x="485.97" y="704.75" width="2.70" height="2.70" fill="#F8BC82"/><rect x="491.59" y="705.35" width="2.70" height="2.70" fill="#F8BC82"/><rect x="497.20" y="703.55" width="2.70" height="2.70" fill="#F8BC82"/><rect x="502.82" y="703.55" width="2.70" height="2.70" fill="#F8BC82"/><rect x="508.43" y="704.25" width="2.70" height="2.70" fill="#F8BC82"/><rect x="514.04" y="701.85" width="2.70" height="2.70" fill="#F8BC82"/><rect x="519.66" y="703.05" width="2.70" height="2.70" fill="#F8BC82"/><rect x="525.27" y="706.05" width="2.70" height="2.70" fill="#F8BC82"/><rect x="530.89" y="703.75" width="2.70" height="2.70" fill="#F8BC82"/><rect x="536.50" y="700.05" width="2.70" height="2.70" fill="#F8BC82"/><rect x="542.11" y="694.85" width="2.70" height="2.70" fill="#F8BC82"/><rect x="547.73" y="703.25" width="2.70" height="2.70" fill="#F8BC82"/><rect x="553.34" y="703.95" width="2.70" height="2.70" fill="#F8BC82"/><rect x="558.96" y="694.45" width="2.70" height="2.70" fill="#F8BC82"/><rect x="564.57" y="693.45" width="2.70" height="2.70" fill="#F8BC82"/><rect x="570.18" y="692.75" width="2.70" height="2.70" fill="#F8BC82"/><rect x="575.80" y="695.15" width="2.70" height="2.70" fill="#F8BC82"/><rect x="581.41" y="696.55" width="2.70" height="2.70" fill="#F8BC82"/><rect x="587.03" y="697.95" width="2.70" height="2.70" fill="#F8BC82"/><rect x="592.64" y="689.25" width="2.70" height="2.70" fill="#F8BC82"/><rect x="598.25" y="681.05" width="2.70" height="2.70" fill="#F8BC82"/><rect x="603.87" y="694.35" width="2.70" height="2.70" fill="#F8BC82"/><rect x="609.48" y="699.25" width="2.70" height="2.70" fill="#F8BC82"/><rect x="615.10" y="689.25" width="2.70" height="2.70" fill="#F8BC82"/><rect x="620.71" y="692.25" width="2.70" height="2.70" fill="#F8BC82"/><rect x="626.32" y="691.05" width="2.70" height="2.70" fill="#F8BC82"/><rect x="631.94" y="693.05" width="2.70" height="2.70" fill="#F8BC82"/><rect x="637.55" y="685.55" width="2.70" height="2.70" fill="#F8BC82"/><rect x="643.17" y="686.95" width="2.70" height="2.70" fill="#F8BC82"/><rect x="648.78" y="689.35" width="2.70" height="2.70" fill="#F8BC82"/><rect x="654.39" y="683.15" width="2.70" height="2.70" fill="#F8BC82"/><rect x="660.01" y="692.05" width="2.70" height="2.70" fill="#F8BC82"/><rect x="665.62" y="689.55" width="2.70" height="2.70" fill="#F8BC82"/><rect x="671.24" y="667.45" width="2.70" height="2.70" fill="#F8BC82"/><rect x="676.85" y="671.95" width="2.70" height="2.70" fill="#F8BC82"/>
<path d="M116.80,711.40M122.41,711.40M128.03,711.40M133.64,711.40M139.26,711.40M144.87,711.40M150.48,711.40M156.10,711.40M161.71,711.40M167.33,711.40M172.94,711.40M178.55,711.40M184.17,711.40M189.78,711.40M195.40,711.40M201.01,711.40M206.62,711.40M212.24,711.40M217.85,711.40M223.47,711.40M229.08,711.40M234.69,711.40M240.31,711.40M245.92,711.40M251.54,711.40M257.15,711.40M262.76,711.40M268.38,711.40M273.99,711.40M279.61,711.40M285.22,711.40M290.83,711.40M296.45,711.40M302.06,711.40M307.68,711.40M313.29,711.40M318.90,711.40M324.52,711.40M330.13,711.40M335.75,711.40M341.36,711.40M346.97,711.40M352.59,711.40M358.20,711.40M363.82,711.40M369.43,711.40M375.04,711.40M380.66,711.40M386.27,711.40M391.89,711.40M397.50,711.40M403.11,711.40M408.73,711.40M414.34,711.40M419.96,711.40M425.57,711.40M431.18,711.40M436.80,711.40M442.41,711.40M448.03,711.40M453.64,711.40M459.25,711.40M464.87,711.40M470.48,711.40M476.10,711.40M481.71,711.40M487.32,711.40M492.94,711.40M498.55,711.40M504.17,711.40M509.78,711.40M515.39,711.40M521.01,711.40M526.62,711.40M532.24,711.40M537.85,711.40M543.46,711.40M549.08,711.40M554.69,711.40M560.31,711.40M565.92,711.40M571.53,711.40M577.15,711.40M582.76,711.40M588.38,711.40M593.99,711.40M599.60,711.40M605.22,711.40M610.83,711.40M616.45,711.40M622.06,711.40M627.67,711.40M633.29,711.40M638.90,711.40M644.52,711.40M650.13,711.40M655.74,711.40M661.36,711.40M666.97,711.40M672.59,711.40M678.20,711.40" fill="none" stroke="#92D392" stroke-width="1.0" stroke-linejoin="round"/>
<circle cx="116.80" cy="711.40" r="1.55" fill="#88CE89"/><circle cx="122.41" cy="711.40" r="1.55" fill="#88CE89"/><circle cx="128.03" cy="711.40" r="1.55" fill="#88CE89"/><circle cx="133.64" cy="711.40" r="1.55" fill="#88CE89"/><circle cx="139.26" cy="711.40" r="1.55" fill="#88CE89"/><circle cx="144.87" cy="711.40" r="1.55" fill="#88CE89"/><circle cx="150.48" cy="711.40" r="1.55" fill="#88CE89"/><circle cx="156.10" cy="711.40" r="1.55" fill="#88CE89"/><circle cx="161.71" cy="711.40" r="1.55" fill="#88CE89"/><circle cx="167.33" cy="711.40" r="1.55" fill="#88CE89"/><circle cx="172.94" cy="711.40" r="1.55" fill="#88CE89"/><circle cx="178.55" cy="711.40" r="1.55" fill="#88CE89"/><circle cx="184.17" cy="711.40" r="1.55" fill="#88CE89"/><circle cx="189.78" cy="711.40" r="1.55" fill="#88CE89"/><circle cx="195.40" cy="711.40" r="1.55" fill="#88CE89"/><circle cx="201.01" cy="711.40" r="1.55" fill="#88CE89"/><circle cx="206.62" cy="711.40" r="1.55" fill="#88CE89"/><circle cx="212.24" cy="711.40" r="1.55" fill="#88CE89"/><circle cx="217.85" cy="711.40" r="1.55" fill="#88CE89"/><circle cx="223.47" cy="711.40" r="1.55" fill="#88CE89"/><circle cx="229.08" cy="711.40" r="1.55" fill="#88CE89"/><circle cx="234.69" cy="711.40" r="1.55" fill="#88CE89"/><circle cx="240.31" cy="711.40" r="1.55" fill="#88CE89"/><circle cx="245.92" cy="711.40" r="1.55" fill="#88CE89"/><circle cx="251.54" cy="711.40" r="1.55" fill="#88CE89"/><circle cx="257.15" cy="711.40" r="1.55" fill="#88CE89"/><circle cx="262.76" cy="711.40" r="1.55" fill="#88CE89"/><circle cx="268.38" cy="711.40" r="1.55" fill="#88CE89"/><circle cx="273.99" cy="711.40" r="1.55" fill="#88CE89"/><circle cx="279.61" cy="711.40" r="1.55" fill="#88CE89"/><circle cx="285.22" cy="711.40" r="1.55" fill="#88CE89"/><circle cx="290.83" cy="711.40" r="1.55" fill="#88CE89"/><circle cx="296.45" cy="711.40" r="1.55" fill="#88CE89"/><circle cx="302.06" cy="711.40" r="1.55" fill="#88CE89"/><circle cx="307.68" cy="711.40" r="1.55" fill="#88CE89"/><circle cx="313.29" cy="711.40" r="1.55" fill="#88CE89"/><circle cx="318.90" cy="711.40" r="1.55" fill="#88CE89"/><circle cx="324.52" cy="711.40" r="1.55" fill="#88CE89"/><circle cx="330.13" cy="711.40" r="1.55" fill="#88CE89"/><circle cx="335.75" cy="711.40" r="1.55" fill="#88CE89"/><circle cx="341.36" cy="711.40" r="1.55" fill="#88CE89"/><circle cx="346.97" cy="711.40" r="1.55" fill="#88CE89"/><circle cx="352.59" cy="711.40" r="1.55" fill="#88CE89"/><circle cx="358.20" cy="711.40" r="1.55" fill="#88CE89"/><circle cx="363.82" cy="711.40" r="1.55" fill="#88CE89"/><circle cx="369.43" cy="711.40" r="1.55" fill="#88CE89"/><circle cx="375.04" cy="711.40" r="1.55" fill="#88CE89"/><circle cx="380.66" cy="711.40" r="1.55" fill="#88CE89"/><circle cx="386.27" cy="711.40" r="1.55" fill="#88CE89"/><circle cx="391.89" cy="711.40" r="1.55" fill="#88CE89"/><circle cx="397.50" cy="711.40" r="1.55" fill="#88CE89"/><circle cx="403.11" cy="711.40" r="1.55" fill="#88CE89"/><circle cx="408.73" cy="711.40" r="1.55" fill="#88CE89"/><circle cx="414.34" cy="711.40" r="1.55" fill="#88CE89"/><circle cx="419.96" cy="711.40" r="1.55" fill="#88CE89"/><circle cx="425.57" cy="711.40" r="1.55" fill="#88CE89"/><circle cx="431.18" cy="711.40" r="1.55" fill="#88CE89"/><circle cx="436.80" cy="711.40" r="1.55" fill="#88CE89"/><circle cx="442.41" cy="711.40" r="1.55" fill="#88CE89"/><circle cx="448.03" cy="711.40" r="1.55" fill="#88CE89"/><circle cx="453.64" cy="711.40" r="1.55" fill="#88CE89"/><circle cx="459.25" cy="711.40" r="1.55" fill="#88CE89"/><circle cx="464.87" cy="711.40" r="1.55" fill="#88CE89"/><circle cx="470.48" cy="711.40" r="1.55" fill="#88CE89"/><circle cx="476.10" cy="711.40" r="1.55" fill="#88CE89"/><circle cx="481.71" cy="711.40" r="1.55" fill="#88CE89"/><circle cx="487.32" cy="711.40" r="1.55" fill="#88CE89"/><circle cx="492.94" cy="711.40" r="1.55" fill="#88CE89"/><circle cx="498.55" cy="711.40" r="1.55" fill="#88CE89"/><circle cx="504.17" cy="711.40" r="1.55" fill="#88CE89"/><circle cx="509.78" cy="711.40" r="1.55" fill="#88CE89"/><circle cx="515.39" cy="711.40" r="1.55" fill="#88CE89"/><circle cx="521.01" cy="711.40" r="1.55" fill="#88CE89"/><circle cx="526.62" cy="711.40" r="1.55" fill="#88CE89"/><circle cx="532.24" cy="711.40" r="1.55" fill="#88CE89"/><circle cx="537.85" cy="711.40" r="1.55" fill="#88CE89"/><circle cx="543.46" cy="711.40" r="1.55" fill="#88CE89"/><circle cx="549.08" cy="711.40" r="1.55" fill="#88CE89"/><circle cx="554.69" cy="711.40" r="1.55" fill="#88CE89"/><circle cx="560.31" cy="711.40" r="1.55" fill="#88CE89"/><circle cx="565.92" cy="711.40" r="1.55" fill="#88CE89"/><circle cx="571.53" cy="711.40" r="1.55" fill="#88CE89"/><circle cx="577.15" cy="711.40" r="1.55" fill="#88CE89"/><circle cx="582.76" cy="711.40" r="1.55" fill="#88CE89"/><circle cx="588.38" cy="711.40" r="1.55" fill="#88CE89"/><circle cx="593.99" cy="711.40" r="1.55" fill="#88CE89"/><circle cx="599.60" cy="711.40" r="1.55" fill="#88CE89"/><circle cx="605.22" cy="711.40" r="1.55" fill="#88CE89"/><circle cx="610.83" cy="711.40" r="1.55" fill="#88CE89"/><circle cx="616.45" cy="711.40" r="1.55" fill="#88CE89"/><circle cx="622.06" cy="711.40" r="1.55" fill="#88CE89"/><circle cx="627.67" cy="711.40" r="1.55" fill="#88CE89"/><circle cx="633.29" cy="711.40" r="1.55" fill="#88CE89"/><circle cx="638.90" cy="711.40" r="1.55" fill="#88CE89"/><circle cx="644.52" cy="711.40" r="1.55" fill="#88CE89"/><circle cx="650.13" cy="711.40" r="1.55" fill="#88CE89"/><circle cx="655.74" cy="711.40" r="1.55" fill="#88CE89"/><circle cx="661.36" cy="711.40" r="1.55" fill="#88CE89"/><circle cx="666.97" cy="711.40" r="1.55" fill="#88CE89"/><circle cx="672.59" cy="711.40" r="1.55" fill="#88CE89"/><circle cx="678.20" cy="711.40" r="1.55" fill="#88CE89"/>
<path d="M116.80,711.40M122.41,711.40M128.03,711.40M133.64,711.40M139.26,711.40M144.87,711.40M150.48,711.40M156.10,711.40M161.71,711.40M167.33,711.40M172.94,711.40M178.55,711.40M184.17,711.40M189.78,711.40M195.40,711.40M201.01,711.40M206.62,711.40M212.24,711.40M217.85,711.40M223.47,711.40M229.08,711.40M234.69,711.40M240.31,711.40M245.92,711.40M251.54,711.40M257.15,711.40M262.76,711.40M268.38,711.40M273.99,711.40M279.61,711.40M285.22,711.40M290.83,711.40L296.45,710.40L302.06,708.40L307.68,708.40L313.29,709.40L318.90,710.40L324.52,710.60L330.13,710.80L335.75,710.80L341.36,710.80L346.97,710.80L352.59,710.80L358.20,710.80L363.82,710.80L369.43,710.80L375.04,710.80L380.66,710.80L386.27,710.80L391.89,710.80L397.50,710.80L403.11,710.80L408.73,710.80L414.34,710.80L419.96,710.80L425.57,710.60L431.18,710.60L436.80,710.60L442.41,710.50L448.03,709.60L453.64,709.60L459.25,709.10L464.87,708.40L470.48,708.40L476.10,709.10L481.71,709.60L487.32,707.90L492.94,706.70L498.55,707.00L504.17,704.90L509.78,709.10L515.39,706.10L521.01,703.90L526.62,702.60L532.24,700.70L537.85,694.40L543.46,692.30L549.08,691.80L554.69,685.30L560.31,696.50L565.92,689.50L571.53,696.20L577.15,692.30L582.76,687.00L588.38,692.30L593.99,686.50L599.60,686.30L605.22,687.40L610.83,687.40L616.45,687.40L622.06,683.20L627.67,686.40L633.29,686.10L638.90,686.10L644.52,680.60L650.13,684.10L655.74,675.40L661.36,670.10L666.97,676.70L672.59,683.70L678.20,680.40" fill="none" stroke="#C5B6E0" stroke-width="1.0" stroke-linejoin="round"/>
<path d="M116.80,709.60L118.60,712.75L115.00,712.75Z" fill="#B8A6DA"/><path d="M122.41,709.60L124.21,712.75L120.61,712.75Z" fill="#B8A6DA"/><path d="M128.03,709.60L129.83,712.75L126.23,712.75Z" fill="#B8A6DA"/><path d="M133.64,709.60L135.44,712.75L131.84,712.75Z" fill="#B8A6DA"/><path d="M139.26,709.60L141.06,712.75L137.46,712.75Z" fill="#B8A6DA"/><path d="M144.87,709.60L146.67,712.75L143.07,712.75Z" fill="#B8A6DA"/><path d="M150.48,709.60L152.28,712.75L148.68,712.75Z" fill="#B8A6DA"/><path d="M156.10,709.60L157.90,712.75L154.30,712.75Z" fill="#B8A6DA"/><path d="M161.71,709.60L163.51,712.75L159.91,712.75Z" fill="#B8A6DA"/><path d="M167.33,709.60L169.13,712.75L165.53,712.75Z" fill="#B8A6DA"/><path d="M172.94,709.60L174.74,712.75L171.14,712.75Z" fill="#B8A6DA"/><path d="M178.55,709.60L180.35,712.75L176.75,712.75Z" fill="#B8A6DA"/><path d="M184.17,709.60L185.97,712.75L182.37,712.75Z" fill="#B8A6DA"/><path d="M189.78,709.60L191.58,712.75L187.98,712.75Z" fill="#B8A6DA"/><path d="M195.40,709.60L197.20,712.75L193.60,712.75Z" fill="#B8A6DA"/><path d="M201.01,709.60L202.81,712.75L199.21,712.75Z" fill="#B8A6DA"/><path d="M206.62,709.60L208.42,712.75L204.82,712.75Z" fill="#B8A6DA"/><path d="M212.24,709.60L214.04,712.75L210.44,712.75Z" fill="#B8A6DA"/><path d="M217.85,709.60L219.65,712.75L216.05,712.75Z" fill="#B8A6DA"/><path d="M223.47,709.60L225.27,712.75L221.67,712.75Z" fill="#B8A6DA"/><path d="M229.08,709.60L230.88,712.75L227.28,712.75Z" fill="#B8A6DA"/><path d="M234.69,709.60L236.49,712.75L232.89,712.75Z" fill="#B8A6DA"/><path d="M240.31,709.60L242.11,712.75L238.51,712.75Z" fill="#B8A6DA"/><path d="M245.92,709.60L247.72,712.75L244.12,712.75Z" fill="#B8A6DA"/><path d="M251.54,709.60L253.34,712.75L249.74,712.75Z" fill="#B8A6DA"/><path d="M257.15,709.60L258.95,712.75L255.35,712.75Z" fill="#B8A6DA"/><path d="M262.76,709.60L264.56,712.75L260.96,712.75Z" fill="#B8A6DA"/><path d="M268.38,709.60L270.18,712.75L266.58,712.75Z" fill="#B8A6DA"/><path d="M273.99,709.60L275.79,712.75L272.19,712.75Z" fill="#B8A6DA"/><path d="M279.61,709.60L281.41,712.75L277.81,712.75Z" fill="#B8A6DA"/><path d="M285.22,709.60L287.02,712.75L283.42,712.75Z" fill="#B8A6DA"/><path d="M290.83,709.60L292.63,712.75L289.03,712.75Z" fill="#B8A6DA"/><path d="M296.45,708.60L298.25,711.75L294.65,711.75Z" fill="#B8A6DA"/><path d="M302.06,706.60L303.86,709.75L300.26,709.75Z" fill="#B8A6DA"/><path d="M307.68,706.60L309.48,709.75L305.88,709.75Z" fill="#B8A6DA"/><path d="M313.29,707.60L315.09,710.75L311.49,710.75Z" fill="#B8A6DA"/><path d="M318.90,708.60L320.70,711.75L317.10,711.75Z" fill="#B8A6DA"/><path d="M324.52,708.80L326.32,711.95L322.72,711.95Z" fill="#B8A6DA"/><path d="M330.13,709.00L331.93,712.15L328.33,712.15Z" fill="#B8A6DA"/><path d="M335.75,709.00L337.55,712.15L333.95,712.15Z" fill="#B8A6DA"/><path d="M341.36,709.00L343.16,712.15L339.56,712.15Z" fill="#B8A6DA"/><path d="M346.97,709.00L348.77,712.15L345.17,712.15Z" fill="#B8A6DA"/><path d="M352.59,709.00L354.39,712.15L350.79,712.15Z" fill="#B8A6DA"/><path d="M358.20,709.00L360.00,712.15L356.40,712.15Z" fill="#B8A6DA"/><path d="M363.82,709.00L365.62,712.15L362.02,712.15Z" fill="#B8A6DA"/><path d="M369.43,709.00L371.23,712.15L367.63,712.15Z" fill="#B8A6DA"/><path d="M375.04,709.00L376.84,712.15L373.24,712.15Z" fill="#B8A6DA"/><path d="M380.66,709.00L382.46,712.15L378.86,712.15Z" fill="#B8A6DA"/><path d="M386.27,709.00L388.07,712.15L384.47,712.15Z" fill="#B8A6DA"/><path d="M391.89,709.00L393.69,712.15L390.09,712.15Z" fill="#B8A6DA"/><path d="M397.50,709.00L399.30,712.15L395.70,712.15Z" fill="#B8A6DA"/><path d="M403.11,709.00L404.91,712.15L401.31,712.15Z" fill="#B8A6DA"/><path d="M408.73,709.00L410.53,712.15L406.93,712.15Z" fill="#B8A6DA"/><path d="M414.34,709.00L416.14,712.15L412.54,712.15Z" fill="#B8A6DA"/><path d="M419.96,709.00L421.76,712.15L418.16,712.15Z" fill="#B8A6DA"/><path d="M425.57,708.80L427.37,711.95L423.77,711.95Z" fill="#B8A6DA"/><path d="M431.18,708.80L432.98,711.95L429.38,711.95Z" fill="#B8A6DA"/><path d="M436.80,708.80L438.60,711.95L435.00,711.95Z" fill="#B8A6DA"/><path d="M442.41,708.70L444.21,711.85L440.61,711.85Z" fill="#B8A6DA"/><path d="M448.03,707.80L449.83,710.95L446.23,710.95Z" fill="#B8A6DA"/><path d="M453.64,707.80L455.44,710.95L451.84,710.95Z" fill="#B8A6DA"/><path d="M459.25,707.30L461.05,710.45L457.45,710.45Z" fill="#B8A6DA"/><path d="M464.87,706.60L466.67,709.75L463.07,709.75Z" fill="#B8A6DA"/><path d="M470.48,706.60L472.28,709.75L468.68,709.75Z" fill="#B8A6DA"/><path d="M476.10,707.30L477.90,710.45L474.30,710.45Z" fill="#B8A6DA"/><path d="M481.71,707.80L483.51,710.95L479.91,710.95Z" fill="#B8A6DA"/><path d="M487.32,706.10L489.12,709.25L485.52,709.25Z" fill="#B8A6DA"/><path d="M492.94,704.90L494.74,708.05L491.14,708.05Z" fill="#B8A6DA"/><path d="M498.55,705.20L500.35,708.35L496.75,708.35Z" fill="#B8A6DA"/><path d="M504.17,703.10L505.97,706.25L502.37,706.25Z" fill="#B8A6DA"/><path d="M509.78,707.30L511.58,710.45L507.98,710.45Z" fill="#B8A6DA"/><path d="M515.39,704.30L517.19,707.45L513.59,707.45Z" fill="#B8A6DA"/><path d="M521.01,702.10L522.81,705.25L519.21,705.25Z" fill="#B8A6DA"/><path d="M526.62,700.80L528.42,703.95L524.82,703.95Z" fill="#B8A6DA"/><path d="M532.24,698.90L534.04,702.05L530.44,702.05Z" fill="#B8A6DA"/><path d="M537.85,692.60L539.65,695.75L536.05,695.75Z" fill="#B8A6DA"/><path d="M543.46,690.50L545.26,693.65L541.66,693.65Z" fill="#B8A6DA"/><path d="M549.08,690.00L550.88,693.15L547.28,693.15Z" fill="#B8A6DA"/><path d="M554.69,683.50L556.49,686.65L552.89,686.65Z" fill="#B8A6DA"/><path d="M560.31,694.70L562.11,697.85L558.51,697.85Z" fill="#B8A6DA"/><path d="M565.92,687.70L567.72,690.85L564.12,690.85Z" fill="#B8A6DA"/><path d="M571.53,694.40L573.33,697.55L569.73,697.55Z" fill="#B8A6DA"/><path d="M577.15,690.50L578.95,693.65L575.35,693.65Z" fill="#B8A6DA"/><path d="M582.76,685.20L584.56,688.35L580.96,688.35Z" fill="#B8A6DA"/><path d="M588.38,690.50L590.18,693.65L586.58,693.65Z" fill="#B8A6DA"/><path d="M593.99,684.70L595.79,687.85L592.19,687.85Z" fill="#B8A6DA"/><path d="M599.60,684.50L601.40,687.65L597.80,687.65Z" fill="#B8A6DA"/><path d="M605.22,685.60L607.02,688.75L603.42,688.75Z" fill="#B8A6DA"/><path d="M610.83,685.60L612.63,688.75L609.03,688.75Z" fill="#B8A6DA"/><path d="M616.45,685.60L618.25,688.75L614.65,688.75Z" fill="#B8A6DA"/><path d="M622.06,681.40L623.86,684.55L620.26,684.55Z" fill="#B8A6DA"/><path d="M627.67,684.60L629.47,687.75L625.87,687.75Z" fill="#B8A6DA"/><path d="M633.29,684.30L635.09,687.45L631.49,687.45Z" fill="#B8A6DA"/><path d="M638.90,684.30L640.70,687.45L637.10,687.45Z" fill="#B8A6DA"/><path d="M644.52,678.80L646.32,681.95L642.72,681.95Z" fill="#B8A6DA"/><path d="M650.13,682.30L651.93,685.45L648.33,685.45Z" fill="#B8A6DA"/><path d="M655.74,673.60L657.54,676.75L653.94,676.75Z" fill="#B8A6DA"/><path d="M661.36,668.30L663.16,671.45L659.56,671.45Z" fill="#B8A6DA"/><path d="M666.97,674.90L668.77,678.05L665.17,678.05Z" fill="#B8A6DA"/><path d="M672.59,681.90L674.39,685.05L670.79,685.05Z" fill="#B8A6DA"/><path d="M678.20,678.60L680.00,681.75L676.40,681.75Z" fill="#B8A6DA"/>
<path d="M116.80,711.40M122.41,711.40M128.03,711.40M133.64,711.40M139.26,711.40M144.87,711.40M150.48,711.40M156.10,711.40M161.71,711.40M167.33,711.40M172.94,711.40M178.55,711.40M184.17,711.40M189.78,711.40M195.40,711.40M201.01,711.40M206.62,711.40M212.24,711.40M217.85,711.40L223.47,710.20L229.08,707.90L234.69,709.60L240.31,707.90L245.92,703.50L251.54,704.90L257.15,702.10L262.76,705.30L268.38,704.40L273.99,706.10L279.61,707.90L285.22,707.00L290.83,703.20L296.45,699.10L302.06,693.40L307.68,694.60L313.29,705.60L318.90,687.90L324.52,693.00L330.13,668.50L335.75,691.30L341.36,700.50L346.97,681.30L352.59,697.00L358.20,702.60L363.82,707.50L369.43,710.00L375.04,711.10L380.66,711.40M386.27,711.40M391.89,711.40M397.50,711.40M403.11,711.40M408.73,711.40L414.34,710.00L419.96,707.70L425.57,706.60L431.18,709.60L436.80,709.60L442.41,710.50L448.03,710.50L453.64,710.50L459.25,710.50L464.87,710.50L470.48,710.50L476.10,709.60L481.71,710.20L487.32,709.10L492.94,710.20L498.55,707.40L504.17,702.60L509.78,707.40L515.39,706.70L521.01,703.20L526.62,697.40L532.24,703.90L537.85,705.10L543.46,699.30L549.08,691.30L554.69,693.50L560.31,701.80L565.92,703.50L571.53,698.80L577.15,696.50L582.76,703.20L588.38,706.70L593.99,699.70L599.60,699.10L605.22,697.90L610.83,694.60L616.45,700.40L622.06,697.00L627.67,700.50L633.29,700.30L638.90,691.30L644.52,685.50L650.13,683.70L655.74,677.00L661.36,682.50L666.97,683.70L672.59,673.30L678.20,677.90" fill="none" stroke="#8FB3F3" stroke-width="1.0" stroke-linejoin="round"/>
<path d="M116.80,713.20L118.60,710.05L115.00,710.05Z" fill="#84ABF2"/><path d="M122.41,713.20L124.21,710.05L120.61,710.05Z" fill="#84ABF2"/><path d="M128.03,713.20L129.83,710.05L126.23,710.05Z" fill="#84ABF2"/><path d="M133.64,713.20L135.44,710.05L131.84,710.05Z" fill="#84ABF2"/><path d="M139.26,713.20L141.06,710.05L137.46,710.05Z" fill="#84ABF2"/><path d="M144.87,713.20L146.67,710.05L143.07,710.05Z" fill="#84ABF2"/><path d="M150.48,713.20L152.28,710.05L148.68,710.05Z" fill="#84ABF2"/><path d="M156.10,713.20L157.90,710.05L154.30,710.05Z" fill="#84ABF2"/><path d="M161.71,713.20L163.51,710.05L159.91,710.05Z" fill="#84ABF2"/><path d="M167.33,713.20L169.13,710.05L165.53,710.05Z" fill="#84ABF2"/><path d="M172.94,713.20L174.74,710.05L171.14,710.05Z" fill="#84ABF2"/><path d="M178.55,713.20L180.35,710.05L176.75,710.05Z" fill="#84ABF2"/><path d="M184.17,713.20L185.97,710.05L182.37,710.05Z" fill="#84ABF2"/><path d="M189.78,713.20L191.58,710.05L187.98,710.05Z" fill="#84ABF2"/><path d="M195.40,713.20L197.20,710.05L193.60,710.05Z" fill="#84ABF2"/><path d="M201.01,713.20L202.81,710.05L199.21,710.05Z" fill="#84ABF2"/><path d="M206.62,713.20L208.42,710.05L204.82,710.05Z" fill="#84ABF2"/><path d="M212.24,713.20L214.04,710.05L210.44,710.05Z" fill="#84ABF2"/><path d="M217.85,713.20L219.65,710.05L216.05,710.05Z" fill="#84ABF2"/><path d="M223.47,712.00L225.27,708.85L221.67,708.85Z" fill="#84ABF2"/><path d="M229.08,709.70L230.88,706.55L227.28,706.55Z" fill="#84ABF2"/><path d="M234.69,711.40L236.49,708.25L232.89,708.25Z" fill="#84ABF2"/><path d="M240.31,709.70L242.11,706.55L238.51,706.55Z" fill="#84ABF2"/><path d="M245.92,705.30L247.72,702.15L244.12,702.15Z" fill="#84ABF2"/><path d="M251.54,706.70L253.34,703.55L249.74,703.55Z" fill="#84ABF2"/><path d="M257.15,703.90L258.95,700.75L255.35,700.75Z" fill="#84ABF2"/><path d="M262.76,707.10L264.56,703.95L260.96,703.95Z" fill="#84ABF2"/><path d="M268.38,706.20L270.18,703.05L266.58,703.05Z" fill="#84ABF2"/><path d="M273.99,707.90L275.79,704.75L272.19,704.75Z" fill="#84ABF2"/><path d="M279.61,709.70L281.41,706.55L277.81,706.55Z" fill="#84ABF2"/><path d="M285.22,708.80L287.02,705.65L283.42,705.65Z" fill="#84ABF2"/><path d="M290.83,705.00L292.63,701.85L289.03,701.85Z" fill="#84ABF2"/><path d="M296.45,700.90L298.25,697.75L294.65,697.75Z" fill="#84ABF2"/><path d="M302.06,695.20L303.86,692.05L300.26,692.05Z" fill="#84ABF2"/><path d="M307.68,696.40L309.48,693.25L305.88,693.25Z" fill="#84ABF2"/><path d="M313.29,707.40L315.09,704.25L311.49,704.25Z" fill="#84ABF2"/><path d="M318.90,689.70L320.70,686.55L317.10,686.55Z" fill="#84ABF2"/><path d="M324.52,694.80L326.32,691.65L322.72,691.65Z" fill="#84ABF2"/><path d="M330.13,670.30L331.93,667.15L328.33,667.15Z" fill="#84ABF2"/><path d="M335.75,693.10L337.55,689.95L333.95,689.95Z" fill="#84ABF2"/><path d="M341.36,702.30L343.16,699.15L339.56,699.15Z" fill="#84ABF2"/><path d="M346.97,683.10L348.77,679.95L345.17,679.95Z" fill="#84ABF2"/><path d="M352.59,698.80L354.39,695.65L350.79,695.65Z" fill="#84ABF2"/><path d="M358.20,704.40L360.00,701.25L356.40,701.25Z" fill="#84ABF2"/><path d="M363.82,709.30L365.62,706.15L362.02,706.15Z" fill="#84ABF2"/><path d="M369.43,711.80L371.23,708.65L367.63,708.65Z" fill="#84ABF2"/><path d="M375.04,712.90L376.84,709.75L373.24,709.75Z" fill="#84ABF2"/><path d="M380.66,713.20L382.46,710.05L378.86,710.05Z" fill="#84ABF2"/><path d="M386.27,713.20L388.07,710.05L384.47,710.05Z" fill="#84ABF2"/><path d="M391.89,713.20L393.69,710.05L390.09,710.05Z" fill="#84ABF2"/><path d="M397.50,713.20L399.30,710.05L395.70,710.05Z" fill="#84ABF2"/><path d="M403.11,713.20L404.91,710.05L401.31,710.05Z" fill="#84ABF2"/><path d="M408.73,713.20L410.53,710.05L406.93,710.05Z" fill="#84ABF2"/><path d="M414.34,711.80L416.14,708.65L412.54,708.65Z" fill="#84ABF2"/><path d="M419.96,709.50L421.76,706.35L418.16,706.35Z" fill="#84ABF2"/><path d="M425.57,708.40L427.37,705.25L423.77,705.25Z" fill="#84ABF2"/><path d="M431.18,711.40L432.98,708.25L429.38,708.25Z" fill="#84ABF2"/><path d="M436.80,711.40L438.60,708.25L435.00,708.25Z" fill="#84ABF2"/><path d="M442.41,712.30L444.21,709.15L440.61,709.15Z" fill="#84ABF2"/><path d="M448.03,712.30L449.83,709.15L446.23,709.15Z" fill="#84ABF2"/><path d="M453.64,712.30L455.44,709.15L451.84,709.15Z" fill="#84ABF2"/><path d="M459.25,712.30L461.05,709.15L457.45,709.15Z" fill="#84ABF2"/><path d="M464.87,712.30L466.67,709.15L463.07,709.15Z" fill="#84ABF2"/><path d="M470.48,712.30L472.28,709.15L468.68,709.15Z" fill="#84ABF2"/><path d="M476.10,711.40L477.90,708.25L474.30,708.25Z" fill="#84ABF2"/><path d="M481.71,712.00L483.51,708.85L479.91,708.85Z" fill="#84ABF2"/><path d="M487.32,710.90L489.12,707.75L485.52,707.75Z" fill="#84ABF2"/><path d="M492.94,712.00L494.74,708.85L491.14,708.85Z" fill="#84ABF2"/><path d="M498.55,709.20L500.35,706.05L496.75,706.05Z" fill="#84ABF2"/><path d="M504.17,704.40L505.97,701.25L502.37,701.25Z" fill="#84ABF2"/><path d="M509.78,709.20L511.58,706.05L507.98,706.05Z" fill="#84ABF2"/><path d="M515.39,708.50L517.19,705.35L513.59,705.35Z" fill="#84ABF2"/><path d="M521.01,705.00L522.81,701.85L519.21,701.85Z" fill="#84ABF2"/><path d="M526.62,699.20L528.42,696.05L524.82,696.05Z" fill="#84ABF2"/><path d="M532.24,705.70L534.04,702.55L530.44,702.55Z" fill="#84ABF2"/><path d="M537.85,706.90L539.65,703.75L536.05,703.75Z" fill="#84ABF2"/><path d="M543.46,701.10L545.26,697.95L541.66,697.95Z" fill="#84ABF2"/><path d="M549.08,693.10L550.88,689.95L547.28,689.95Z" fill="#84ABF2"/><path d="M554.69,695.30L556.49,692.15L552.89,692.15Z" fill="#84ABF2"/><path d="M560.31,703.60L562.11,700.45L558.51,700.45Z" fill="#84ABF2"/><path d="M565.92,705.30L567.72,702.15L564.12,702.15Z" fill="#84ABF2"/><path d="M571.53,700.60L573.33,697.45L569.73,697.45Z" fill="#84ABF2"/><path d="M577.15,698.30L578.95,695.15L575.35,695.15Z" fill="#84ABF2"/><path d="M582.76,705.00L584.56,701.85L580.96,701.85Z" fill="#84ABF2"/><path d="M588.38,708.50L590.18,705.35L586.58,705.35Z" fill="#84ABF2"/><path d="M593.99,701.50L595.79,698.35L592.19,698.35Z" fill="#84ABF2"/><path d="M599.60,700.90L601.40,697.75L597.80,697.75Z" fill="#84ABF2"/><path d="M605.22,699.70L607.02,696.55L603.42,696.55Z" fill="#84ABF2"/><path d="M610.83,696.40L612.63,693.25L609.03,693.25Z" fill="#84ABF2"/><path d="M616.45,702.20L618.25,699.05L614.65,699.05Z" fill="#84ABF2"/><path d="M622.06,698.80L623.86,695.65L620.26,695.65Z" fill="#84ABF2"/><path d="M627.67,702.30L629.47,699.15L625.87,699.15Z" fill="#84ABF2"/><path d="M633.29,702.10L635.09,698.95L631.49,698.95Z" fill="#84ABF2"/><path d="M638.90,693.10L640.70,689.95L637.10,689.95Z" fill="#84ABF2"/><path d="M644.52,687.30L646.32,684.15L642.72,684.15Z" fill="#84ABF2"/><path d="M650.13,685.50L651.93,682.35L648.33,682.35Z" fill="#84ABF2"/><path d="M655.74,678.80L657.54,675.65L653.94,675.65Z" fill="#84ABF2"/><path d="M661.36,684.30L663.16,681.15L659.56,681.15Z" fill="#84ABF2"/><path d="M666.97,685.50L668.77,682.35L665.17,682.35Z" fill="#84ABF2"/><path d="M672.59,675.10L674.39,671.95L670.79,671.95Z" fill="#84ABF2"/><path d="M678.20,679.70L680.00,676.55L676.40,676.55Z" fill="#84ABF2"/>
<path d="M116.80,809.20M122.41,809.20M128.03,809.20M133.64,809.20M139.26,809.20M144.87,809.20M150.48,809.20M156.10,809.20M161.71,809.20M167.33,809.20M172.94,809.20M178.55,809.20M184.17,809.20M189.78,809.20M195.40,809.20M201.01,809.20M206.62,809.20M212.24,809.20M217.85,809.20M223.47,809.20M229.08,809.20M234.69,809.20M240.31,809.20M245.92,809.20M251.54,809.20M257.15,809.20M262.76,809.20M268.38,809.20M273.99,809.20M279.61,809.20M285.22,809.20M290.83,809.20M296.45,809.20M302.06,809.20M307.68,809.20M313.29,809.20M318.90,809.20M324.52,809.20M330.13,809.20M335.75,809.20M341.36,809.20M346.97,809.20M352.59,809.20M358.20,809.20M363.82,809.20M369.43,809.20M375.04,809.20M380.66,809.20M386.27,809.20M391.89,809.20M397.50,809.20M403.11,809.20M408.73,809.20M414.34,809.20L419.96,808.70L425.57,808.40L431.18,808.20L436.80,806.90L442.41,807.40L448.03,807.80L453.64,807.40L459.25,807.40L464.87,808.00L470.48,808.00L476.10,807.80L481.71,806.40L487.32,805.70L492.94,805.20L498.55,804.60L504.17,804.60L509.78,803.40L515.39,801.70L521.01,801.10L526.62,800.80L532.24,800.20L537.85,800.00L543.46,799.00L549.08,798.30L554.69,796.90L560.31,797.80L565.92,797.80L571.53,796.10L577.15,794.30L582.76,792.00L588.38,793.10L593.99,791.70L599.60,790.00L605.22,789.80L610.83,790.60L616.45,791.50L622.06,789.10L627.67,786.20L633.29,783.40L638.90,782.10L644.52,781.20L650.13,783.00L655.74,785.40L661.36,785.00L666.97,783.40L672.59,783.40L678.20,780.40" fill="none" stroke="#F9C796" stroke-width="1.0" stroke-linejoin="round"/>
<rect x="115.45" y="807.85" width="2.70" height="2.70" fill="#F8BC82"/><rect x="121.06" y="807.85" width="2.70" height="2.70" fill="#F8BC82"/><rect x="126.68" y="807.85" width="2.70" height="2.70" fill="#F8BC82"/><rect x="132.29" y="807.85" width="2.70" height="2.70" fill="#F8BC82"/><rect x="137.91" y="807.85" width="2.70" height="2.70" fill="#F8BC82"/><rect x="143.52" y="807.85" width="2.70" height="2.70" fill="#F8BC82"/><rect x="149.13" y="807.85" width="2.70" height="2.70" fill="#F8BC82"/><rect x="154.75" y="807.85" width="2.70" height="2.70" fill="#F8BC82"/><rect x="160.36" y="807.85" width="2.70" height="2.70" fill="#F8BC82"/><rect x="165.98" y="807.85" width="2.70" height="2.70" fill="#F8BC82"/><rect x="171.59" y="807.85" width="2.70" height="2.70" fill="#F8BC82"/><rect x="177.20" y="807.85" width="2.70" height="2.70" fill="#F8BC82"/><rect x="182.82" y="807.85" width="2.70" height="2.70" fill="#F8BC82"/><rect x="188.43" y="807.85" width="2.70" height="2.70" fill="#F8BC82"/><rect x="194.05" y="807.85" width="2.70" height="2.70" fill="#F8BC82"/><rect x="199.66" y="807.85" width="2.70" height="2.70" fill="#F8BC82"/><rect x="205.27" y="807.85" width="2.70" height="2.70" fill="#F8BC82"/><rect x="210.89" y="807.85" width="2.70" height="2.70" fill="#F8BC82"/><rect x="216.50" y="807.85" width="2.70" height="2.70" fill="#F8BC82"/><rect x="222.12" y="807.85" width="2.70" height="2.70" fill="#F8BC82"/><rect x="227.73" y="807.85" width="2.70" height="2.70" fill="#F8BC82"/><rect x="233.34" y="807.85" width="2.70" height="2.70" fill="#F8BC82"/><rect x="238.96" y="807.85" width="2.70" height="2.70" fill="#F8BC82"/><rect x="244.57" y="807.85" width="2.70" height="2.70" fill="#F8BC82"/><rect x="250.19" y="807.85" width="2.70" height="2.70" fill="#F8BC82"/><rect x="255.80" y="807.85" width="2.70" height="2.70" fill="#F8BC82"/><rect x="261.41" y="807.85" width="2.70" height="2.70" fill="#F8BC82"/><rect x="267.03" y="807.85" width="2.70" height="2.70" fill="#F8BC82"/><rect x="272.64" y="807.85" width="2.70" height="2.70" fill="#F8BC82"/><rect x="278.26" y="807.85" width="2.70" height="2.70" fill="#F8BC82"/><rect x="283.87" y="807.85" width="2.70" height="2.70" fill="#F8BC82"/><rect x="289.48" y="807.85" width="2.70" height="2.70" fill="#F8BC82"/><rect x="295.10" y="807.85" width="2.70" height="2.70" fill="#F8BC82"/><rect x="300.71" y="807.85" width="2.70" height="2.70" fill="#F8BC82"/><rect x="306.33" y="807.85" width="2.70" height="2.70" fill="#F8BC82"/><rect x="311.94" y="807.85" width="2.70" height="2.70" fill="#F8BC82"/><rect x="317.55" y="807.85" width="2.70" height="2.70" fill="#F8BC82"/><rect x="323.17" y="807.85" width="2.70" height="2.70" fill="#F8BC82"/><rect x="328.78" y="807.85" width="2.70" height="2.70" fill="#F8BC82"/><rect x="334.40" y="807.85" width="2.70" height="2.70" fill="#F8BC82"/><rect x="340.01" y="807.85" width="2.70" height="2.70" fill="#F8BC82"/><rect x="345.62" y="807.85" width="2.70" height="2.70" fill="#F8BC82"/><rect x="351.24" y="807.85" width="2.70" height="2.70" fill="#F8BC82"/><rect x="356.85" y="807.85" width="2.70" height="2.70" fill="#F8BC82"/><rect x="362.47" y="807.85" width="2.70" height="2.70" fill="#F8BC82"/><rect x="368.08" y="807.85" width="2.70" height="2.70" fill="#F8BC82"/><rect x="373.69" y="807.85" width="2.70" height="2.70" fill="#F8BC82"/><rect x="379.31" y="807.85" width="2.70" height="2.70" fill="#F8BC82"/><rect x="384.92" y="807.85" width="2.70" height="2.70" fill="#F8BC82"/><rect x="390.54" y="807.85" width="2.70" height="2.70" fill="#F8BC82"/><rect x="396.15" y="807.85" width="2.70" height="2.70" fill="#F8BC82"/><rect x="401.76" y="807.85" width="2.70" height="2.70" fill="#F8BC82"/><rect x="407.38" y="807.85" width="2.70" height="2.70" fill="#F8BC82"/><rect x="412.99" y="807.85" width="2.70" height="2.70" fill="#F8BC82"/><rect x="418.61" y="807.35" width="2.70" height="2.70" fill="#F8BC82"/><rect x="424.22" y="807.05" width="2.70" height="2.70" fill="#F8BC82"/><rect x="429.83" y="806.85" width="2.70" height="2.70" fill="#F8BC82"/><rect x="435.45" y="805.55" width="2.70" height="2.70" fill="#F8BC82"/><rect x="441.06" y="806.05" width="2.70" height="2.70" fill="#F8BC82"/><rect x="446.68" y="806.45" width="2.70" height="2.70" fill="#F8BC82"/><rect x="452.29" y="806.05" width="2.70" height="2.70" fill="#F8BC82"/><rect x="457.90" y="806.05" width="2.70" height="2.70" fill="#F8BC82"/><rect x="463.52" y="806.65" width="2.70" height="2.70" fill="#F8BC82"/><rect x="469.13" y="806.65" width="2.70" height="2.70" fill="#F8BC82"/><rect x="474.75" y="806.45" width="2.70" height="2.70" fill="#F8BC82"/><rect x="480.36" y="805.05" width="2.70" height="2.70" fill="#F8BC82"/><rect x="485.97" y="804.35" width="2.70" height="2.70" fill="#F8BC82"/><rect x="491.59" y="803.85" width="2.70" height="2.70" fill="#F8BC82"/><rect x="497.20" y="803.25" width="2.70" height="2.70" fill="#F8BC82"/><rect x="502.82" y="803.25" width="2.70" height="2.70" fill="#F8BC82"/><rect x="508.43" y="802.05" width="2.70" height="2.70" fill="#F8BC82"/><rect x="514.04" y="800.35" width="2.70" height="2.70" fill="#F8BC82"/><rect x="519.66" y="799.75" width="2.70" height="2.70" fill="#F8BC82"/><rect x="525.27" y="799.45" width="2.70" height="2.70" fill="#F8BC82"/><rect x="530.89" y="798.85" width="2.70" height="2.70" fill="#F8BC82"/><rect x="536.50" y="798.65" width="2.70" height="2.70" fill="#F8BC82"/><rect x="542.11" y="797.65" width="2.70" height="2.70" fill="#F8BC82"/><rect x="547.73" y="796.95" width="2.70" height="2.70" fill="#F8BC82"/><rect x="553.34" y="795.55" width="2.70" height="2.70" fill="#F8BC82"/><rect x="558.96" y="796.45" width="2.70" height="2.70" fill="#F8BC82"/><rect x="564.57" y="796.45" width="2.70" height="2.70" fill="#F8BC82"/><rect x="570.18" y="794.75" width="2.70" height="2.70" fill="#F8BC82"/><rect x="575.80" y="792.95" width="2.70" height="2.70" fill="#F8BC82"/><rect x="581.41" y="790.65" width="2.70" height="2.70" fill="#F8BC82"/><rect x="587.03" y="791.75" width="2.70" height="2.70" fill="#F8BC82"/><rect x="592.64" y="790.35" width="2.70" height="2.70" fill="#F8BC82"/><rect x="598.25" y="788.65" width="2.70" height="2.70" fill="#F8BC82"/><rect x="603.87" y="788.45" width="2.70" height="2.70" fill="#F8BC82"/><rect x="609.48" y="789.25" width="2.70" height="2.70" fill="#F8BC82"/><rect x="615.10" y="790.15" width="2.70" height="2.70" fill="#F8BC82"/><rect x="620.71" y="787.75" width="2.70" height="2.70" fill="#F8BC82"/><rect x="626.32" y="784.85" width="2.70" height="2.70" fill="#F8BC82"/><rect x="631.94" y="782.05" width="2.70" height="2.70" fill="#F8BC82"/><rect x="637.55" y="780.75" width="2.70" height="2.70" fill="#F8BC82"/><rect x="643.17" y="779.85" width="2.70" height="2.70" fill="#F8BC82"/><rect x="648.78" y="781.65" width="2.70" height="2.70" fill="#F8BC82"/><rect x="654.39" y="784.05" width="2.70" height="2.70" fill="#F8BC82"/><rect x="660.01" y="783.65" width="2.70" height="2.70" fill="#F8BC82"/><rect x="665.62" y="782.05" width="2.70" height="2.70" fill="#F8BC82"/><rect x="671.24" y="782.05" width="2.70" height="2.70" fill="#F8BC82"/><rect x="676.85" y="779.05" width="2.70" height="2.70" fill="#F8BC82"/>
<path d="M116.80,809.20M122.41,809.20M128.03,809.20M133.64,809.20M139.26,809.20M144.87,809.20M150.48,809.20M156.10,809.20M161.71,809.20M167.33,809.20M172.94,809.20M178.55,809.20M184.17,809.20M189.78,809.20M195.40,809.20M201.01,809.20M206.62,809.20M212.24,809.20M217.85,809.20M223.47,809.20M229.08,809.20M234.69,809.20M240.31,809.20M245.92,809.20M251.54,809.20M257.15,809.20M262.76,809.20M268.38,809.20M273.99,809.20M279.61,809.20M285.22,809.20M290.83,809.20M296.45,809.20M302.06,809.20M307.68,809.20M313.29,809.20M318.90,809.20M324.52,809.20M330.13,809.20M335.75,809.20M341.36,809.20M346.97,809.20M352.59,809.20M358.20,809.20M363.82,809.20M369.43,809.20M375.04,809.20M380.66,809.20M386.27,809.20M391.89,809.20M397.50,809.20M403.11,809.20M408.73,809.20M414.34,809.20M419.96,809.20M425.57,809.20M431.18,809.20M436.80,809.20M442.41,809.20M448.03,809.20M453.64,809.20M459.25,809.20M464.87,809.20M470.48,809.20M476.10,809.20M481.71,809.20M487.32,809.20M492.94,809.20M498.55,809.20M504.17,809.20M509.78,809.20M515.39,809.20M521.01,809.20M526.62,809.20M532.24,809.20M537.85,809.20M543.46,809.20M549.08,809.20M554.69,809.20M560.31,809.20M565.92,809.20M571.53,809.20M577.15,809.20M582.76,809.20M588.38,809.20M593.99,809.20M599.60,809.20M605.22,809.20M610.83,809.20M616.45,809.20M622.06,809.20M627.67,809.20M633.29,809.20M638.90,809.20M644.52,809.20M650.13,809.20M655.74,809.20M661.36,809.20M666.97,809.20M672.59,809.20M678.20,809.20" fill="none" stroke="#92D392" stroke-width="1.0" stroke-linejoin="round"/>
<circle cx="116.80" cy="809.20" r="1.55" fill="#88CE89"/><circle cx="122.41" cy="809.20" r="1.55" fill="#88CE89"/><circle cx="128.03" cy="809.20" r="1.55" fill="#88CE89"/><circle cx="133.64" cy="809.20" r="1.55" fill="#88CE89"/><circle cx="139.26" cy="809.20" r="1.55" fill="#88CE89"/><circle cx="144.87" cy="809.20" r="1.55" fill="#88CE89"/><circle cx="150.48" cy="809.20" r="1.55" fill="#88CE89"/><circle cx="156.10" cy="809.20" r="1.55" fill="#88CE89"/><circle cx="161.71" cy="809.20" r="1.55" fill="#88CE89"/><circle cx="167.33" cy="809.20" r="1.55" fill="#88CE89"/><circle cx="172.94" cy="809.20" r="1.55" fill="#88CE89"/><circle cx="178.55" cy="809.20" r="1.55" fill="#88CE89"/><circle cx="184.17" cy="809.20" r="1.55" fill="#88CE89"/><circle cx="189.78" cy="809.20" r="1.55" fill="#88CE89"/><circle cx="195.40" cy="809.20" r="1.55" fill="#88CE89"/><circle cx="201.01" cy="809.20" r="1.55" fill="#88CE89"/><circle cx="206.62" cy="809.20" r="1.55" fill="#88CE89"/><circle cx="212.24" cy="809.20" r="1.55" fill="#88CE89"/><circle cx="217.85" cy="809.20" r="1.55" fill="#88CE89"/><circle cx="223.47" cy="809.20" r="1.55" fill="#88CE89"/><circle cx="229.08" cy="809.20" r="1.55" fill="#88CE89"/><circle cx="234.69" cy="809.20" r="1.55" fill="#88CE89"/><circle cx="240.31" cy="809.20" r="1.55" fill="#88CE89"/><circle cx="245.92" cy="809.20" r="1.55" fill="#88CE89"/><circle cx="251.54" cy="809.20" r="1.55" fill="#88CE89"/><circle cx="257.15" cy="809.20" r="1.55" fill="#88CE89"/><circle cx="262.76" cy="809.20" r="1.55" fill="#88CE89"/><circle cx="268.38" cy="809.20" r="1.55" fill="#88CE89"/><circle cx="273.99" cy="809.20" r="1.55" fill="#88CE89"/><circle cx="279.61" cy="809.20" r="1.55" fill="#88CE89"/><circle cx="285.22" cy="809.20" r="1.55" fill="#88CE89"/><circle cx="290.83" cy="809.20" r="1.55" fill="#88CE89"/><circle cx="296.45" cy="809.20" r="1.55" fill="#88CE89"/><circle cx="302.06" cy="809.20" r="1.55" fill="#88CE89"/><circle cx="307.68" cy="809.20" r="1.55" fill="#88CE89"/><circle cx="313.29" cy="809.20" r="1.55" fill="#88CE89"/><circle cx="318.90" cy="809.20" r="1.55" fill="#88CE89"/><circle cx="324.52" cy="809.20" r="1.55" fill="#88CE89"/><circle cx="330.13" cy="809.20" r="1.55" fill="#88CE89"/><circle cx="335.75" cy="809.20" r="1.55" fill="#88CE89"/><circle cx="341.36" cy="809.20" r="1.55" fill="#88CE89"/><circle cx="346.97" cy="809.20" r="1.55" fill="#88CE89"/><circle cx="352.59" cy="809.20" r="1.55" fill="#88CE89"/><circle cx="358.20" cy="809.20" r="1.55" fill="#88CE89"/><circle cx="363.82" cy="809.20" r="1.55" fill="#88CE89"/><circle cx="369.43" cy="809.20" r="1.55" fill="#88CE89"/><circle cx="375.04" cy="809.20" r="1.55" fill="#88CE89"/><circle cx="380.66" cy="809.20" r="1.55" fill="#88CE89"/><circle cx="386.27" cy="809.20" r="1.55" fill="#88CE89"/><circle cx="391.89" cy="809.20" r="1.55" fill="#88CE89"/><circle cx="397.50" cy="809.20" r="1.55" fill="#88CE89"/><circle cx="403.11" cy="809.20" r="1.55" fill="#88CE89"/><circle cx="408.73" cy="809.20" r="1.55" fill="#88CE89"/><circle cx="414.34" cy="809.20" r="1.55" fill="#88CE89"/><circle cx="419.96" cy="809.20" r="1.55" fill="#88CE89"/><circle cx="425.57" cy="809.20" r="1.55" fill="#88CE89"/><circle cx="431.18" cy="809.20" r="1.55" fill="#88CE89"/><circle cx="436.80" cy="809.20" r="1.55" fill="#88CE89"/><circle cx="442.41" cy="809.20" r="1.55" fill="#88CE89"/><circle cx="448.03" cy="809.20" r="1.55" fill="#88CE89"/><circle cx="453.64" cy="809.20" r="1.55" fill="#88CE89"/><circle cx="459.25" cy="809.20" r="1.55" fill="#88CE89"/><circle cx="464.87" cy="809.20" r="1.55" fill="#88CE89"/><circle cx="470.48" cy="809.20" r="1.55" fill="#88CE89"/><circle cx="476.10" cy="809.20" r="1.55" fill="#88CE89"/><circle cx="481.71" cy="809.20" r="1.55" fill="#88CE89"/><circle cx="487.32" cy="809.20" r="1.55" fill="#88CE89"/><circle cx="492.94" cy="809.20" r="1.55" fill="#88CE89"/><circle cx="498.55" cy="809.20" r="1.55" fill="#88CE89"/><circle cx="504.17" cy="809.20" r="1.55" fill="#88CE89"/><circle cx="509.78" cy="809.20" r="1.55" fill="#88CE89"/><circle cx="515.39" cy="809.20" r="1.55" fill="#88CE89"/><circle cx="521.01" cy="809.20" r="1.55" fill="#88CE89"/><circle cx="526.62" cy="809.20" r="1.55" fill="#88CE89"/><circle cx="532.24" cy="809.20" r="1.55" fill="#88CE89"/><circle cx="537.85" cy="809.20" r="1.55" fill="#88CE89"/><circle cx="543.46" cy="809.20" r="1.55" fill="#88CE89"/><circle cx="549.08" cy="809.20" r="1.55" fill="#88CE89"/><circle cx="554.69" cy="809.20" r="1.55" fill="#88CE89"/><circle cx="560.31" cy="809.20" r="1.55" fill="#88CE89"/><circle cx="565.92" cy="809.20" r="1.55" fill="#88CE89"/><circle cx="571.53" cy="809.20" r="1.55" fill="#88CE89"/><circle cx="577.15" cy="809.20" r="1.55" fill="#88CE89"/><circle cx="582.76" cy="809.20" r="1.55" fill="#88CE89"/><circle cx="588.38" cy="809.20" r="1.55" fill="#88CE89"/><circle cx="593.99" cy="809.20" r="1.55" fill="#88CE89"/><circle cx="599.60" cy="809.20" r="1.55" fill="#88CE89"/><circle cx="605.22" cy="809.20" r="1.55" fill="#88CE89"/><circle cx="610.83" cy="809.20" r="1.55" fill="#88CE89"/><circle cx="616.45" cy="809.20" r="1.55" fill="#88CE89"/><circle cx="622.06" cy="809.20" r="1.55" fill="#88CE89"/><circle cx="627.67" cy="809.20" r="1.55" fill="#88CE89"/><circle cx="633.29" cy="809.20" r="1.55" fill="#88CE89"/><circle cx="638.90" cy="809.20" r="1.55" fill="#88CE89"/><circle cx="644.52" cy="809.20" r="1.55" fill="#88CE89"/><circle cx="650.13" cy="809.20" r="1.55" fill="#88CE89"/><circle cx="655.74" cy="809.20" r="1.55" fill="#88CE89"/><circle cx="661.36" cy="809.20" r="1.55" fill="#88CE89"/><circle cx="666.97" cy="809.20" r="1.55" fill="#88CE89"/><circle cx="672.59" cy="809.20" r="1.55" fill="#88CE89"/><circle cx="678.20" cy="809.20" r="1.55" fill="#88CE89"/>
<path d="M116.80,809.20M122.41,809.20M128.03,809.20M133.64,809.20M139.26,809.20M144.87,809.20M150.48,809.20M156.10,809.20M161.71,809.20M167.33,809.20M172.94,809.20M178.55,809.20M184.17,809.20M189.78,809.20M195.40,809.20M201.01,809.20M206.62,809.20M212.24,809.20L217.85,808.20L223.47,807.40L229.08,806.90L234.69,806.90L240.31,806.60L245.92,806.20L251.54,806.20L257.15,806.20L262.76,806.60L268.38,805.20L273.99,803.10L279.61,803.10L285.22,803.10L290.83,801.30L296.45,801.30L302.06,799.20L307.68,801.70L313.29,797.50L318.90,791.70L324.52,791.30L330.13,795.70L335.75,795.70L341.36,798.30L346.97,798.70L352.59,794.50L358.20,791.00L363.82,796.20L369.43,795.20L375.04,797.50L380.66,796.60L386.27,797.50L391.89,792.70L397.50,787.50L403.11,791.70L408.73,790.50L414.34,796.90L419.96,786.70L425.57,789.30L431.18,793.40L436.80,793.40L442.41,783.30L448.03,788.20L453.64,780.10L459.25,770.10L464.87,783.30L470.48,782.40L476.10,788.90L481.71,779.40L487.32,791.70L492.94,788.90L498.55,780.10L504.17,773.10L509.78,788.20L515.39,771.40L521.01,788.90L526.62,781.50L532.24,781.20L537.85,783.20L543.46,777.30L549.08,789.60L554.69,782.00L560.31,765.80L565.92,775.60L571.53,785.00L577.15,775.00L582.76,767.50L588.38,764.00L593.99,759.30L599.60,752.60L605.22,767.20L610.83,787.70L616.45,756.00L622.06,769.20L627.67,743.80L633.29,764.20L638.90,768.90L644.52,772.20L650.13,749.40L655.74,760.60L661.36,752.70L666.97,752.10L672.59,749.40L678.20,781.90" fill="none" stroke="#C5B6E0" stroke-width="1.0" stroke-linejoin="round"/>
<path d="M116.80,807.40L118.60,810.55L115.00,810.55Z" fill="#B8A6DA"/><path d="M122.41,807.40L124.21,810.55L120.61,810.55Z" fill="#B8A6DA"/><path d="M128.03,807.40L129.83,810.55L126.23,810.55Z" fill="#B8A6DA"/><path d="M133.64,807.40L135.44,810.55L131.84,810.55Z" fill="#B8A6DA"/><path d="M139.26,807.40L141.06,810.55L137.46,810.55Z" fill="#B8A6DA"/><path d="M144.87,807.40L146.67,810.55L143.07,810.55Z" fill="#B8A6DA"/><path d="M150.48,807.40L152.28,810.55L148.68,810.55Z" fill="#B8A6DA"/><path d="M156.10,807.40L157.90,810.55L154.30,810.55Z" fill="#B8A6DA"/><path d="M161.71,807.40L163.51,810.55L159.91,810.55Z" fill="#B8A6DA"/><path d="M167.33,807.40L169.13,810.55L165.53,810.55Z" fill="#B8A6DA"/><path d="M172.94,807.40L174.74,810.55L171.14,810.55Z" fill="#B8A6DA"/><path d="M178.55,807.40L180.35,810.55L176.75,810.55Z" fill="#B8A6DA"/><path d="M184.17,807.40L185.97,810.55L182.37,810.55Z" fill="#B8A6DA"/><path d="M189.78,807.40L191.58,810.55L187.98,810.55Z" fill="#B8A6DA"/><path d="M195.40,807.40L197.20,810.55L193.60,810.55Z" fill="#B8A6DA"/><path d="M201.01,807.40L202.81,810.55L199.21,810.55Z" fill="#B8A6DA"/><path d="M206.62,807.40L208.42,810.55L204.82,810.55Z" fill="#B8A6DA"/><path d="M212.24,807.40L214.04,810.55L210.44,810.55Z" fill="#B8A6DA"/><path d="M217.85,806.40L219.65,809.55L216.05,809.55Z" fill="#B8A6DA"/><path d="M223.47,805.60L225.27,808.75L221.67,808.75Z" fill="#B8A6DA"/><path d="M229.08,805.10L230.88,808.25L227.28,808.25Z" fill="#B8A6DA"/><path d="M234.69,805.10L236.49,808.25L232.89,808.25Z" fill="#B8A6DA"/><path d="M240.31,804.80L242.11,807.95L238.51,807.95Z" fill="#B8A6DA"/><path d="M245.92,804.40L247.72,807.55L244.12,807.55Z" fill="#B8A6DA"/><path d="M251.54,804.40L253.34,807.55L249.74,807.55Z" fill="#B8A6DA"/><path d="M257.15,804.40L258.95,807.55L255.35,807.55Z" fill="#B8A6DA"/><path d="M262.76,804.80L264.56,807.95L260.96,807.95Z" fill="#B8A6DA"/><path d="M268.38,803.40L270.18,806.55L266.58,806.55Z" fill="#B8A6DA"/><path d="M273.99,801.30L275.79,804.45L272.19,804.45Z" fill="#B8A6DA"/><path d="M279.61,801.30L281.41,804.45L277.81,804.45Z" fill="#B8A6DA"/><path d="M285.22,801.30L287.02,804.45L283.42,804.45Z" fill="#B8A6DA"/><path d="M290.83,799.50L292.63,802.65L289.03,802.65Z" fill="#B8A6DA"/><path d="M296.45,799.50L298.25,802.65L294.65,802.65Z" fill="#B8A6DA"/><path d="M302.06,797.40L303.86,800.55L300.26,800.55Z" fill="#B8A6DA"/><path d="M307.68,799.90L309.48,803.05L305.88,803.05Z" fill="#B8A6DA"/><path d="M313.29,795.70L315.09,798.85L311.49,798.85Z" fill="#B8A6DA"/><path d="M318.90,789.90L320.70,793.05L317.10,793.05Z" fill="#B8A6DA"/><path d="M324.52,789.50L326.32,792.65L322.72,792.65Z" fill="#B8A6DA"/><path d="M330.13,793.90L331.93,797.05L328.33,797.05Z" fill="#B8A6DA"/><path d="M335.75,793.90L337.55,797.05L333.95,797.05Z" fill="#B8A6DA"/><path d="M341.36,796.50L343.16,799.65L339.56,799.65Z" fill="#B8A6DA"/><path d="M346.97,796.90L348.77,800.05L345.17,800.05Z" fill="#B8A6DA"/><path d="M352.59,792.70L354.39,795.85L350.79,795.85Z" fill="#B8A6DA"/><path d="M358.20,789.20L360.00,792.35L356.40,792.35Z" fill="#B8A6DA"/><path d="M363.82,794.40L365.62,797.55L362.02,797.55Z" fill="#B8A6DA"/><path d="M369.43,793.40L371.23,796.55L367.63,796.55Z" fill="#B8A6DA"/><path d="M375.04,795.70L376.84,798.85L373.24,798.85Z" fill="#B8A6DA"/><path d="M380.66,794.80L382.46,797.95L378.86,797.95Z" fill="#B8A6DA"/><path d="M386.27,795.70L388.07,798.85L384.47,798.85Z" fill="#B8A6DA"/><path d="M391.89,790.90L393.69,794.05L390.09,794.05Z" fill="#B8A6DA"/><path d="M397.50,785.70L399.30,788.85L395.70,788.85Z" fill="#B8A6DA"/><path d="M403.11,789.90L404.91,793.05L401.31,793.05Z" fill="#B8A6DA"/><path d="M408.73,788.70L410.53,791.85L406.93,791.85Z" fill="#B8A6DA"/><path d="M414.34,795.10L416.14,798.25L412.54,798.25Z" fill="#B8A6DA"/><path d="M419.96,784.90L421.76,788.05L418.16,788.05Z" fill="#B8A6DA"/><path d="M425.57,787.50L427.37,790.65L423.77,790.65Z" fill="#B8A6DA"/><path d="M431.18,791.60L432.98,794.75L429.38,794.75Z" fill="#B8A6DA"/><path d="M436.80,791.60L438.60,794.75L435.00,794.75Z" fill="#B8A6DA"/><path d="M442.41,781.50L444.21,784.65L440.61,784.65Z" fill="#B8A6DA"/><path d="M448.03,786.40L449.83,789.55L446.23,789.55Z" fill="#B8A6DA"/><path d="M453.64,778.30L455.44,781.45L451.84,781.45Z" fill="#B8A6DA"/><path d="M459.25,768.30L461.05,771.45L457.45,771.45Z" fill="#B8A6DA"/><path d="M464.87,781.50L466.67,784.65L463.07,784.65Z" fill="#B8A6DA"/><path d="M470.48,780.60L472.28,783.75L468.68,783.75Z" fill="#B8A6DA"/><path d="M476.10,787.10L477.90,790.25L474.30,790.25Z" fill="#B8A6DA"/><path d="M481.71,777.60L483.51,780.75L479.91,780.75Z" fill="#B8A6DA"/><path d="M487.32,789.90L489.12,793.05L485.52,793.05Z" fill="#B8A6DA"/><path d="M492.94,787.10L494.74,790.25L491.14,790.25Z" fill="#B8A6DA"/><path d="M498.55,778.30L500.35,781.45L496.75,781.45Z" fill="#B8A6DA"/><path d="M504.17,771.30L505.97,774.45L502.37,774.45Z" fill="#B8A6DA"/><path d="M509.78,786.40L511.58,789.55L507.98,789.55Z" fill="#B8A6DA"/><path d="M515.39,769.60L517.19,772.75L513.59,772.75Z" fill="#B8A6DA"/><path d="M521.01,787.10L522.81,790.25L519.21,790.25Z" fill="#B8A6DA"/><path d="M526.62,779.70L528.42,782.85L524.82,782.85Z" fill="#B8A6DA"/><path d="M532.24,779.40L534.04,782.55L530.44,782.55Z" fill="#B8A6DA"/><path d="M537.85,781.40L539.65,784.55L536.05,784.55Z" fill="#B8A6DA"/><path d="M543.46,775.50L545.26,778.65L541.66,778.65Z" fill="#B8A6DA"/><path d="M549.08,787.80L550.88,790.95L547.28,790.95Z" fill="#B8A6DA"/><path d="M554.69,780.20L556.49,783.35L552.89,783.35Z" fill="#B8A6DA"/><path d="M560.31,764.00L562.11,767.15L558.51,767.15Z" fill="#B8A6DA"/><path d="M565.92,773.80L567.72,776.95L564.12,776.95Z" fill="#B8A6DA"/><path d="M571.53,783.20L573.33,786.35L569.73,786.35Z" fill="#B8A6DA"/><path d="M577.15,773.20L578.95,776.35L575.35,776.35Z" fill="#B8A6DA"/><path d="M582.76,765.70L584.56,768.85L580.96,768.85Z" fill="#B8A6DA"/><path d="M588.38,762.20L590.18,765.35L586.58,765.35Z" fill="#B8A6DA"/><path d="M593.99,757.50L595.79,760.65L592.19,760.65Z" fill="#B8A6DA"/><path d="M599.60,750.80L601.40,753.95L597.80,753.95Z" fill="#B8A6DA"/><path d="M605.22,765.40L607.02,768.55L603.42,768.55Z" fill="#B8A6DA"/><path d="M610.83,785.90L612.63,789.05L609.03,789.05Z" fill="#B8A6DA"/><path d="M616.45,754.20L618.25,757.35L614.65,757.35Z" fill="#B8A6DA"/><path d="M622.06,767.40L623.86,770.55L620.26,770.55Z" fill="#B8A6DA"/><path d="M627.67,742.00L629.47,745.15L625.87,745.15Z" fill="#B8A6DA"/><path d="M633.29,762.40L635.09,765.55L631.49,765.55Z" fill="#B8A6DA"/><path d="M638.90,767.10L640.70,770.25L637.10,770.25Z" fill="#B8A6DA"/><path d="M644.52,770.40L646.32,773.55L642.72,773.55Z" fill="#B8A6DA"/><path d="M650.13,747.60L651.93,750.75L648.33,750.75Z" fill="#B8A6DA"/><path d="M655.74,758.80L657.54,761.95L653.94,761.95Z" fill="#B8A6DA"/><path d="M661.36,750.90L663.16,754.05L659.56,754.05Z" fill="#B8A6DA"/><path d="M666.97,750.30L668.77,753.45L665.17,753.45Z" fill="#B8A6DA"/><path d="M672.59,747.60L674.39,750.75L670.79,750.75Z" fill="#B8A6DA"/><path d="M678.20,780.10L680.00,783.25L676.40,783.25Z" fill="#B8A6DA"/>
<path d="M116.80,809.20M122.41,809.20M128.03,809.20M133.64,809.20M139.26,809.20M144.87,809.20M150.48,809.20M156.10,809.20M161.71,809.20M167.33,809.20M172.94,809.20M178.55,809.20M184.17,809.20M189.78,809.20M195.40,809.20M201.01,809.20M206.62,809.20M212.24,809.20M217.85,809.20M223.47,809.20M229.08,809.20M234.69,809.20M240.31,809.20M245.92,809.20M251.54,809.20M257.15,809.20M262.76,809.20M268.38,809.20M273.99,809.20M279.61,809.20M285.22,809.20M290.83,809.20M296.45,809.20M302.06,809.20M307.68,809.20M313.29,809.20M318.90,809.20M324.52,809.20M330.13,809.20M335.75,809.20M341.36,809.20M346.97,809.20M352.59,809.20M358.20,809.20L363.82,807.10L369.43,808.00L375.04,808.70L380.66,805.70L386.27,808.00L391.89,808.50L397.50,796.20L403.11,802.70L408.73,801.80L414.34,805.70L419.96,796.90L425.57,801.80L431.18,802.50L436.80,803.90L442.41,806.40L448.03,806.40L453.64,805.70L459.25,803.40L464.87,802.90L470.48,803.90L476.10,795.90L481.71,799.90L487.32,803.90L492.94,806.00L498.55,806.40L504.17,796.90L509.78,800.40L515.39,802.90L521.01,804.30L526.62,803.40L532.24,801.50L537.85,795.00L543.46,793.40L549.08,794.30L554.69,794.80L560.31,791.30L565.92,789.60L571.53,786.10L577.15,794.80L582.76,796.10L588.38,795.50L593.99,793.10L599.60,791.20L605.22,791.20L610.83,788.70L616.45,790.40L622.06,786.80L627.67,790.00L633.29,777.00L638.90,773.80L644.52,789.10L650.13,782.90L655.74,778.80L661.36,767.30L666.97,768.00L672.59,775.70L678.20,778.80" fill="none" stroke="#8FB3F3" stroke-width="1.0" stroke-linejoin="round"/>
<path d="M116.80,811.00L118.60,807.85L115.00,807.85Z" fill="#84ABF2"/><path d="M122.41,811.00L124.21,807.85L120.61,807.85Z" fill="#84ABF2"/><path d="M128.03,811.00L129.83,807.85L126.23,807.85Z" fill="#84ABF2"/><path d="M133.64,811.00L135.44,807.85L131.84,807.85Z" fill="#84ABF2"/><path d="M139.26,811.00L141.06,807.85L137.46,807.85Z" fill="#84ABF2"/><path d="M144.87,811.00L146.67,807.85L143.07,807.85Z" fill="#84ABF2"/><path d="M150.48,811.00L152.28,807.85L148.68,807.85Z" fill="#84ABF2"/><path d="M156.10,811.00L157.90,807.85L154.30,807.85Z" fill="#84ABF2"/><path d="M161.71,811.00L163.51,807.85L159.91,807.85Z" fill="#84ABF2"/><path d="M167.33,811.00L169.13,807.85L165.53,807.85Z" fill="#84ABF2"/><path d="M172.94,811.00L174.74,807.85L171.14,807.85Z" fill="#84ABF2"/><path d="M178.55,811.00L180.35,807.85L176.75,807.85Z" fill="#84ABF2"/><path d="M184.17,811.00L185.97,807.85L182.37,807.85Z" fill="#84ABF2"/><path d="M189.78,811.00L191.58,807.85L187.98,807.85Z" fill="#84ABF2"/><path d="M195.40,811.00L197.20,807.85L193.60,807.85Z" fill="#84ABF2"/><path d="M201.01,811.00L202.81,807.85L199.21,807.85Z" fill="#84ABF2"/><path d="M206.62,811.00L208.42,807.85L204.82,807.85Z" fill="#84ABF2"/><path d="M212.24,811.00L214.04,807.85L210.44,807.85Z" fill="#84ABF2"/><path d="M217.85,811.00L219.65,807.85L216.05,807.85Z" fill="#84ABF2"/><path d="M223.47,811.00L225.27,807.85L221.67,807.85Z" fill="#84ABF2"/><path d="M229.08,811.00L230.88,807.85L227.28,807.85Z" fill="#84ABF2"/><path d="M234.69,811.00L236.49,807.85L232.89,807.85Z" fill="#84ABF2"/><path d="M240.31,811.00L242.11,807.85L238.51,807.85Z" fill="#84ABF2"/><path d="M245.92,811.00L247.72,807.85L244.12,807.85Z" fill="#84ABF2"/><path d="M251.54,811.00L253.34,807.85L249.74,807.85Z" fill="#84ABF2"/><path d="M257.15,811.00L258.95,807.85L255.35,807.85Z" fill="#84ABF2"/><path d="M262.76,811.00L264.56,807.85L260.96,807.85Z" fill="#84ABF2"/><path d="M268.38,811.00L270.18,807.85L266.58,807.85Z" fill="#84ABF2"/><path d="M273.99,811.00L275.79,807.85L272.19,807.85Z" fill="#84ABF2"/><path d="M279.61,811.00L281.41,807.85L277.81,807.85Z" fill="#84ABF2"/><path d="M285.22,811.00L287.02,807.85L283.42,807.85Z" fill="#84ABF2"/><path d="M290.83,811.00L292.63,807.85L289.03,807.85Z" fill="#84ABF2"/><path d="M296.45,811.00L298.25,807.85L294.65,807.85Z" fill="#84ABF2"/><path d="M302.06,811.00L303.86,807.85L300.26,807.85Z" fill="#84ABF2"/><path d="M307.68,811.00L309.48,807.85L305.88,807.85Z" fill="#84ABF2"/><path d="M313.29,811.00L315.09,807.85L311.49,807.85Z" fill="#84ABF2"/><path d="M318.90,811.00L320.70,807.85L317.10,807.85Z" fill="#84ABF2"/><path d="M324.52,811.00L326.32,807.85L322.72,807.85Z" fill="#84ABF2"/><path d="M330.13,811.00L331.93,807.85L328.33,807.85Z" fill="#84ABF2"/><path d="M335.75,811.00L337.55,807.85L333.95,807.85Z" fill="#84ABF2"/><path d="M341.36,811.00L343.16,807.85L339.56,807.85Z" fill="#84ABF2"/><path d="M346.97,811.00L348.77,807.85L345.17,807.85Z" fill="#84ABF2"/><path d="M352.59,811.00L354.39,807.85L350.79,807.85Z" fill="#84ABF2"/><path d="M358.20,811.00L360.00,807.85L356.40,807.85Z" fill="#84ABF2"/><path d="M363.82,808.90L365.62,805.75L362.02,805.75Z" fill="#84ABF2"/><path d="M369.43,809.80L371.23,806.65L367.63,806.65Z" fill="#84ABF2"/><path d="M375.04,810.50L376.84,807.35L373.24,807.35Z" fill="#84ABF2"/><path d="M380.66,807.50L382.46,804.35L378.86,804.35Z" fill="#84ABF2"/><path d="M386.27,809.80L388.07,806.65L384.47,806.65Z" fill="#84ABF2"/><path d="M391.89,810.30L393.69,807.15L390.09,807.15Z" fill="#84ABF2"/><path d="M397.50,798.00L399.30,794.85L395.70,794.85Z" fill="#84ABF2"/><path d="M403.11,804.50L404.91,801.35L401.31,801.35Z" fill="#84ABF2"/><path d="M408.73,803.60L410.53,800.45L406.93,800.45Z" fill="#84ABF2"/><path d="M414.34,807.50L416.14,804.35L412.54,804.35Z" fill="#84ABF2"/><path d="M419.96,798.70L421.76,795.55L418.16,795.55Z" fill="#84ABF2"/><path d="M425.57,803.60L427.37,800.45L423.77,800.45Z" fill="#84ABF2"/><path d="M431.18,804.30L432.98,801.15L429.38,801.15Z" fill="#84ABF2"/><path d="M436.80,805.70L438.60,802.55L435.00,802.55Z" fill="#84ABF2"/><path d="M442.41,808.20L444.21,805.05L440.61,805.05Z" fill="#84ABF2"/><path d="M448.03,808.20L449.83,805.05L446.23,805.05Z" fill="#84ABF2"/><path d="M453.64,807.50L455.44,804.35L451.84,804.35Z" fill="#84ABF2"/><path d="M459.25,805.20L461.05,802.05L457.45,802.05Z" fill="#84ABF2"/><path d="M464.87,804.70L466.67,801.55L463.07,801.55Z" fill="#84ABF2"/><path d="M470.48,805.70L472.28,802.55L468.68,802.55Z" fill="#84ABF2"/><path d="M476.10,797.70L477.90,794.55L474.30,794.55Z" fill="#84ABF2"/><path d="M481.71,801.70L483.51,798.55L479.91,798.55Z" fill="#84ABF2"/><path d="M487.32,805.70L489.12,802.55L485.52,802.55Z" fill="#84ABF2"/><path d="M492.94,807.80L494.74,804.65L491.14,804.65Z" fill="#84ABF2"/><path d="M498.55,808.20L500.35,805.05L496.75,805.05Z" fill="#84ABF2"/><path d="M504.17,798.70L505.97,795.55L502.37,795.55Z" fill="#84ABF2"/><path d="M509.78,802.20L511.58,799.05L507.98,799.05Z" fill="#84ABF2"/><path d="M515.39,804.70L517.19,801.55L513.59,801.55Z" fill="#84ABF2"/><path d="M521.01,806.10L522.81,802.95L519.21,802.95Z" fill="#84ABF2"/><path d="M526.62,805.20L528.42,802.05L524.82,802.05Z" fill="#84ABF2"/><path d="M532.24,803.30L534.04,800.15L530.44,800.15Z" fill="#84ABF2"/><path d="M537.85,796.80L539.65,793.65L536.05,793.65Z" fill="#84ABF2"/><path d="M543.46,795.20L545.26,792.05L541.66,792.05Z" fill="#84ABF2"/><path d="M549.08,796.10L550.88,792.95L547.28,792.95Z" fill="#84ABF2"/><path d="M554.69,796.60L556.49,793.45L552.89,793.45Z" fill="#84ABF2"/><path d="M560.31,793.10L562.11,789.95L558.51,789.95Z" fill="#84ABF2"/><path d="M565.92,791.40L567.72,788.25L564.12,788.25Z" fill="#84ABF2"/><path d="M571.53,787.90L573.33,784.75L569.73,784.75Z" fill="#84ABF2"/><path d="M577.15,796.60L578.95,793.45L575.35,793.45Z" fill="#84ABF2"/><path d="M582.76,797.90L584.56,794.75L580.96,794.75Z" fill="#84ABF2"/><path d="M588.38,797.30L590.18,794.15L586.58,794.15Z" fill="#84ABF2"/><path d="M593.99,794.90L595.79,791.75L592.19,791.75Z" fill="#84ABF2"/><path d="M599.60,793.00L601.40,789.85L597.80,789.85Z" fill="#84ABF2"/><path d="M605.22,793.00L607.02,789.85L603.42,789.85Z" fill="#84ABF2"/><path d="M610.83,790.50L612.63,787.35L609.03,787.35Z" fill="#84ABF2"/><path d="M616.45,792.20L618.25,789.05L614.65,789.05Z" fill="#84ABF2"/><path d="M622.06,788.60L623.86,785.45L620.26,785.45Z" fill="#84ABF2"/><path d="M627.67,791.80L629.47,788.65L625.87,788.65Z" fill="#84ABF2"/><path d="M633.29,778.80L635.09,775.65L631.49,775.65Z" fill="#84ABF2"/><path d="M638.90,775.60L640.70,772.45L637.10,772.45Z" fill="#84ABF2"/><path d="M644.52,790.90L646.32,787.75L642.72,787.75Z" fill="#84ABF2"/><path d="M650.13,784.70L651.93,781.55L648.33,781.55Z" fill="#84ABF2"/><path d="M655.74,780.60L657.54,777.45L653.94,777.45Z" fill="#84ABF2"/><path d="M661.36,769.10L663.16,765.95L659.56,765.95Z" fill="#84ABF2"/><path d="M666.97,769.80L668.77,766.65L665.17,766.65Z" fill="#84ABF2"/><path d="M672.59,777.50L674.39,774.35L670.79,774.35Z" fill="#84ABF2"/><path d="M678.20,780.60L680.00,777.45L676.40,777.45Z" fill="#84ABF2"/>
<path d="M116.80,907.00M122.41,907.00M128.03,907.00M133.64,907.00M139.26,907.00M144.87,907.00M150.48,907.00M156.10,907.00M161.71,907.00M167.33,907.00M172.94,907.00M178.55,907.00M184.17,907.00M189.78,907.00M195.40,907.00M201.01,907.00M206.62,907.00M212.24,907.00M217.85,907.00M223.47,907.00M229.08,907.00M234.69,907.00M240.31,907.00M245.92,907.00M251.54,907.00M257.15,907.00M262.76,907.00M268.38,907.00M273.99,907.00M279.61,907.00M285.22,907.00M290.83,907.00M296.45,907.00M302.06,907.00M307.68,907.00M313.29,907.00M318.90,907.00M324.52,907.00M330.13,907.00M335.75,907.00M341.36,907.00M346.97,907.00M352.59,907.00M358.20,907.00M363.82,907.00M369.43,907.00L375.04,906.30L380.66,904.50L386.27,905.20L391.89,905.20L397.50,905.20L403.11,904.50L408.73,904.50L414.34,903.50L419.96,902.80L425.57,901.70L431.18,901.40L436.80,901.70L442.41,902.30L448.03,901.70L453.64,900.50L459.25,899.00L464.87,898.50L470.48,897.90L476.10,897.70L481.71,897.40L487.32,896.00L492.94,894.70L498.55,893.90L504.17,893.50L509.78,891.80L515.39,890.00L521.01,888.30L526.62,886.90L532.24,885.50L537.85,886.50L543.46,885.10L549.08,883.70L554.69,883.00L560.31,881.90L565.92,879.80L571.53,876.80L577.15,875.50L582.76,875.80L588.38,874.10L593.99,874.60L599.60,873.40L605.22,871.20L610.83,872.10L616.45,870.10L622.06,869.10L627.67,866.20L633.29,864.00L638.90,862.30L644.52,863.70L650.13,860.70L655.74,857.80L661.36,855.60L666.97,854.00L672.59,853.30L678.20,854.00" fill="none" stroke="#F9C796" stroke-width="1.0" stroke-linejoin="round"/>
<rect x="115.45" y="905.65" width="2.70" height="2.70" fill="#F8BC82"/><rect x="121.06" y="905.65" width="2.70" height="2.70" fill="#F8BC82"/><rect x="126.68" y="905.65" width="2.70" height="2.70" fill="#F8BC82"/><rect x="132.29" y="905.65" width="2.70" height="2.70" fill="#F8BC82"/><rect x="137.91" y="905.65" width="2.70" height="2.70" fill="#F8BC82"/><rect x="143.52" y="905.65" width="2.70" height="2.70" fill="#F8BC82"/><rect x="149.13" y="905.65" width="2.70" height="2.70" fill="#F8BC82"/><rect x="154.75" y="905.65" width="2.70" height="2.70" fill="#F8BC82"/><rect x="160.36" y="905.65" width="2.70" height="2.70" fill="#F8BC82"/><rect x="165.98" y="905.65" width="2.70" height="2.70" fill="#F8BC82"/><rect x="171.59" y="905.65" width="2.70" height="2.70" fill="#F8BC82"/><rect x="177.20" y="905.65" width="2.70" height="2.70" fill="#F8BC82"/><rect x="182.82" y="905.65" width="2.70" height="2.70" fill="#F8BC82"/><rect x="188.43" y="905.65" width="2.70" height="2.70" fill="#F8BC82"/><rect x="194.05" y="905.65" width="2.70" height="2.70" fill="#F8BC82"/><rect x="199.66" y="905.65" width="2.70" height="2.70" fill="#F8BC82"/><rect x="205.27" y="905.65" width="2.70" height="2.70" fill="#F8BC82"/><rect x="210.89" y="905.65" width="2.70" height="2.70" fill="#F8BC82"/><rect x="216.50" y="905.65" width="2.70" height="2.70" fill="#F8BC82"/><rect x="222.12" y="905.65" width="2.70" height="2.70" fill="#F8BC82"/><rect x="227.73" y="905.65" width="2.70" height="2.70" fill="#F8BC82"/><rect x="233.34" y="905.65" width="2.70" height="2.70" fill="#F8BC82"/><rect x="238.96" y="905.65" width="2.70" height="2.70" fill="#F8BC82"/><rect x="244.57" y="905.65" width="2.70" height="2.70" fill="#F8BC82"/><rect x="250.19" y="905.65" width="2.70" height="2.70" fill="#F8BC82"/><rect x="255.80" y="905.65" width="2.70" height="2.70" fill="#F8BC82"/><rect x="261.41" y="905.65" width="2.70" height="2.70" fill="#F8BC82"/><rect x="267.03" y="905.65" width="2.70" height="2.70" fill="#F8BC82"/><rect x="272.64" y="905.65" width="2.70" height="2.70" fill="#F8BC82"/><rect x="278.26" y="905.65" width="2.70" height="2.70" fill="#F8BC82"/><rect x="283.87" y="905.65" width="2.70" height="2.70" fill="#F8BC82"/><rect x="289.48" y="905.65" width="2.70" height="2.70" fill="#F8BC82"/><rect x="295.10" y="905.65" width="2.70" height="2.70" fill="#F8BC82"/><rect x="300.71" y="905.65" width="2.70" height="2.70" fill="#F8BC82"/><rect x="306.33" y="905.65" width="2.70" height="2.70" fill="#F8BC82"/><rect x="311.94" y="905.65" width="2.70" height="2.70" fill="#F8BC82"/><rect x="317.55" y="905.65" width="2.70" height="2.70" fill="#F8BC82"/><rect x="323.17" y="905.65" width="2.70" height="2.70" fill="#F8BC82"/><rect x="328.78" y="905.65" width="2.70" height="2.70" fill="#F8BC82"/><rect x="334.40" y="905.65" width="2.70" height="2.70" fill="#F8BC82"/><rect x="340.01" y="905.65" width="2.70" height="2.70" fill="#F8BC82"/><rect x="345.62" y="905.65" width="2.70" height="2.70" fill="#F8BC82"/><rect x="351.24" y="905.65" width="2.70" height="2.70" fill="#F8BC82"/><rect x="356.85" y="905.65" width="2.70" height="2.70" fill="#F8BC82"/><rect x="362.47" y="905.65" width="2.70" height="2.70" fill="#F8BC82"/><rect x="368.08" y="905.65" width="2.70" height="2.70" fill="#F8BC82"/><rect x="373.69" y="904.95" width="2.70" height="2.70" fill="#F8BC82"/><rect x="379.31" y="903.15" width="2.70" height="2.70" fill="#F8BC82"/><rect x="384.92" y="903.85" width="2.70" height="2.70" fill="#F8BC82"/><rect x="390.54" y="903.85" width="2.70" height="2.70" fill="#F8BC82"/><rect x="396.15" y="903.85" width="2.70" height="2.70" fill="#F8BC82"/><rect x="401.76" y="903.15" width="2.70" height="2.70" fill="#F8BC82"/><rect x="407.38" y="903.15" width="2.70" height="2.70" fill="#F8BC82"/><rect x="412.99" y="902.15" width="2.70" height="2.70" fill="#F8BC82"/><rect x="418.61" y="901.45" width="2.70" height="2.70" fill="#F8BC82"/><rect x="424.22" y="900.35" width="2.70" height="2.70" fill="#F8BC82"/><rect x="429.83" y="900.05" width="2.70" height="2.70" fill="#F8BC82"/><rect x="435.45" y="900.35" width="2.70" height="2.70" fill="#F8BC82"/><rect x="441.06" y="900.95" width="2.70" height="2.70" fill="#F8BC82"/><rect x="446.68" y="900.35" width="2.70" height="2.70" fill="#F8BC82"/><rect x="452.29" y="899.15" width="2.70" height="2.70" fill="#F8BC82"/><rect x="457.90" y="897.65" width="2.70" height="2.70" fill="#F8BC82"/><rect x="463.52" y="897.15" width="2.70" height="2.70" fill="#F8BC82"/><rect x="469.13" y="896.55" width="2.70" height="2.70" fill="#F8BC82"/><rect x="474.75" y="896.35" width="2.70" height="2.70" fill="#F8BC82"/><rect x="480.36" y="896.05" width="2.70" height="2.70" fill="#F8BC82"/><rect x="485.97" y="894.65" width="2.70" height="2.70" fill="#F8BC82"/><rect x="491.59" y="893.35" width="2.70" height="2.70" fill="#F8BC82"/><rect x="497.20" y="892.55" width="2.70" height="2.70" fill="#F8BC82"/><rect x="502.82" y="892.15" width="2.70" height="2.70" fill="#F8BC82"/><rect x="508.43" y="890.45" width="2.70" height="2.70" fill="#F8BC82"/><rect x="514.04" y="888.65" width="2.70" height="2.70" fill="#F8BC82"/><rect x="519.66" y="886.95" width="2.70" height="2.70" fill="#F8BC82"/><rect x="525.27" y="885.55" width="2.70" height="2.70" fill="#F8BC82"/><rect x="530.89" y="884.15" width="2.70" height="2.70" fill="#F8BC82"/><rect x="536.50" y="885.15" width="2.70" height="2.70" fill="#F8BC82"/><rect x="542.11" y="883.75" width="2.70" height="2.70" fill="#F8BC82"/><rect x="547.73" y="882.35" width="2.70" height="2.70" fill="#F8BC82"/><rect x="553.34" y="881.65" width="2.70" height="2.70" fill="#F8BC82"/><rect x="558.96" y="880.55" width="2.70" height="2.70" fill="#F8BC82"/><rect x="564.57" y="878.45" width="2.70" height="2.70" fill="#F8BC82"/><rect x="570.18" y="875.45" width="2.70" height="2.70" fill="#F8BC82"/><rect x="575.80" y="874.15" width="2.70" height="2.70" fill="#F8BC82"/><rect x="581.41" y="874.45" width="2.70" height="2.70" fill="#F8BC82"/><rect x="587.03" y="872.75" width="2.70" height="2.70" fill="#F8BC82"/><rect x="592.64" y="873.25" width="2.70" height="2.70" fill="#F8BC82"/><rect x="598.25" y="872.05" width="2.70" height="2.70" fill="#F8BC82"/><rect x="603.87" y="869.85" width="2.70" height="2.70" fill="#F8BC82"/><rect x="609.48" y="870.75" width="2.70" height="2.70" fill="#F8BC82"/><rect x="615.10" y="868.75" width="2.70" height="2.70" fill="#F8BC82"/><rect x="620.71" y="867.75" width="2.70" height="2.70" fill="#F8BC82"/><rect x="626.32" y="864.85" width="2.70" height="2.70" fill="#F8BC82"/><rect x="631.94" y="862.65" width="2.70" height="2.70" fill="#F8BC82"/><rect x="637.55" y="860.95" width="2.70" height="2.70" fill="#F8BC82"/><rect x="643.17" y="862.35" width="2.70" height="2.70" fill="#F8BC82"/><rect x="648.78" y="859.35" width="2.70" height="2.70" fill="#F8BC82"/><rect x="654.39" y="856.45" width="2.70" height="2.70" fill="#F8BC82"/><rect x="660.01" y="854.25" width="2.70" height="2.70" fill="#F8BC82"/><rect x="665.62" y="852.65" width="2.70" height="2.70" fill="#F8BC82"/><rect x="671.24" y="851.95" width="2.70" height="2.70" fill="#F8BC82"/><rect x="676.85" y="852.65" width="2.70" height="2.70" fill="#F8BC82"/>
<path d="M116.80,907.00M122.41,907.00M128.03,907.00M133.64,907.00M139.26,907.00M144.87,907.00M150.48,907.00M156.10,907.00M161.71,907.00M167.33,907.00M172.94,907.00M178.55,907.00M184.17,907.00M189.78,907.00M195.40,907.00M201.01,907.00M206.62,907.00M212.24,907.00M217.85,907.00M223.47,907.00M229.08,907.00M234.69,907.00M240.31,907.00M245.92,907.00M251.54,907.00M257.15,907.00M262.76,907.00M268.38,907.00M273.99,907.00M279.61,907.00M285.22,907.00M290.83,907.00M296.45,907.00M302.06,907.00M307.68,907.00M313.29,907.00M318.90,907.00M324.52,907.00M330.13,907.00M335.75,907.00M341.36,907.00M346.97,907.00M352.59,907.00M358.20,907.00M363.82,907.00M369.43,907.00M375.04,907.00M380.66,907.00M386.27,907.00M391.89,907.00M397.50,907.00M403.11,907.00M408.73,907.00M414.34,907.00M419.96,907.00M425.57,907.00M431.18,907.00M436.80,907.00M442.41,907.00M448.03,907.00M453.64,907.00M459.25,907.00M464.87,907.00M470.48,907.00M476.10,907.00M481.71,907.00M487.32,907.00M492.94,907.00M498.55,907.00M504.17,907.00M509.78,907.00M515.39,907.00M521.01,907.00M526.62,907.00M532.24,907.00M537.85,907.00M543.46,907.00M549.08,907.00M554.69,907.00M560.31,907.00M565.92,907.00M571.53,907.00M577.15,907.00M582.76,907.00M588.38,907.00M593.99,907.00M599.60,907.00M605.22,907.00M610.83,907.00M616.45,907.00M622.06,907.00M627.67,907.00M633.29,907.00M638.90,907.00M644.52,907.00M650.13,907.00M655.74,907.00M661.36,907.00M666.97,907.00M672.59,907.00M678.20,907.00" fill="none" stroke="#92D392" stroke-width="1.0" stroke-linejoin="round"/>
<circle cx="116.80" cy="907.00" r="1.55" fill="#88CE89"/><circle cx="122.41" cy="907.00" r="1.55" fill="#88CE89"/><circle cx="128.03" cy="907.00" r="1.55" fill="#88CE89"/><circle cx="133.64" cy="907.00" r="1.55" fill="#88CE89"/><circle cx="139.26" cy="907.00" r="1.55" fill="#88CE89"/><circle cx="144.87" cy="907.00" r="1.55" fill="#88CE89"/><circle cx="150.48" cy="907.00" r="1.55" fill="#88CE89"/><circle cx="156.10" cy="907.00" r="1.55" fill="#88CE89"/><circle cx="161.71" cy="907.00" r="1.55" fill="#88CE89"/><circle cx="167.33" cy="907.00" r="1.55" fill="#88CE89"/><circle cx="172.94" cy="907.00" r="1.55" fill="#88CE89"/><circle cx="178.55" cy="907.00" r="1.55" fill="#88CE89"/><circle cx="184.17" cy="907.00" r="1.55" fill="#88CE89"/><circle cx="189.78" cy="907.00" r="1.55" fill="#88CE89"/><circle cx="195.40" cy="907.00" r="1.55" fill="#88CE89"/><circle cx="201.01" cy="907.00" r="1.55" fill="#88CE89"/><circle cx="206.62" cy="907.00" r="1.55" fill="#88CE89"/><circle cx="212.24" cy="907.00" r="1.55" fill="#88CE89"/><circle cx="217.85" cy="907.00" r="1.55" fill="#88CE89"/><circle cx="223.47" cy="907.00" r="1.55" fill="#88CE89"/><circle cx="229.08" cy="907.00" r="1.55" fill="#88CE89"/><circle cx="234.69" cy="907.00" r="1.55" fill="#88CE89"/><circle cx="240.31" cy="907.00" r="1.55" fill="#88CE89"/><circle cx="245.92" cy="907.00" r="1.55" fill="#88CE89"/><circle cx="251.54" cy="907.00" r="1.55" fill="#88CE89"/><circle cx="257.15" cy="907.00" r="1.55" fill="#88CE89"/><circle cx="262.76" cy="907.00" r="1.55" fill="#88CE89"/><circle cx="268.38" cy="907.00" r="1.55" fill="#88CE89"/><circle cx="273.99" cy="907.00" r="1.55" fill="#88CE89"/><circle cx="279.61" cy="907.00" r="1.55" fill="#88CE89"/><circle cx="285.22" cy="907.00" r="1.55" fill="#88CE89"/><circle cx="290.83" cy="907.00" r="1.55" fill="#88CE89"/><circle cx="296.45" cy="907.00" r="1.55" fill="#88CE89"/><circle cx="302.06" cy="907.00" r="1.55" fill="#88CE89"/><circle cx="307.68" cy="907.00" r="1.55" fill="#88CE89"/><circle cx="313.29" cy="907.00" r="1.55" fill="#88CE89"/><circle cx="318.90" cy="907.00" r="1.55" fill="#88CE89"/><circle cx="324.52" cy="907.00" r="1.55" fill="#88CE89"/><circle cx="330.13" cy="907.00" r="1.55" fill="#88CE89"/><circle cx="335.75" cy="907.00" r="1.55" fill="#88CE89"/><circle cx="341.36" cy="907.00" r="1.55" fill="#88CE89"/><circle cx="346.97" cy="907.00" r="1.55" fill="#88CE89"/><circle cx="352.59" cy="907.00" r="1.55" fill="#88CE89"/><circle cx="358.20" cy="907.00" r="1.55" fill="#88CE89"/><circle cx="363.82" cy="907.00" r="1.55" fill="#88CE89"/><circle cx="369.43" cy="907.00" r="1.55" fill="#88CE89"/><circle cx="375.04" cy="907.00" r="1.55" fill="#88CE89"/><circle cx="380.66" cy="907.00" r="1.55" fill="#88CE89"/><circle cx="386.27" cy="907.00" r="1.55" fill="#88CE89"/><circle cx="391.89" cy="907.00" r="1.55" fill="#88CE89"/><circle cx="397.50" cy="907.00" r="1.55" fill="#88CE89"/><circle cx="403.11" cy="907.00" r="1.55" fill="#88CE89"/><circle cx="408.73" cy="907.00" r="1.55" fill="#88CE89"/><circle cx="414.34" cy="907.00" r="1.55" fill="#88CE89"/><circle cx="419.96" cy="907.00" r="1.55" fill="#88CE89"/><circle cx="425.57" cy="907.00" r="1.55" fill="#88CE89"/><circle cx="431.18" cy="907.00" r="1.55" fill="#88CE89"/><circle cx="436.80" cy="907.00" r="1.55" fill="#88CE89"/><circle cx="442.41" cy="907.00" r="1.55" fill="#88CE89"/><circle cx="448.03" cy="907.00" r="1.55" fill="#88CE89"/><circle cx="453.64" cy="907.00" r="1.55" fill="#88CE89"/><circle cx="459.25" cy="907.00" r="1.55" fill="#88CE89"/><circle cx="464.87" cy="907.00" r="1.55" fill="#88CE89"/><circle cx="470.48" cy="907.00" r="1.55" fill="#88CE89"/><circle cx="476.10" cy="907.00" r="1.55" fill="#88CE89"/><circle cx="481.71" cy="907.00" r="1.55" fill="#88CE89"/><circle cx="487.32" cy="907.00" r="1.55" fill="#88CE89"/><circle cx="492.94" cy="907.00" r="1.55" fill="#88CE89"/><circle cx="498.55" cy="907.00" r="1.55" fill="#88CE89"/><circle cx="504.17" cy="907.00" r="1.55" fill="#88CE89"/><circle cx="509.78" cy="907.00" r="1.55" fill="#88CE89"/><circle cx="515.39" cy="907.00" r="1.55" fill="#88CE89"/><circle cx="521.01" cy="907.00" r="1.55" fill="#88CE89"/><circle cx="526.62" cy="907.00" r="1.55" fill="#88CE89"/><circle cx="532.24" cy="907.00" r="1.55" fill="#88CE89"/><circle cx="537.85" cy="907.00" r="1.55" fill="#88CE89"/><circle cx="543.46" cy="907.00" r="1.55" fill="#88CE89"/><circle cx="549.08" cy="907.00" r="1.55" fill="#88CE89"/><circle cx="554.69" cy="907.00" r="1.55" fill="#88CE89"/><circle cx="560.31" cy="907.00" r="1.55" fill="#88CE89"/><circle cx="565.92" cy="907.00" r="1.55" fill="#88CE89"/><circle cx="571.53" cy="907.00" r="1.55" fill="#88CE89"/><circle cx="577.15" cy="907.00" r="1.55" fill="#88CE89"/><circle cx="582.76" cy="907.00" r="1.55" fill="#88CE89"/><circle cx="588.38" cy="907.00" r="1.55" fill="#88CE89"/><circle cx="593.99" cy="907.00" r="1.55" fill="#88CE89"/><circle cx="599.60" cy="907.00" r="1.55" fill="#88CE89"/><circle cx="605.22" cy="907.00" r="1.55" fill="#88CE89"/><circle cx="610.83" cy="907.00" r="1.55" fill="#88CE89"/><circle cx="616.45" cy="907.00" r="1.55" fill="#88CE89"/><circle cx="622.06" cy="907.00" r="1.55" fill="#88CE89"/><circle cx="627.67" cy="907.00" r="1.55" fill="#88CE89"/><circle cx="633.29" cy="907.00" r="1.55" fill="#88CE89"/><circle cx="638.90" cy="907.00" r="1.55" fill="#88CE89"/><circle cx="644.52" cy="907.00" r="1.55" fill="#88CE89"/><circle cx="650.13" cy="907.00" r="1.55" fill="#88CE89"/><circle cx="655.74" cy="907.00" r="1.55" fill="#88CE89"/><circle cx="661.36" cy="907.00" r="1.55" fill="#88CE89"/><circle cx="666.97" cy="907.00" r="1.55" fill="#88CE89"/><circle cx="672.59" cy="907.00" r="1.55" fill="#88CE89"/><circle cx="678.20" cy="907.00" r="1.55" fill="#88CE89"/>
<path d="M116.80,907.00M122.41,907.00M128.03,907.00M133.64,907.00M139.26,907.00M144.87,907.00M150.48,907.00M156.10,907.00M161.71,907.00M167.33,907.00M172.94,907.00M178.55,907.00M184.17,907.00M189.78,907.00M195.40,907.00M201.01,907.00M206.62,907.00M212.24,907.00M217.85,907.00M223.47,907.00M229.08,907.00M234.69,907.00M240.31,907.00M245.92,907.00M251.54,907.00M257.15,907.00M262.76,907.00M268.38,907.00M273.99,907.00M279.61,907.00M285.22,907.00M290.83,907.00M296.45,907.00M302.06,907.00M307.68,907.00M313.29,907.00M318.90,907.00M324.52,907.00M330.13,907.00M335.75,907.00M341.36,907.00M346.97,907.00M352.59,907.00M358.20,907.00M363.82,907.00M369.43,907.00M375.04,907.00M380.66,907.00M386.27,907.00M391.89,907.00M397.50,907.00M403.11,907.00M408.73,907.00M414.34,907.00M419.96,907.00M425.57,907.00M431.18,907.00M436.80,907.00M442.41,907.00M448.03,907.00M453.64,907.00M459.25,907.00M464.87,907.00M470.48,907.00M476.10,907.00M481.71,907.00M487.32,907.00M492.94,907.00M498.55,907.00M504.17,907.00M509.78,907.00M515.39,907.00M521.01,907.00M526.62,907.00M532.24,907.00M537.85,907.00M543.46,907.00M549.08,907.00M554.69,907.00M560.31,907.00M565.92,907.00M571.53,907.00M577.15,907.00M582.76,907.00M588.38,907.00M593.99,907.00M599.60,907.00M605.22,907.00M610.83,907.00M616.45,907.00M622.06,907.00M627.67,907.00M633.29,907.00M638.90,907.00M644.52,907.00M650.13,907.00M655.74,907.00M661.36,907.00M666.97,907.00M672.59,907.00M678.20,907.00" fill="none" stroke="#C5B6E0" stroke-width="1.0" stroke-linejoin="round"/>
<path d="M116.80,905.20L118.60,908.35L115.00,908.35Z" fill="#B8A6DA"/><path d="M122.41,905.20L124.21,908.35L120.61,908.35Z" fill="#B8A6DA"/><path d="M128.03,905.20L129.83,908.35L126.23,908.35Z" fill="#B8A6DA"/><path d="M133.64,905.20L135.44,908.35L131.84,908.35Z" fill="#B8A6DA"/><path d="M139.26,905.20L141.06,908.35L137.46,908.35Z" fill="#B8A6DA"/><path d="M144.87,905.20L146.67,908.35L143.07,908.35Z" fill="#B8A6DA"/><path d="M150.48,905.20L152.28,908.35L148.68,908.35Z" fill="#B8A6DA"/><path d="M156.10,905.20L157.90,908.35L154.30,908.35Z" fill="#B8A6DA"/><path d="M161.71,905.20L163.51,908.35L159.91,908.35Z" fill="#B8A6DA"/><path d="M167.33,905.20L169.13,908.35L165.53,908.35Z" fill="#B8A6DA"/><path d="M172.94,905.20L174.74,908.35L171.14,908.35Z" fill="#B8A6DA"/><path d="M178.55,905.20L180.35,908.35L176.75,908.35Z" fill="#B8A6DA"/><path d="M184.17,905.20L185.97,908.35L182.37,908.35Z" fill="#B8A6DA"/><path d="M189.78,905.20L191.58,908.35L187.98,908.35Z" fill="#B8A6DA"/><path d="M195.40,905.20L197.20,908.35L193.60,908.35Z" fill="#B8A6DA"/><path d="M201.01,905.20L202.81,908.35L199.21,908.35Z" fill="#B8A6DA"/><path d="M206.62,905.20L208.42,908.35L204.82,908.35Z" fill="#B8A6DA"/><path d="M212.24,905.20L214.04,908.35L210.44,908.35Z" fill="#B8A6DA"/><path d="M217.85,905.20L219.65,908.35L216.05,908.35Z" fill="#B8A6DA"/><path d="M223.47,905.20L225.27,908.35L221.67,908.35Z" fill="#B8A6DA"/><path d="M229.08,905.20L230.88,908.35L227.28,908.35Z" fill="#B8A6DA"/><path d="M234.69,905.20L236.49,908.35L232.89,908.35Z" fill="#B8A6DA"/><path d="M240.31,905.20L242.11,908.35L238.51,908.35Z" fill="#B8A6DA"/><path d="M245.92,905.20L247.72,908.35L244.12,908.35Z" fill="#B8A6DA"/><path d="M251.54,905.20L253.34,908.35L249.74,908.35Z" fill="#B8A6DA"/><path d="M257.15,905.20L258.95,908.35L255.35,908.35Z" fill="#B8A6DA"/><path d="M262.76,905.20L264.56,908.35L260.96,908.35Z" fill="#B8A6DA"/><path d="M268.38,905.20L270.18,908.35L266.58,908.35Z" fill="#B8A6DA"/><path d="M273.99,905.20L275.79,908.35L272.19,908.35Z" fill="#B8A6DA"/><path d="M279.61,905.20L281.41,908.35L277.81,908.35Z" fill="#B8A6DA"/><path d="M285.22,905.20L287.02,908.35L283.42,908.35Z" fill="#B8A6DA"/><path d="M290.83,905.20L292.63,908.35L289.03,908.35Z" fill="#B8A6DA"/><path d="M296.45,905.20L298.25,908.35L294.65,908.35Z" fill="#B8A6DA"/><path d="M302.06,905.20L303.86,908.35L300.26,908.35Z" fill="#B8A6DA"/><path d="M307.68,905.20L309.48,908.35L305.88,908.35Z" fill="#B8A6DA"/><path d="M313.29,905.20L315.09,908.35L311.49,908.35Z" fill="#B8A6DA"/><path d="M318.90,905.20L320.70,908.35L317.10,908.35Z" fill="#B8A6DA"/><path d="M324.52,905.20L326.32,908.35L322.72,908.35Z" fill="#B8A6DA"/><path d="M330.13,905.20L331.93,908.35L328.33,908.35Z" fill="#B8A6DA"/><path d="M335.75,905.20L337.55,908.35L333.95,908.35Z" fill="#B8A6DA"/><path d="M341.36,905.20L343.16,908.35L339.56,908.35Z" fill="#B8A6DA"/><path d="M346.97,905.20L348.77,908.35L345.17,908.35Z" fill="#B8A6DA"/><path d="M352.59,905.20L354.39,908.35L350.79,908.35Z" fill="#B8A6DA"/><path d="M358.20,905.20L360.00,908.35L356.40,908.35Z" fill="#B8A6DA"/><path d="M363.82,905.20L365.62,908.35L362.02,908.35Z" fill="#B8A6DA"/><path d="M369.43,905.20L371.23,908.35L367.63,908.35Z" fill="#B8A6DA"/><path d="M375.04,905.20L376.84,908.35L373.24,908.35Z" fill="#B8A6DA"/><path d="M380.66,905.20L382.46,908.35L378.86,908.35Z" fill="#B8A6DA"/><path d="M386.27,905.20L388.07,908.35L384.47,908.35Z" fill="#B8A6DA"/><path d="M391.89,905.20L393.69,908.35L390.09,908.35Z" fill="#B8A6DA"/><path d="M397.50,905.20L399.30,908.35L395.70,908.35Z" fill="#B8A6DA"/><path d="M403.11,905.20L404.91,908.35L401.31,908.35Z" fill="#B8A6DA"/><path d="M408.73,905.20L410.53,908.35L406.93,908.35Z" fill="#B8A6DA"/><path d="M414.34,905.20L416.14,908.35L412.54,908.35Z" fill="#B8A6DA"/><path d="M419.96,905.20L421.76,908.35L418.16,908.35Z" fill="#B8A6DA"/><path d="M425.57,905.20L427.37,908.35L423.77,908.35Z" fill="#B8A6DA"/><path d="M431.18,905.20L432.98,908.35L429.38,908.35Z" fill="#B8A6DA"/><path d="M436.80,905.20L438.60,908.35L435.00,908.35Z" fill="#B8A6DA"/><path d="M442.41,905.20L444.21,908.35L440.61,908.35Z" fill="#B8A6DA"/><path d="M448.03,905.20L449.83,908.35L446.23,908.35Z" fill="#B8A6DA"/><path d="M453.64,905.20L455.44,908.35L451.84,908.35Z" fill="#B8A6DA"/><path d="M459.25,905.20L461.05,908.35L457.45,908.35Z" fill="#B8A6DA"/><path d="M464.87,905.20L466.67,908.35L463.07,908.35Z" fill="#B8A6DA"/><path d="M470.48,905.20L472.28,908.35L468.68,908.35Z" fill="#B8A6DA"/><path d="M476.10,905.20L477.90,908.35L474.30,908.35Z" fill="#B8A6DA"/><path d="M481.71,905.20L483.51,908.35L479.91,908.35Z" fill="#B8A6DA"/><path d="M487.32,905.20L489.12,908.35L485.52,908.35Z" fill="#B8A6DA"/><path d="M492.94,905.20L494.74,908.35L491.14,908.35Z" fill="#B8A6DA"/><path d="M498.55,905.20L500.35,908.35L496.75,908.35Z" fill="#B8A6DA"/><path d="M504.17,905.20L505.97,908.35L502.37,908.35Z" fill="#B8A6DA"/><path d="M509.78,905.20L511.58,908.35L507.98,908.35Z" fill="#B8A6DA"/><path d="M515.39,905.20L517.19,908.35L513.59,908.35Z" fill="#B8A6DA"/><path d="M521.01,905.20L522.81,908.35L519.21,908.35Z" fill="#B8A6DA"/><path d="M526.62,905.20L528.42,908.35L524.82,908.35Z" fill="#B8A6DA"/><path d="M532.24,905.20L534.04,908.35L530.44,908.35Z" fill="#B8A6DA"/><path d="M537.85,905.20L539.65,908.35L536.05,908.35Z" fill="#B8A6DA"/><path d="M543.46,905.20L545.26,908.35L541.66,908.35Z" fill="#B8A6DA"/><path d="M549.08,905.20L550.88,908.35L547.28,908.35Z" fill="#B8A6DA"/><path d="M554.69,905.20L556.49,908.35L552.89,908.35Z" fill="#B8A6DA"/><path d="M560.31,905.20L562.11,908.35L558.51,908.35Z" fill="#B8A6DA"/><path d="M565.92,905.20L567.72,908.35L564.12,908.35Z" fill="#B8A6DA"/><path d="M571.53,905.20L573.33,908.35L569.73,908.35Z" fill="#B8A6DA"/><path d="M577.15,905.20L578.95,908.35L575.35,908.35Z" fill="#B8A6DA"/><path d="M582.76,905.20L584.56,908.35L580.96,908.35Z" fill="#B8A6DA"/><path d="M588.38,905.20L590.18,908.35L586.58,908.35Z" fill="#B8A6DA"/><path d="M593.99,905.20L595.79,908.35L592.19,908.35Z" fill="#B8A6DA"/><path d="M599.60,905.20L601.40,908.35L597.80,908.35Z" fill="#B8A6DA"/><path d="M605.22,905.20L607.02,908.35L603.42,908.35Z" fill="#B8A6DA"/><path d="M610.83,905.20L612.63,908.35L609.03,908.35Z" fill="#B8A6DA"/><path d="M616.45,905.20L618.25,908.35L614.65,908.35Z" fill="#B8A6DA"/><path d="M622.06,905.20L623.86,908.35L620.26,908.35Z" fill="#B8A6DA"/><path d="M627.67,905.20L629.47,908.35L625.87,908.35Z" fill="#B8A6DA"/><path d="M633.29,905.20L635.09,908.35L631.49,908.35Z" fill="#B8A6DA"/><path d="M638.90,905.20L640.70,908.35L637.10,908.35Z" fill="#B8A6DA"/><path d="M644.52,905.20L646.32,908.35L642.72,908.35Z" fill="#B8A6DA"/><path d="M650.13,905.20L651.93,908.35L648.33,908.35Z" fill="#B8A6DA"/><path d="M655.74,905.20L657.54,908.35L653.94,908.35Z" fill="#B8A6DA"/><path d="M661.36,905.20L663.16,908.35L659.56,908.35Z" fill="#B8A6DA"/><path d="M666.97,905.20L668.77,908.35L665.17,908.35Z" fill="#B8A6DA"/><path d="M672.59,905.20L674.39,908.35L670.79,908.35Z" fill="#B8A6DA"/><path d="M678.20,905.20L680.00,908.35L676.40,908.35Z" fill="#B8A6DA"/>
<path d="M116.80,907.00M122.41,907.00M128.03,907.00M133.64,907.00M139.26,907.00M144.87,907.00M150.48,907.00M156.10,907.00M161.71,907.00M167.33,907.00M172.94,907.00M178.55,907.00M184.17,907.00M189.78,907.00M195.40,907.00M201.01,907.00M206.62,907.00M212.24,907.00M217.85,907.00M223.47,907.00M229.08,907.00M234.69,907.00M240.31,907.00M245.92,907.00M251.54,907.00M257.15,907.00M262.76,907.00M268.38,907.00M273.99,907.00M279.61,907.00M285.22,907.00M290.83,907.00M296.45,907.00M302.06,907.00M307.68,907.00M313.29,907.00M318.90,907.00M324.52,907.00M330.13,907.00M335.75,907.00M341.36,907.00M346.97,907.00M352.59,907.00M358.20,907.00M363.82,907.00M369.43,907.00M375.04,907.00L380.66,906.60L386.27,906.30L391.89,905.80L397.50,905.80L403.11,904.90L408.73,904.50L414.34,903.50L419.96,902.30L425.57,902.30L431.18,901.00L436.80,899.60L442.41,898.20L448.03,894.00L453.64,893.00L459.25,897.20L464.87,897.60L470.48,895.00L476.10,887.70L481.71,889.50L487.32,896.00L492.94,890.00L498.55,887.20L504.17,887.20L509.78,889.50L515.39,890.00L521.01,886.90L526.62,892.50L532.24,889.50L537.85,891.20L543.46,893.50L549.08,889.00L554.69,885.50L560.31,875.50L565.92,872.50L571.53,886.90L577.15,881.50L582.76,879.60L588.38,875.80L593.99,875.10L599.60,873.40L605.22,865.40L610.83,863.40L616.45,859.50L622.06,865.70L627.67,863.70L633.29,855.00L638.90,852.30L644.52,844.40L650.13,848.60L655.74,850.60L661.36,846.60L666.97,841.50L672.59,845.20L678.20,846.90" fill="none" stroke="#8FB3F3" stroke-width="1.0" stroke-linejoin="round"/>
<path d="M116.80,908.80L118.60,905.65L115.00,905.65Z" fill="#84ABF2"/><path d="M122.41,908.80L124.21,905.65L120.61,905.65Z" fill="#84ABF2"/><path d="M128.03,908.80L129.83,905.65L126.23,905.65Z" fill="#84ABF2"/><path d="M133.64,908.80L135.44,905.65L131.84,905.65Z" fill="#84ABF2"/><path d="M139.26,908.80L141.06,905.65L137.46,905.65Z" fill="#84ABF2"/><path d="M144.87,908.80L146.67,905.65L143.07,905.65Z" fill="#84ABF2"/><path d="M150.48,908.80L152.28,905.65L148.68,905.65Z" fill="#84ABF2"/><path d="M156.10,908.80L157.90,905.65L154.30,905.65Z" fill="#84ABF2"/><path d="M161.71,908.80L163.51,905.65L159.91,905.65Z" fill="#84ABF2"/><path d="M167.33,908.80L169.13,905.65L165.53,905.65Z" fill="#84ABF2"/><path d="M172.94,908.80L174.74,905.65L171.14,905.65Z" fill="#84ABF2"/><path d="M178.55,908.80L180.35,905.65L176.75,905.65Z" fill="#84ABF2"/><path d="M184.17,908.80L185.97,905.65L182.37,905.65Z" fill="#84ABF2"/><path d="M189.78,908.80L191.58,905.65L187.98,905.65Z" fill="#84ABF2"/><path d="M195.40,908.80L197.20,905.65L193.60,905.65Z" fill="#84ABF2"/><path d="M201.01,908.80L202.81,905.65L199.21,905.65Z" fill="#84ABF2"/><path d="M206.62,908.80L208.42,905.65L204.82,905.65Z" fill="#84ABF2"/><path d="M212.24,908.80L214.04,905.65L210.44,905.65Z" fill="#84ABF2"/><path d="M217.85,908.80L219.65,905.65L216.05,905.65Z" fill="#84ABF2"/><path d="M223.47,908.80L225.27,905.65L221.67,905.65Z" fill="#84ABF2"/><path d="M229.08,908.80L230.88,905.65L227.28,905.65Z" fill="#84ABF2"/><path d="M234.69,908.80L236.49,905.65L232.89,905.65Z" fill="#84ABF2"/><path d="M240.31,908.80L242.11,905.65L238.51,905.65Z" fill="#84ABF2"/><path d="M245.92,908.80L247.72,905.65L244.12,905.65Z" fill="#84ABF2"/><path d="M251.54,908.80L253.34,905.65L249.74,905.65Z" fill="#84ABF2"/><path d="M257.15,908.80L258.95,905.65L255.35,905.65Z" fill="#84ABF2"/><path d="M262.76,908.80L264.56,905.65L260.96,905.65Z" fill="#84ABF2"/><path d="M268.38,908.80L270.18,905.65L266.58,905.65Z" fill="#84ABF2"/><path d="M273.99,908.80L275.79,905.65L272.19,905.65Z" fill="#84ABF2"/><path d="M279.61,908.80L281.41,905.65L277.81,905.65Z" fill="#84ABF2"/><path d="M285.22,908.80L287.02,905.65L283.42,905.65Z" fill="#84ABF2"/><path d="M290.83,908.80L292.63,905.65L289.03,905.65Z" fill="#84ABF2"/><path d="M296.45,908.80L298.25,905.65L294.65,905.65Z" fill="#84ABF2"/><path d="M302.06,908.80L303.86,905.65L300.26,905.65Z" fill="#84ABF2"/><path d="M307.68,908.80L309.48,905.65L305.88,905.65Z" fill="#84ABF2"/><path d="M313.29,908.80L315.09,905.65L311.49,905.65Z" fill="#84ABF2"/><path d="M318.90,908.80L320.70,905.65L317.10,905.65Z" fill="#84ABF2"/><path d="M324.52,908.80L326.32,905.65L322.72,905.65Z" fill="#84ABF2"/><path d="M330.13,908.80L331.93,905.65L328.33,905.65Z" fill="#84ABF2"/><path d="M335.75,908.80L337.55,905.65L333.95,905.65Z" fill="#84ABF2"/><path d="M341.36,908.80L343.16,905.65L339.56,905.65Z" fill="#84ABF2"/><path d="M346.97,908.80L348.77,905.65L345.17,905.65Z" fill="#84ABF2"/><path d="M352.59,908.80L354.39,905.65L350.79,905.65Z" fill="#84ABF2"/><path d="M358.20,908.80L360.00,905.65L356.40,905.65Z" fill="#84ABF2"/><path d="M363.82,908.80L365.62,905.65L362.02,905.65Z" fill="#84ABF2"/><path d="M369.43,908.80L371.23,905.65L367.63,905.65Z" fill="#84ABF2"/><path d="M375.04,908.80L376.84,905.65L373.24,905.65Z" fill="#84ABF2"/><path d="M380.66,908.40L382.46,905.25L378.86,905.25Z" fill="#84ABF2"/><path d="M386.27,908.10L388.07,904.95L384.47,904.95Z" fill="#84ABF2"/><path d="M391.89,907.60L393.69,904.45L390.09,904.45Z" fill="#84ABF2"/><path d="M397.50,907.60L399.30,904.45L395.70,904.45Z" fill="#84ABF2"/><path d="M403.11,906.70L404.91,903.55L401.31,903.55Z" fill="#84ABF2"/><path d="M408.73,906.30L410.53,903.15L406.93,903.15Z" fill="#84ABF2"/><path d="M414.34,905.30L416.14,902.15L412.54,902.15Z" fill="#84ABF2"/><path d="M419.96,904.10L421.76,900.95L418.16,900.95Z" fill="#84ABF2"/><path d="M425.57,904.10L427.37,900.95L423.77,900.95Z" fill="#84ABF2"/><path d="M431.18,902.80L432.98,899.65L429.38,899.65Z" fill="#84ABF2"/><path d="M436.80,901.40L438.60,898.25L435.00,898.25Z" fill="#84ABF2"/><path d="M442.41,900.00L444.21,896.85L440.61,896.85Z" fill="#84ABF2"/><path d="M448.03,895.80L449.83,892.65L446.23,892.65Z" fill="#84ABF2"/><path d="M453.64,894.80L455.44,891.65L451.84,891.65Z" fill="#84ABF2"/><path d="M459.25,899.00L461.05,895.85L457.45,895.85Z" fill="#84ABF2"/><path d="M464.87,899.40L466.67,896.25L463.07,896.25Z" fill="#84ABF2"/><path d="M470.48,896.80L472.28,893.65L468.68,893.65Z" fill="#84ABF2"/><path d="M476.10,889.50L477.90,886.35L474.30,886.35Z" fill="#84ABF2"/><path d="M481.71,891.30L483.51,888.15L479.91,888.15Z" fill="#84ABF2"/><path d="M487.32,897.80L489.12,894.65L485.52,894.65Z" fill="#84ABF2"/><path d="M492.94,891.80L494.74,888.65L491.14,888.65Z" fill="#84ABF2"/><path d="M498.55,889.00L500.35,885.85L496.75,885.85Z" fill="#84ABF2"/><path d="M504.17,889.00L505.97,885.85L502.37,885.85Z" fill="#84ABF2"/><path d="M509.78,891.30L511.58,888.15L507.98,888.15Z" fill="#84ABF2"/><path d="M515.39,891.80L517.19,888.65L513.59,888.65Z" fill="#84ABF2"/><path d="M521.01,888.70L522.81,885.55L519.21,885.55Z" fill="#84ABF2"/><path d="M526.62,894.30L528.42,891.15L524.82,891.15Z" fill="#84ABF2"/><path d="M532.24,891.30L534.04,888.15L530.44,888.15Z" fill="#84ABF2"/><path d="M537.85,893.00L539.65,889.85L536.05,889.85Z" fill="#84ABF2"/><path d="M543.46,895.30L545.26,892.15L541.66,892.15Z" fill="#84ABF2"/><path d="M549.08,890.80L550.88,887.65L547.28,887.65Z" fill="#84ABF2"/><path d="M554.69,887.30L556.49,884.15L552.89,884.15Z" fill="#84ABF2"/><path d="M560.31,877.30L562.11,874.15L558.51,874.15Z" fill="#84ABF2"/><path d="M565.92,874.30L567.72,871.15L564.12,871.15Z" fill="#84ABF2"/><path d="M571.53,888.70L573.33,885.55L569.73,885.55Z" fill="#84ABF2"/><path d="M577.15,883.30L578.95,880.15L575.35,880.15Z" fill="#84ABF2"/><path d="M582.76,881.40L584.56,878.25L580.96,878.25Z" fill="#84ABF2"/><path d="M588.38,877.60L590.18,874.45L586.58,874.45Z" fill="#84ABF2"/><path d="M593.99,876.90L595.79,873.75L592.19,873.75Z" fill="#84ABF2"/><path d="M599.60,875.20L601.40,872.05L597.80,872.05Z" fill="#84ABF2"/><path d="M605.22,867.20L607.02,864.05L603.42,864.05Z" fill="#84ABF2"/><path d="M610.83,865.20L612.63,862.05L609.03,862.05Z" fill="#84ABF2"/><path d="M616.45,861.30L618.25,858.15L614.65,858.15Z" fill="#84ABF2"/><path d="M622.06,867.50L623.86,864.35L620.26,864.35Z" fill="#84ABF2"/><path d="M627.67,865.50L629.47,862.35L625.87,862.35Z" fill="#84ABF2"/><path d="M633.29,856.80L635.09,853.65L631.49,853.65Z" fill="#84ABF2"/><path d="M638.90,854.10L640.70,850.95L637.10,850.95Z" fill="#84ABF2"/><path d="M644.52,846.20L646.32,843.05L642.72,843.05Z" fill="#84ABF2"/><path d="M650.13,850.40L651.93,847.25L648.33,847.25Z" fill="#84ABF2"/><path d="M655.74,852.40L657.54,849.25L653.94,849.25Z" fill="#84ABF2"/><path d="M661.36,848.40L663.16,845.25L659.56,845.25Z" fill="#84ABF2"/><path d="M666.97,843.30L668.77,840.15L665.17,840.15Z" fill="#84ABF2"/><path d="M672.59,847.00L674.39,843.85L670.79,843.85Z" fill="#84ABF2"/><path d="M678.20,848.70L680.00,845.55L676.40,845.55Z" fill="#84ABF2"/>
</g>
<text x="108.0" y="522.17" text-anchor="end" font-family="'Liberation Sans', sans-serif" font-size="16.4">3.0x10<tspan dy="-6.9" font-size="10">-3</tspan></text>
<text x="108.0" y="538.27" text-anchor="end" font-family="'Liberation Sans', sans-serif" font-size="16.4">2.5x10<tspan dy="-6.9" font-size="10">-3</tspan></text>
<text x="108.0" y="554.27" text-anchor="end" font-family="'Liberation Sans', sans-serif" font-size="16.4">2.0x10<tspan dy="-6.9" font-size="10">-3</tspan></text>
<text x="108.0" y="570.27" text-anchor="end" font-family="'Liberation Sans', sans-serif" font-size="16.4">1.5x10<tspan dy="-6.9" font-size="10">-3</tspan></text>
<text x="108.0" y="586.37" text-anchor="end" font-family="'Liberation Sans', sans-serif" font-size="16.4">1.0x10<tspan dy="-6.9" font-size="10">-3</tspan></text>
<text x="108.0" y="602.37" text-anchor="end" font-family="'Liberation Sans', sans-serif" font-size="16.4">5.0x10<tspan dy="-6.9" font-size="10">-4</tspan></text>
<text x="108.0" y="618.47" text-anchor="end" font-family="'Liberation Sans', sans-serif" font-size="16.4">0.0</text>
<text x="108.0" y="648.47" text-anchor="end" font-family="'Liberation Sans', sans-serif" font-size="16.4">1.0x10<tspan dy="-6.9" font-size="10">-4</tspan></text>
<text x="108.0" y="682.87" text-anchor="end" font-family="'Liberation Sans', sans-serif" font-size="16.4">5.0x10<tspan dy="-6.9" font-size="10">-5</tspan></text>
<text x="108.0" y="717.27" text-anchor="end" font-family="'Liberation Sans', sans-serif" font-size="16.4">0.0</text>
<text x="108.0" y="730.37" text-anchor="end" font-family="'Liberation Sans', sans-serif" font-size="16.4">2.0x10<tspan dy="-6.9" font-size="10">-4</tspan></text>
<text x="108.0" y="751.67" text-anchor="end" font-family="'Liberation Sans', sans-serif" font-size="16.4">1.5x10<tspan dy="-6.9" font-size="10">-4</tspan></text>
<text x="108.0" y="772.87" text-anchor="end" font-family="'Liberation Sans', sans-serif" font-size="16.4">1.0x10<tspan dy="-6.9" font-size="10">-4</tspan></text>
<text x="108.0" y="794.17" text-anchor="end" font-family="'Liberation Sans', sans-serif" font-size="16.4">5.0x10<tspan dy="-6.9" font-size="10">-5</tspan></text>
<text x="108.0" y="814.47" text-anchor="end" font-family="'Liberation Sans', sans-serif" font-size="16.4">0.0</text>
<text x="108.0" y="831.87" text-anchor="end" font-family="'Liberation Sans', sans-serif" font-size="16.4">2.0x10<tspan dy="-6.9" font-size="10">-4</tspan></text>
<text x="108.0" y="851.57" text-anchor="end" font-family="'Liberation Sans', sans-serif" font-size="16.4">1.5x10<tspan dy="-6.9" font-size="10">-4</tspan></text>
<text x="108.0" y="872.87" text-anchor="end" font-family="'Liberation Sans', sans-serif" font-size="16.4">1.0x10<tspan dy="-6.9" font-size="10">-4</tspan></text>
<text x="108.0" y="893.47" text-anchor="end" font-family="'Liberation Sans', sans-serif" font-size="16.4">5.0x10<tspan dy="-6.9" font-size="10">-5</tspan></text>
<text x="108.0" y="912.77" text-anchor="end" font-family="'Liberation Sans', sans-serif" font-size="16.4">0.0</text>
<text x="678.40" y="529.6" text-anchor="end" font-family="'Liberation Serif', serif" font-size="16.6">1F escalator</text>
<text x="678.40" y="629.0" text-anchor="end" font-family="'Liberation Serif', serif" font-size="16.6">2F escalator</text>
<text x="678.40" y="727.0" text-anchor="end" font-family="'Liberation Serif', serif" font-size="16.6">3F escalator</text>
<text x="678.40" y="825.6" text-anchor="end" font-family="'Liberation Serif', serif" font-size="16.6">4F escalator</text>
<line x1="124.4" y1="526.90" x2="162.60" y2="526.90" stroke="#F9C796" stroke-width="1.6" stroke-opacity="0.7"/>
<rect x="142.05" y="525.55" width="2.70" height="2.70" fill="#F8BC82"/>
<text x="165.70" y="533.40" font-family="'Liberation Serif', serif" font-size="16.7">The case 1</text>
<line x1="124.4" y1="547.50" x2="162.60" y2="547.50" stroke="#92D392" stroke-width="1.6" stroke-opacity="0.7"/>
<circle cx="143.40" cy="547.50" r="1.55" fill="#88CE89"/>
<text x="165.70" y="554.00" font-family="'Liberation Serif', serif" font-size="16.7">The case 2</text>
<line x1="124.4" y1="568.10" x2="162.60" y2="568.10" stroke="#C5B6E0" stroke-width="1.6" stroke-opacity="0.7"/>
<path d="M143.40,566.30L145.20,569.45L141.60,569.45Z" fill="#B8A6DA"/>
<text x="165.70" y="574.60" font-family="'Liberation Serif', serif" font-size="16.7">The case 3</text>
<line x1="124.4" y1="588.70" x2="162.60" y2="588.70" stroke="#8FB3F3" stroke-width="1.6" stroke-opacity="0.7"/>
<path d="M143.40,590.50L145.20,587.35L141.60,587.35Z" fill="#84ABF2"/>
<text x="165.70" y="595.20" font-family="'Liberation Serif', serif" font-size="16.7">The case 4</text>
<text x="396.3" y="938.4" text-anchor="middle" font-family="'Liberation Serif', serif" font-size="24.6">Time(s)</text>
<text x="397.0" y="970.6" text-anchor="middle" font-family="'Liberation Serif', serif" font-size="25.5">(b)</text>
<text transform="translate(23.2,701.5) rotate(-90)" text-anchor="middle" font-family="'Liberation Serif', serif" font-size="24.5">CO Concentration(kg/m<tspan dy="-9.6" font-size="16.2">-3</tspan><tspan dy="9.6">)</tspan></text>
</svg></body></html>
